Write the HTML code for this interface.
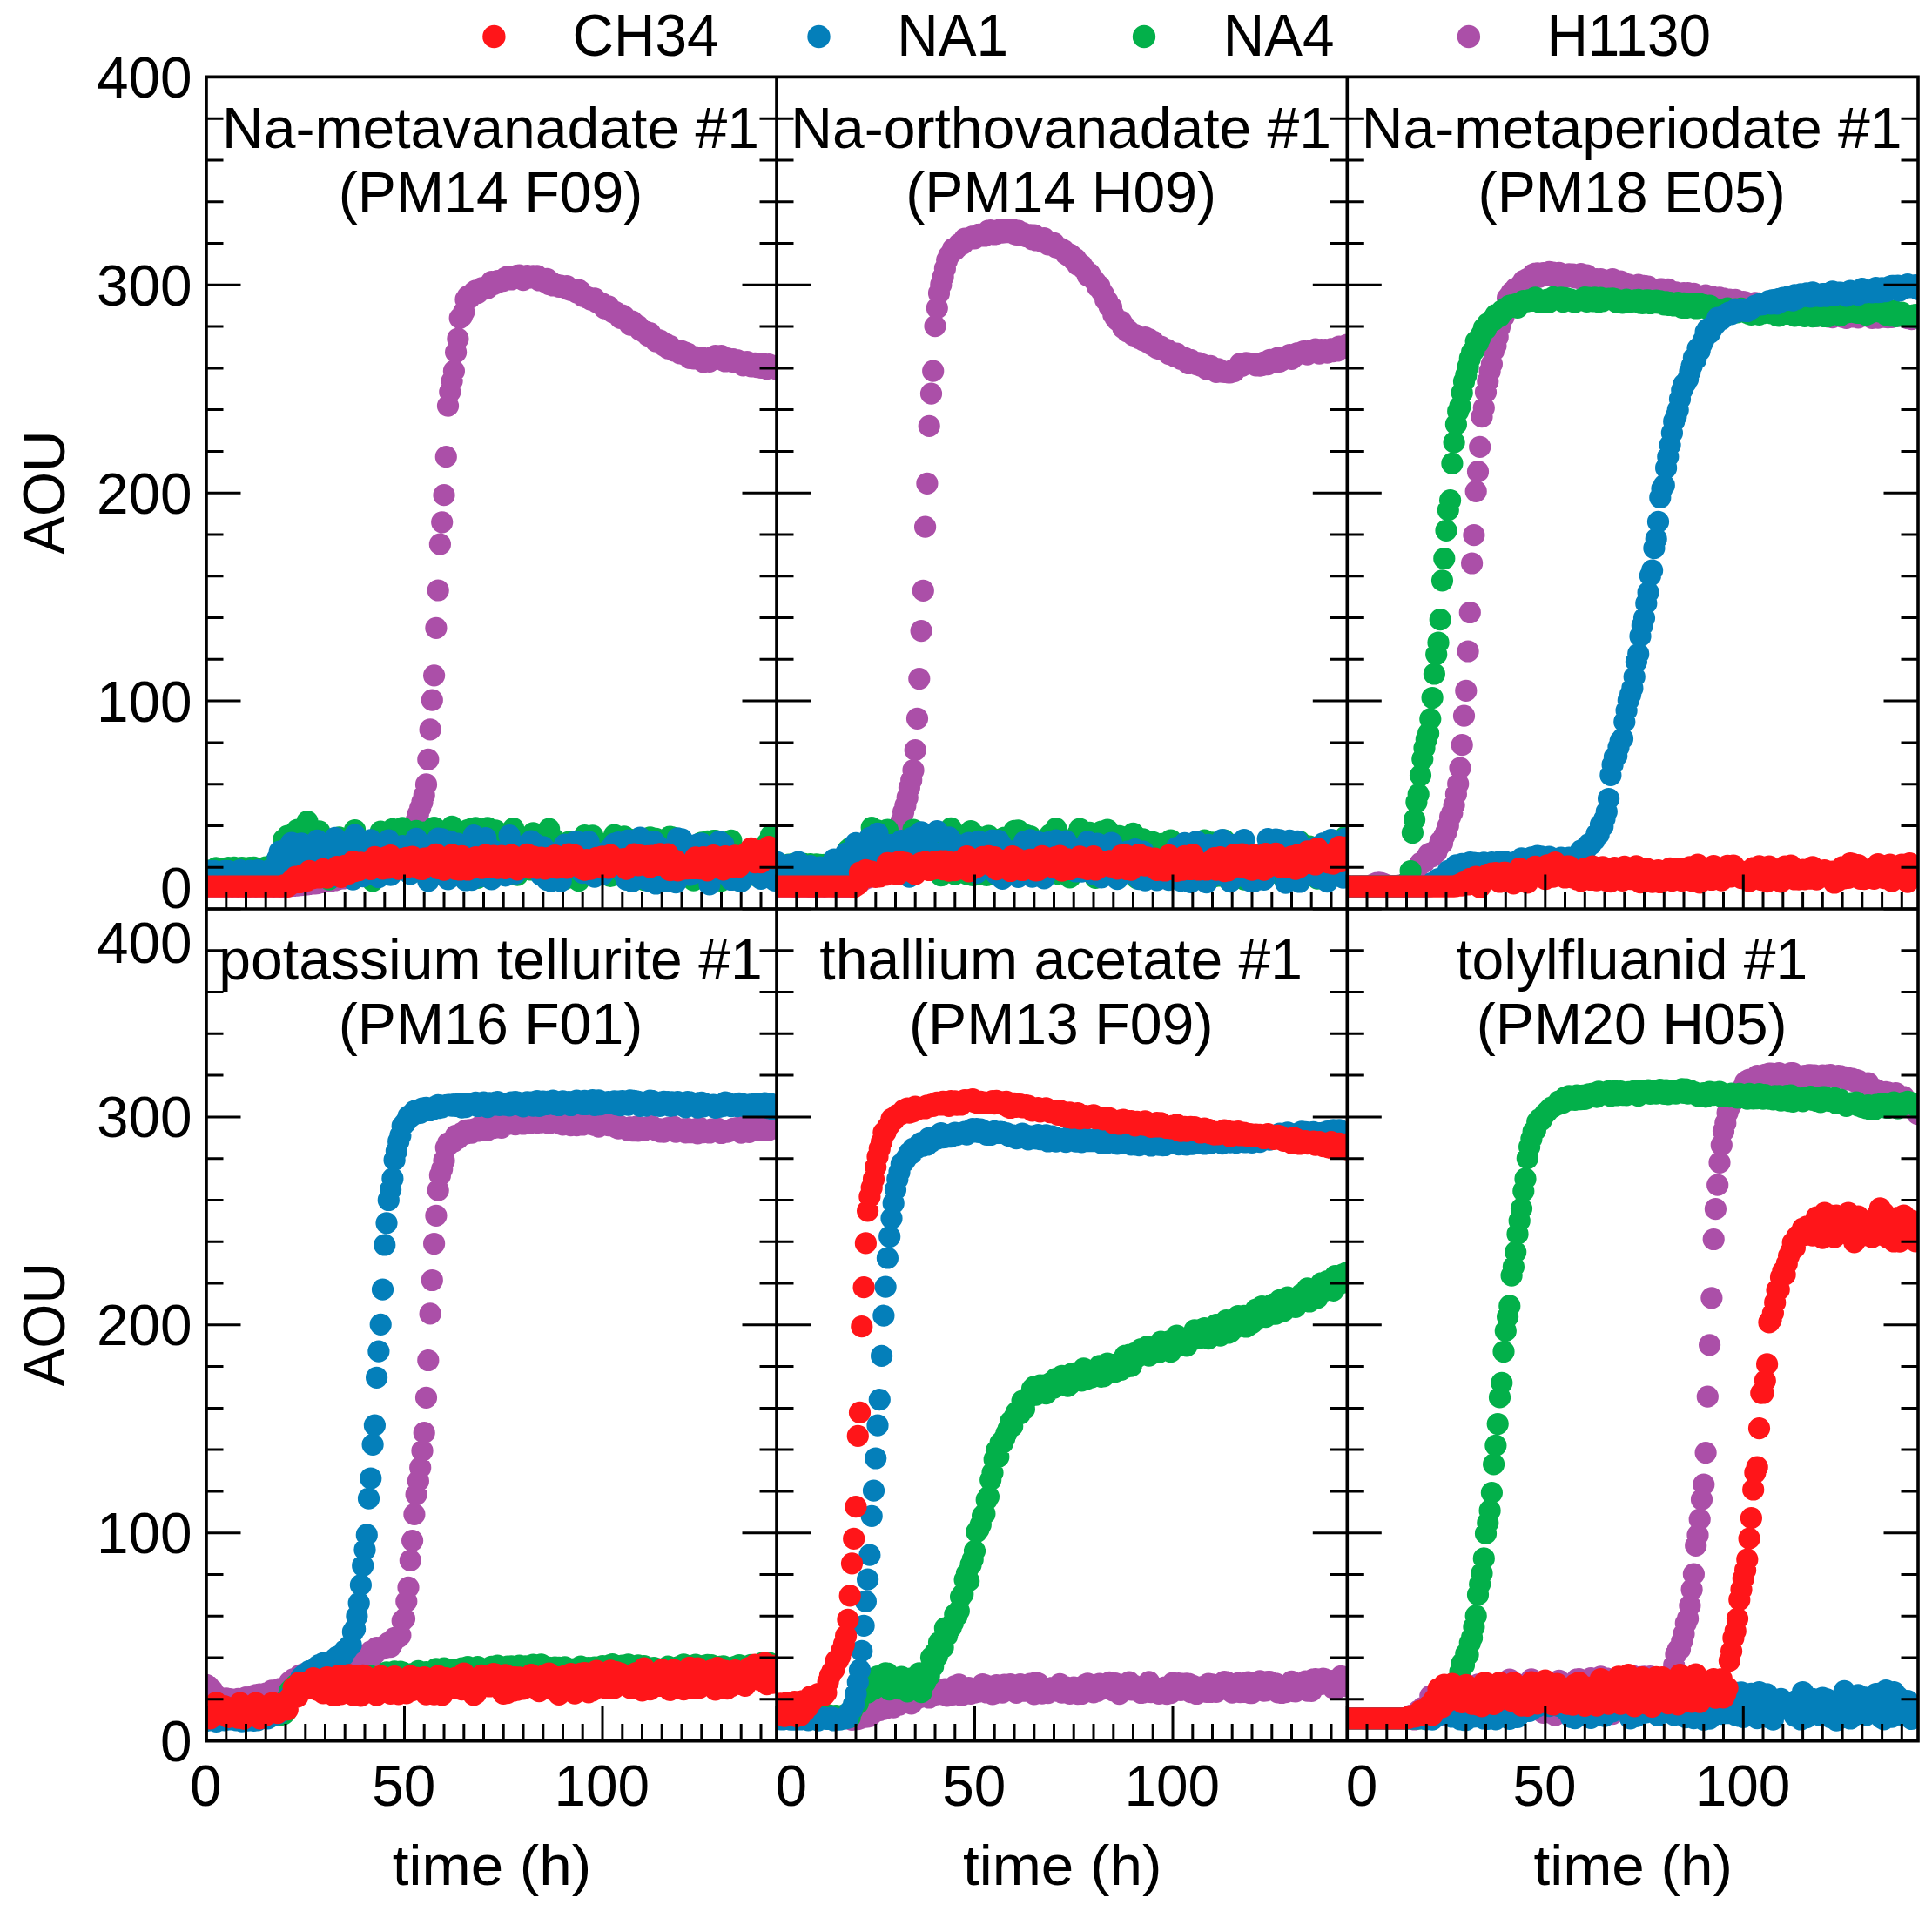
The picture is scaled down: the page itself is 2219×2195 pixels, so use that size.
<!DOCTYPE html>
<html lang="en"><head><meta charset="utf-8"><title>AOU curves</title>
<style>html,body{margin:0;padding:0;background:#fff}svg{display:block}text{font-family:"Liberation Sans",Arial,sans-serif;font-size:65.7px;fill:#000}.d{fill:none;stroke-linecap:round;stroke-width:25.2}.ax{stroke:#000;stroke-width:3.6;fill:none;stroke-linecap:square}.tk{stroke:#000;stroke-width:3;fill:none}</style></head><body>
<svg width="2219" height="2195" viewBox="0 0 2219 2195">
<rect width="2219" height="2195" fill="#fff"/>
<defs>
<clipPath id="c0"><rect x="237.0" y="88.4" width="655.0" height="955.6"/></clipPath>
<clipPath id="c1"><rect x="892.0" y="88.4" width="655.3" height="955.6"/></clipPath>
<clipPath id="c2"><rect x="1547.3" y="88.4" width="655.7" height="955.6"/></clipPath>
<clipPath id="c3"><rect x="237.0" y="1044.0" width="655.0" height="955.6"/></clipPath>
<clipPath id="c4"><rect x="892.0" y="1044.0" width="655.3" height="955.6"/></clipPath>
<clipPath id="c5"><rect x="1547.3" y="1044.0" width="655.7" height="955.6"/></clipPath>
</defs>
<g clip-path="url(#c0)">
<path class="d" stroke="#ab4fa8" d="M237.0 1018.2h0M239.3 1018.2h0M241.6 1018.2h0M243.8 1018.2h0M246.1 1018.2h0M248.4 1018.2h0M250.7 1018.2h0M252.9 1018.2h0M255.2 1018.2h0M257.5 1018.2h0M259.8 1018.2h0M262.0 1018.2h0M264.3 1018.2h0M266.6 1018.3h0M268.9 1018.2h0M271.1 1018.1h0M273.4 1018.3h0M275.7 1018.2h0M277.9 1018.1h0M280.2 1018.3h0M282.5 1018.2h0M284.8 1018.1h0M287.1 1018.3h0M289.3 1018.2h0M291.6 1018.1h0M293.9 1018.3h0M296.1 1018.2h0M298.4 1018.1h0M300.7 1018.1h0M303.0 1018.2h0M305.2 1018.3h0M307.5 1018.2h0M309.8 1018.2h0M312.1 1018.2h0M314.4 1018.3h0M316.6 1018.1h0M318.9 1018.1h0M321.2 1018.3h0M323.4 1018.2h0M325.7 1018.3h0M328.0 1018.1h0M330.3 1018.1h0M332.6 1017.8h0M334.8 1017.7h0M337.1 1017.5h0M339.4 1017.1h0M341.6 1017.1h0M343.9 1016.6h0M346.2 1016.7h0M348.5 1016.1h0M350.8 1016.1h0M353.0 1015.8h0M355.3 1015.5h0M357.6 1015.2h0M359.9 1015.0h0M362.1 1014.9h0M364.4 1014.6h0M366.7 1013.8h0M368.9 1013.5h0M371.2 1013.1h0M373.5 1012.5h0M375.8 1012.3h0M378.0 1012.3h0M380.3 1011.8h0M382.6 1011.1h0M384.9 1011.0h0M387.1 1010.0h0M389.4 1009.6h0M391.7 1009.2h0M394.0 1009.0h0M396.2 1008.2h0M398.5 1008.3h0M400.8 1007.7h0M403.1 1007.0h0M405.4 1006.2h0M407.6 1005.9h0M409.9 1005.7h0M412.2 1005.0h0M414.4 1004.5h0M416.7 1004.1h0M419.0 1003.7h0M421.3 1003.0h0M423.5 1002.6h0M425.8 1001.9h0M428.1 1001.4h0M430.4 1001.3h0M432.6 1001.0h0M434.9 1000.2h0M437.2 999.5h0M439.5 999.1h0M441.8 998.3h0M444.0 997.2h0M446.3 996.9h0M448.6 994.4h0M450.9 993.3h0M453.1 991.2h0M455.4 988.7h0M457.7 986.4h0M459.9 984.3h0M462.2 980.4h0M464.5 977.6h0M466.8 973.4h0M469.0 968.4h0M471.3 963.8h0M473.6 957.8h0M475.9 950.6h0M478.1 942.6h0M480.4 934.6h0M482.7 928.1h0M485.0 921.2h0M487.2 913.4h0M489.5 900.9h0M491.8 872.3h0M494.1 837.9h0M496.3 804.2h0M498.6 775.8h0M500.9 721.3h0M503.2 678.0h0M505.4 625.2h0M507.7 599.8h0M510.0 568.7h0M512.3 524.7h0M514.5 466.1h0M516.8 450.1h0M519.1 437.6h0M521.4 426.2h0M523.6 404.6h0M525.9 389.0h0M528.2 365.3h0M530.5 363.3h0M532.8 358.3h0M535.0 344.0h0M537.3 340.3h0M539.6 342.0h0M541.8 338.7h0M544.1 335.7h0M546.4 333.8h0M548.7 336.7h0M551.0 332.8h0M553.2 330.9h0M555.5 331.0h0M557.8 331.7h0M560.0 331.0h0M562.3 328.0h0M564.6 323.6h0M566.9 326.6h0M569.1 325.7h0M571.4 322.7h0M573.7 323.7h0M576.0 322.5h0M578.2 322.6h0M580.5 319.2h0M582.8 317.9h0M585.1 319.4h0M587.3 321.0h0M589.6 319.9h0M591.9 318.4h0M594.2 316.4h0M596.5 316.1h0M598.7 320.4h0M601.0 321.7h0M603.3 317.0h0M605.5 316.5h0M607.8 319.2h0M610.1 317.4h0M612.4 316.8h0M614.6 318.3h0M616.9 316.8h0M619.2 322.0h0M621.5 321.2h0M623.8 322.0h0M626.0 323.9h0M628.3 320.4h0M630.6 326.5h0M632.8 323.8h0M635.1 328.0h0M637.4 327.0h0M639.7 327.3h0M642.0 329.3h0M644.2 328.0h0M646.5 328.5h0M648.8 330.4h0M651.0 328.7h0M653.3 332.7h0M655.6 333.4h0M657.9 333.3h0M660.1 334.1h0M662.4 336.2h0M664.7 333.2h0M667.0 334.8h0M669.2 340.1h0M671.5 339.9h0M673.8 341.9h0M676.1 341.9h0M678.3 344.1h0M680.6 344.0h0M682.9 342.8h0M685.2 347.2h0M687.5 346.9h0M689.7 348.5h0M692.0 348.9h0M694.3 354.2h0M696.5 351.6h0M698.8 351.9h0M701.1 355.3h0M703.4 358.5h0M705.6 357.8h0M707.9 359.1h0M710.2 361.0h0M712.5 365.4h0M714.8 362.1h0M717.0 363.7h0M719.3 368.2h0M721.6 368.6h0M723.8 373.2h0M726.1 369.1h0M728.4 371.4h0M730.7 373.8h0M733.0 374.4h0M735.2 379.1h0M737.5 379.8h0M739.8 381.6h0M742.0 381.1h0M744.3 385.6h0M746.6 382.6h0M748.9 386.7h0M751.1 388.5h0M753.4 392.0h0M755.7 390.3h0M758.0 391.0h0M760.2 393.4h0M762.5 397.0h0M764.8 395.2h0M767.1 400.1h0M769.4 397.4h0M771.6 400.0h0M773.9 402.8h0M776.2 402.5h0M778.4 402.9h0M780.7 405.9h0M783.0 403.4h0M785.3 406.8h0M787.5 405.0h0M789.8 406.2h0M792.1 411.3h0M794.4 409.1h0M796.6 411.8h0M798.9 410.0h0M801.2 411.8h0M803.5 412.8h0M805.8 410.7h0M808.0 415.8h0M810.3 413.0h0M812.6 414.1h0M814.9 415.3h0M817.1 410.5h0M819.4 411.0h0M821.7 408.7h0M823.9 410.4h0M826.2 412.0h0M828.5 408.6h0M830.8 414.1h0M833.0 415.0h0M835.3 411.7h0M837.6 414.4h0M839.9 415.1h0M842.1 412.7h0M844.4 416.3h0M846.7 413.5h0M849.0 415.4h0M851.2 417.7h0M853.5 419.8h0M855.8 419.2h0M858.1 415.5h0M860.4 419.1h0M862.6 420.9h0M864.9 420.4h0M867.2 417.3h0M869.4 421.7h0M871.7 418.5h0M874.0 422.4h0M876.3 417.9h0M878.5 420.6h0M880.8 423.6h0M883.1 418.7h0M885.4 422.2h0M887.6 420.2h0M889.9 421.5h0M892.2 424.0h0"/>
<path class="d" stroke="#03b04a" d="M237.0 1000.1h0M239.3 1000.0h0M241.6 999.9h0M243.8 1000.4h0M246.1 1000.4h0M248.4 996.8h0M250.7 1000.2h0M252.9 998.5h0M255.2 1000.1h0M257.5 999.7h0M259.8 997.5h0M262.0 996.7h0M264.3 998.6h0M266.6 1000.6h0M268.9 996.4h0M271.1 1000.4h0M273.4 998.9h0M275.7 998.2h0M277.9 996.6h0M280.2 996.9h0M282.5 997.8h0M284.8 998.7h0M287.1 996.7h0M289.3 996.5h0M291.6 996.4h0M293.9 997.0h0M296.1 999.8h0M298.4 998.8h0M300.7 997.9h0M303.0 997.7h0M305.2 996.1h0M307.5 998.8h0M309.8 996.7h0M312.1 998.5h0M314.4 992.5h0M316.6 996.7h0M318.9 987.6h0M321.2 991.6h0M323.4 987.1h0M325.7 964.6h0M328.0 982.0h0M330.3 960.1h0M332.6 971.6h0M334.8 989.6h0M337.1 957.6h0M339.4 988.8h0M341.6 953.0h0M343.9 991.7h0M346.2 958.7h0M348.5 985.6h0M350.8 977.3h0M353.0 943.7h0M355.3 972.1h0M357.6 963.5h0M359.9 960.3h0M362.1 999.8h0M364.4 957.9h0M366.7 954.8h0M368.9 1001.5h0M371.2 978.8h0M373.5 994.9h0M375.8 967.4h0M378.0 1010.2h0M380.3 981.1h0M382.6 964.2h0M384.9 967.7h0M387.1 1005.5h0M389.4 961.8h0M391.7 997.7h0M394.0 963.2h0M396.2 982.0h0M398.5 1002.3h0M400.8 967.6h0M403.1 963.1h0M405.4 969.7h0M407.6 953.5h0M409.9 996.5h0M412.2 997.8h0M414.4 1003.1h0M416.7 979.3h0M419.0 987.8h0M421.3 990.3h0M423.5 984.0h0M425.8 995.3h0M428.1 1011.8h0M430.4 983.2h0M432.6 995.2h0M434.9 984.5h0M437.2 955.2h0M439.5 1001.1h0M441.8 972.9h0M444.0 972.5h0M446.3 994.7h0M448.6 983.1h0M450.9 952.4h0M453.1 990.9h0M455.4 968.1h0M457.7 960.2h0M459.9 989.7h0M462.2 950.9h0M464.5 973.3h0M466.8 980.9h0M469.0 967.7h0M471.3 985.6h0M473.6 967.8h0M475.9 994.8h0M478.1 954.4h0M480.4 978.2h0M482.7 996.8h0M485.0 984.6h0M487.2 956.2h0M489.5 961.6h0M491.8 981.6h0M494.1 989.8h0M496.3 988.3h0M498.6 950.5h0M500.9 1004.6h0M503.2 956.2h0M505.4 958.1h0M507.7 997.6h0M510.0 989.7h0M512.3 976.0h0M514.5 961.4h0M516.8 952.0h0M519.1 949.4h0M521.4 993.9h0M523.6 999.4h0M525.9 980.9h0M528.2 976.5h0M530.5 970.2h0M532.8 1004.7h0M535.0 970.8h0M537.3 953.4h0M539.6 953.8h0M541.8 951.9h0M544.1 953.2h0M546.4 950.8h0M548.7 1008.3h0M551.0 953.5h0M553.2 994.2h0M555.5 991.1h0M557.8 982.3h0M560.0 950.9h0M562.3 973.0h0M564.6 989.0h0M566.9 987.6h0M569.1 953.9h0M571.4 959.1h0M573.7 1002.6h0M576.0 995.6h0M578.2 987.7h0M580.5 997.6h0M582.8 975.5h0M585.1 997.2h0M587.3 974.7h0M589.6 951.7h0M591.9 957.2h0M594.2 1005.1h0M596.5 998.3h0M598.7 985.1h0M601.0 970.1h0M603.3 986.8h0M605.5 995.6h0M607.8 989.7h0M610.1 999.0h0M612.4 956.9h0M614.6 967.8h0M616.9 986.5h0M619.2 968.1h0M621.5 980.1h0M623.8 980.0h0M626.0 990.6h0M628.3 983.2h0M630.6 952.1h0M632.8 965.3h0M635.1 963.0h0M637.4 1006.8h0M639.7 983.6h0M642.0 992.1h0M644.2 1008.9h0M646.5 990.5h0M648.8 1009.6h0M651.0 1000.0h0M653.3 967.0h0M655.6 973.8h0M657.9 973.2h0M660.1 1008.6h0M662.4 1003.6h0M664.7 1011.5h0M667.0 1007.1h0M669.2 1006.8h0M671.5 959.7h0M673.8 963.4h0M676.1 1001.2h0M678.3 998.5h0M680.6 959.9h0M682.9 981.3h0M685.2 992.4h0M687.5 987.1h0M689.7 997.7h0M692.0 980.8h0M694.3 973.1h0M696.5 984.6h0M698.8 968.1h0M701.1 1006.5h0M703.4 980.0h0M705.6 959.1h0M707.9 1004.6h0M710.2 986.0h0M712.5 978.7h0M714.8 994.5h0M717.0 960.8h0M719.3 986.6h0M721.6 987.0h0M723.8 964.3h0M726.1 1012.0h0M728.4 966.2h0M730.7 1005.9h0M733.0 992.5h0M735.2 986.7h0M737.5 987.4h0M739.8 1010.7h0M742.0 995.9h0M744.3 993.8h0M746.6 961.9h0M748.9 964.0h0M751.1 981.8h0M753.4 963.3h0M755.7 967.0h0M758.0 992.9h0M760.2 1006.6h0M762.5 980.7h0M764.8 995.8h0M767.1 1012.3h0M769.4 961.0h0M771.6 961.7h0M773.9 984.5h0M776.2 980.3h0M778.4 977.6h0M780.7 964.1h0M783.0 988.2h0M785.3 982.2h0M787.5 1000.9h0M789.8 1000.1h0M792.1 985.4h0M794.4 1000.7h0M796.6 1011.1h0M798.9 993.5h0M801.2 973.6h0M803.5 998.2h0M805.8 967.8h0M808.0 976.1h0M810.3 978.7h0M812.6 966.3h0M814.9 1008.7h0M817.1 1003.3h0M819.4 965.5h0M821.7 965.6h0M823.9 1008.4h0M826.2 972.5h0M828.5 1011.6h0M830.8 1005.4h0M833.0 1006.7h0M835.3 997.2h0M837.6 992.2h0M839.9 965.4h0M842.1 989.6h0M844.4 1005.5h0M846.7 997.7h0M849.0 1011.2h0M851.2 1009.9h0M853.5 989.1h0M855.8 984.8h0M858.1 998.0h0M860.4 991.2h0M862.6 1005.0h0M864.9 976.6h0M867.2 989.9h0M869.4 1001.3h0M871.7 984.1h0M874.0 998.5h0M876.3 994.0h0M878.5 1002.2h0M880.8 968.9h0M883.1 993.9h0M885.4 959.6h0M887.6 987.1h0M889.9 999.4h0M892.2 971.6h0"/>
<path class="d" stroke="#047fba" d="M237.0 1001.1h0M239.3 1000.4h0M241.6 1004.0h0M243.8 1000.8h0M246.1 1000.4h0M248.4 1003.1h0M250.7 1002.4h0M252.9 1001.6h0M255.2 1003.4h0M257.5 1000.3h0M259.8 1001.1h0M262.0 1000.3h0M264.3 1002.4h0M266.6 1002.0h0M268.9 1003.6h0M271.1 1003.0h0M273.4 1000.8h0M275.7 999.5h0M277.9 1003.8h0M280.2 1004.3h0M282.5 1004.2h0M284.8 1002.2h0M287.1 1000.2h0M289.3 1003.2h0M291.6 1001.8h0M293.9 1001.5h0M296.1 999.7h0M298.4 1003.4h0M300.7 1004.1h0M303.0 1001.3h0M305.2 1002.1h0M307.5 1002.4h0M309.8 999.5h0M312.1 999.2h0M314.4 1005.1h0M316.6 995.3h0M318.9 985.7h0M321.2 978.2h0M323.4 1001.0h0M325.7 976.9h0M328.0 1000.6h0M330.3 979.4h0M332.6 981.8h0M334.8 968.0h0M337.1 979.6h0M339.4 1002.4h0M341.6 977.2h0M343.9 995.4h0M346.2 968.9h0M348.5 1007.0h0M350.8 993.1h0M353.0 975.4h0M355.3 1001.6h0M357.6 976.9h0M359.9 974.3h0M362.1 972.5h0M364.4 965.3h0M366.7 988.7h0M368.9 1002.4h0M371.2 996.5h0M373.5 989.9h0M375.8 1006.9h0M378.0 973.8h0M380.3 1006.6h0M382.6 1006.9h0M384.9 962.4h0M387.1 968.8h0M389.4 997.0h0M391.7 992.5h0M394.0 967.8h0M396.2 978.4h0M398.5 996.6h0M400.8 987.1h0M403.1 966.3h0M405.4 1010.2h0M407.6 959.2h0M409.9 981.2h0M412.2 1001.0h0M414.4 969.2h0M416.7 1006.6h0M419.0 989.4h0M421.3 980.9h0M423.5 997.9h0M425.8 964.8h0M428.1 974.6h0M430.4 1002.4h0M432.6 1003.0h0M434.9 1007.7h0M437.2 981.2h0M439.5 1001.3h0M441.8 982.7h0M444.0 968.3h0M446.3 965.2h0M448.6 1005.2h0M450.9 993.9h0M453.1 989.5h0M455.4 991.3h0M457.7 989.5h0M459.9 987.4h0M462.2 971.7h0M464.5 995.6h0M466.8 993.6h0M469.0 991.2h0M471.3 1003.9h0M473.6 978.5h0M475.9 990.8h0M478.1 963.4h0M480.4 968.5h0M482.7 1000.0h0M485.0 999.4h0M487.2 970.6h0M489.5 982.5h0M491.8 1011.9h0M494.1 978.8h0M496.3 991.4h0M498.6 970.6h0M500.9 972.6h0M503.2 963.2h0M505.4 975.2h0M507.7 963.8h0M510.0 997.6h0M512.3 994.8h0M514.5 1009.9h0M516.8 966.3h0M519.1 1004.9h0M521.4 983.4h0M523.6 985.7h0M525.9 969.2h0M528.2 992.4h0M530.5 1005.8h0M532.8 992.7h0M535.0 1011.0h0M537.3 997.2h0M539.6 979.4h0M541.8 1010.7h0M544.1 959.7h0M546.4 984.6h0M548.7 997.5h0M551.0 968.3h0M553.2 1006.5h0M555.5 996.4h0M557.8 962.7h0M560.0 1001.0h0M562.3 974.0h0M564.6 1009.8h0M566.9 985.0h0M569.1 978.2h0M571.4 1002.8h0M573.7 996.3h0M576.0 984.1h0M578.2 982.0h0M580.5 1005.9h0M582.8 991.8h0M585.1 959.7h0M587.3 996.7h0M589.6 971.4h0M591.9 1003.3h0M594.2 989.2h0M596.5 986.1h0M598.7 981.9h0M601.0 975.2h0M603.3 971.0h0M605.5 976.2h0M607.8 970.4h0M610.1 966.2h0M612.4 996.7h0M614.6 969.4h0M616.9 986.1h0M619.2 1000.3h0M621.5 1005.0h0M623.8 972.9h0M626.0 979.9h0M628.3 1010.6h0M630.6 982.6h0M632.8 1012.0h0M635.1 993.3h0M637.4 983.5h0M639.7 979.2h0M642.0 1005.9h0M644.2 1012.1h0M646.5 983.3h0M648.8 970.2h0M651.0 971.4h0M653.3 995.1h0M655.6 983.3h0M657.9 975.7h0M660.1 967.4h0M662.4 988.0h0M664.7 967.3h0M667.0 997.4h0M669.2 1002.7h0M671.5 998.7h0M673.8 975.2h0M676.1 966.9h0M678.3 989.2h0M680.6 977.1h0M682.9 1007.1h0M685.2 987.3h0M687.5 991.2h0M689.7 991.4h0M692.0 1004.5h0M694.3 981.2h0M696.5 978.6h0M698.8 980.5h0M701.1 974.8h0M703.4 990.1h0M705.6 969.0h0M707.9 984.1h0M710.2 967.5h0M712.5 992.8h0M714.8 977.3h0M717.0 1004.2h0M719.3 1010.3h0M721.6 965.0h0M723.8 995.0h0M726.1 1012.4h0M728.4 981.8h0M730.7 965.0h0M733.0 973.8h0M735.2 962.2h0M737.5 965.1h0M739.8 990.6h0M742.0 1002.5h0M744.3 1011.5h0M746.6 1000.5h0M748.9 981.4h0M751.1 966.6h0M753.4 1015.0h0M755.7 971.6h0M758.0 974.5h0M760.2 978.5h0M762.5 1008.4h0M764.8 1012.4h0M767.1 976.2h0M769.4 981.3h0M771.6 995.7h0M773.9 997.0h0M776.2 1013.6h0M778.4 962.8h0M780.7 971.2h0M783.0 963.9h0M785.3 972.3h0M787.5 991.3h0M789.8 970.9h0M792.1 1005.2h0M794.4 980.2h0M796.6 1003.2h0M798.9 995.1h0M801.2 969.9h0M803.5 993.5h0M805.8 968.8h0M808.0 984.4h0M810.3 1000.6h0M812.6 1002.4h0M814.9 1015.9h0M817.1 986.1h0M819.4 972.2h0M821.7 1004.2h0M823.9 991.1h0M826.2 966.5h0M828.5 995.3h0M830.8 970.0h0M833.0 975.9h0M835.3 991.4h0M837.6 985.9h0M839.9 1010.5h0M842.1 992.3h0M844.4 983.4h0M846.7 1004.6h0M849.0 1011.5h0M851.2 1012.3h0M853.5 1008.1h0M855.8 1005.6h0M858.1 985.5h0M860.4 998.1h0M862.6 995.6h0M864.9 1003.8h0M867.2 1004.5h0M869.4 995.6h0M871.7 988.9h0M874.0 1009.3h0M876.3 1000.4h0M878.5 993.0h0M880.8 981.8h0M883.1 1006.7h0M885.4 1002.3h0M887.6 996.1h0M889.9 1011.4h0M892.2 994.6h0"/>
<path class="d" stroke="#ff1519" d="M237.0 1018.2h0M239.3 1018.2h0M241.6 1018.2h0M243.8 1018.2h0M246.1 1018.2h0M248.4 1018.2h0M250.7 1018.2h0M252.9 1018.2h0M255.2 1018.2h0M257.5 1018.2h0M259.8 1018.2h0M262.0 1018.2h0M264.3 1018.2h0M266.6 1018.2h0M268.9 1018.2h0M271.1 1018.2h0M273.4 1018.2h0M275.7 1018.2h0M277.9 1018.2h0M280.2 1018.2h0M282.5 1018.2h0M284.8 1018.2h0M287.1 1018.2h0M289.3 1018.2h0M291.6 1018.2h0M293.9 1018.2h0M296.1 1018.2h0M298.4 1018.2h0M300.7 1018.2h0M303.0 1018.2h0M305.2 1018.2h0M307.5 1018.2h0M309.8 1018.2h0M312.1 1018.2h0M314.4 1018.2h0M316.6 1018.2h0M318.9 1018.2h0M321.2 1018.2h0M323.4 1018.2h0M325.7 1016.9h0M328.0 1016.6h0M330.3 1018.4h0M332.6 1016.7h0M334.8 1011.6h0M337.1 1011.1h0M339.4 1007.1h0M341.6 1007.5h0M343.9 1013.5h0M346.2 1010.4h0M348.5 1004.5h0M350.8 1008.5h0M353.0 1011.3h0M355.3 1000.3h0M357.6 1007.1h0M359.9 1008.7h0M362.1 1005.1h0M364.4 1008.0h0M366.7 1008.0h0M368.9 1001.1h0M371.2 998.3h0M373.5 1004.4h0M375.8 1008.2h0M378.0 1002.4h0M380.3 1003.2h0M382.6 1002.2h0M384.9 1005.2h0M387.1 995.6h0M389.4 1005.0h0M391.7 1007.4h0M394.0 995.5h0M396.2 994.4h0M398.5 1002.7h0M400.8 1003.4h0M403.1 995.9h0M405.4 989.6h0M407.6 1000.7h0M409.9 995.3h0M412.2 999.6h0M414.4 990.9h0M416.7 995.2h0M419.0 996.3h0M421.3 991.1h0M423.5 992.9h0M425.8 998.3h0M428.1 994.2h0M430.4 984.4h0M432.6 986.8h0M434.9 991.7h0M437.2 988.9h0M439.5 997.8h0M441.8 993.0h0M444.0 984.4h0M446.3 996.8h0M448.6 982.7h0M450.9 985.0h0M453.1 987.8h0M455.4 993.3h0M457.7 998.2h0M459.9 994.5h0M462.2 986.6h0M464.5 992.2h0M466.8 985.4h0M469.0 995.7h0M471.3 984.9h0M473.6 984.2h0M475.9 986.6h0M478.1 995.8h0M480.4 995.4h0M482.7 998.2h0M485.0 998.4h0M487.2 986.1h0M489.5 990.5h0M491.8 985.7h0M494.1 994.2h0M496.3 993.1h0M498.6 983.2h0M500.9 981.4h0M503.2 997.4h0M505.4 985.2h0M507.7 989.2h0M510.0 999.1h0M512.3 988.2h0M514.5 994.2h0M516.8 992.9h0M519.1 981.8h0M521.4 985.9h0M523.6 998.3h0M525.9 987.0h0M528.2 999.0h0M530.5 983.3h0M532.8 988.5h0M535.0 987.9h0M537.3 999.0h0M539.6 997.8h0M541.8 989.8h0M544.1 992.4h0M546.4 984.5h0M548.7 994.2h0M551.0 992.1h0M553.2 997.2h0M555.5 990.2h0M557.8 982.0h0M560.0 994.5h0M562.3 984.9h0M564.6 996.4h0M566.9 983.2h0M569.1 990.0h0M571.4 997.1h0M573.7 985.1h0M576.0 983.1h0M578.2 996.8h0M580.5 997.3h0M582.8 994.8h0M585.1 990.0h0M587.3 982.0h0M589.6 983.6h0M591.9 993.5h0M594.2 998.8h0M596.5 988.5h0M598.7 988.9h0M601.0 995.0h0M603.3 988.3h0M605.5 981.3h0M607.8 996.8h0M610.1 993.7h0M612.4 983.8h0M614.6 996.6h0M616.9 997.1h0M619.2 996.3h0M621.5 985.2h0M623.8 997.2h0M626.0 997.9h0M628.3 987.9h0M630.6 985.3h0M632.8 985.5h0M635.1 991.5h0M637.4 982.5h0M639.7 996.8h0M642.0 991.3h0M644.2 992.7h0M646.5 989.4h0M648.8 996.0h0M651.0 996.9h0M653.3 981.2h0M655.6 994.0h0M657.9 990.3h0M660.1 982.4h0M662.4 994.0h0M664.7 992.8h0M667.0 989.1h0M669.2 998.4h0M671.5 999.2h0M673.8 987.7h0M676.1 992.7h0M678.3 998.2h0M680.6 994.3h0M682.9 986.6h0M685.2 985.3h0M687.5 990.1h0M689.7 995.5h0M692.0 983.8h0M694.3 995.8h0M696.5 985.4h0M698.8 996.8h0M701.1 982.0h0M703.4 985.0h0M705.6 990.2h0M707.9 991.5h0M710.2 988.9h0M712.5 987.2h0M714.8 989.1h0M717.0 986.5h0M719.3 998.1h0M721.6 991.8h0M723.8 985.4h0M726.1 991.4h0M728.4 981.2h0M730.7 989.6h0M733.0 993.9h0M735.2 982.7h0M737.5 991.7h0M739.8 989.4h0M742.0 987.5h0M744.3 983.4h0M746.6 995.8h0M748.9 983.0h0M751.1 988.8h0M753.4 992.8h0M755.7 993.4h0M758.0 980.9h0M760.2 981.6h0M762.5 989.4h0M764.8 993.2h0M767.1 981.1h0M769.4 999.6h0M771.6 999.0h0M773.9 990.5h0M776.2 988.6h0M778.4 999.8h0M780.7 996.3h0M783.0 998.3h0M785.3 995.1h0M787.5 996.4h0M789.8 997.6h0M792.1 997.5h0M794.4 992.8h0M796.6 997.5h0M798.9 984.9h0M801.2 992.1h0M803.5 997.7h0M805.8 987.3h0M808.0 984.6h0M810.3 993.0h0M812.6 999.9h0M814.9 987.3h0M817.1 985.3h0M819.4 982.6h0M821.7 986.1h0M823.9 988.3h0M826.2 993.3h0M828.5 995.3h0M830.8 998.8h0M833.0 983.7h0M835.3 988.5h0M837.6 993.6h0M839.9 996.4h0M842.1 992.6h0M844.4 982.8h0M846.7 993.0h0M849.0 995.7h0M851.2 988.6h0M853.5 988.9h0M855.8 981.2h0M858.1 983.6h0M860.4 984.8h0M862.6 974.4h0M864.9 976.7h0M867.2 990.6h0M869.4 987.8h0M871.7 984.1h0M874.0 990.6h0M876.3 976.6h0M878.5 976.0h0M880.8 985.2h0M883.1 972.6h0M885.4 979.4h0M887.6 985.6h0M889.9 977.4h0M892.2 976.0h0"/>
</g>
<g clip-path="url(#c1)">
<path class="d" stroke="#ab4fa8" d="M892.0 1018.2h0M894.3 1018.2h0M896.5 1018.2h0M898.8 1018.2h0M901.1 1018.2h0M903.4 1018.2h0M905.6 1018.2h0M907.9 1018.2h0M910.2 1018.3h0M912.5 1018.1h0M914.8 1018.3h0M917.0 1018.3h0M919.3 1018.2h0M921.6 1018.2h0M923.9 1018.2h0M926.1 1018.1h0M928.4 1018.3h0M930.7 1018.3h0M933.0 1018.2h0M935.2 1018.3h0M937.5 1018.1h0M939.8 1018.0h0M942.0 1018.1h0M944.3 1018.0h0M946.6 1018.4h0M948.9 1018.2h0M951.1 1018.0h0M953.4 1018.0h0M955.7 1018.2h0M958.0 1018.1h0M960.2 1018.3h0M962.5 1018.3h0M964.8 1018.4h0M967.1 1018.0h0M969.4 1018.3h0M971.6 1017.9h0M973.9 1018.5h0M976.2 1018.0h0M978.5 1018.2h0M980.7 1018.1h0M983.0 1016.6h0M985.3 1015.2h0M987.5 1013.5h0M989.8 1011.8h0M992.1 1010.4h0M994.4 1009.2h0M996.6 1008.4h0M998.9 1006.8h0M1001.2 1006.1h0M1003.5 1005.0h0M1005.8 1002.9h0M1008.0 1001.9h0M1010.3 999.7h0M1012.6 997.2h0M1014.9 994.7h0M1017.1 992.7h0M1019.4 990.4h0M1021.7 987.0h0M1024.0 983.5h0M1026.2 979.3h0M1028.5 973.9h0M1030.8 965.4h0M1033.0 955.9h0M1035.3 942.9h0M1037.6 932.7h0M1039.9 925.1h0M1042.2 915.9h0M1044.4 904.7h0M1046.7 896.1h0M1049.0 884.7h0M1051.2 861.6h0M1053.5 825.3h0M1055.8 779.6h0M1058.1 724.6h0M1060.3 678.4h0M1062.6 605.2h0M1064.9 555.3h0M1067.2 489.3h0M1069.5 452.1h0M1071.7 426.2h0M1074.0 374.6h0M1076.3 353.8h0M1078.5 336.7h0M1080.8 327.0h0M1083.1 318.1h0M1085.4 308.4h0M1087.7 298.8h0M1089.9 293.8h0M1092.2 291.1h0M1094.5 285.8h0M1096.8 287.2h0M1099.0 284.8h0M1101.3 280.6h0M1103.6 279.4h0M1105.8 280.2h0M1108.1 274.2h0M1110.4 274.6h0M1112.7 273.5h0M1115.0 273.8h0M1117.2 271.6h0M1119.5 273.9h0M1121.8 271.9h0M1124.0 269.3h0M1126.3 269.0h0M1128.6 268.8h0M1130.9 271.0h0M1133.2 269.0h0M1135.4 264.8h0M1137.7 264.6h0M1140.0 265.0h0M1142.2 269.0h0M1144.5 268.7h0M1146.8 267.6h0M1149.1 263.7h0M1151.3 267.1h0M1153.6 266.8h0M1155.9 266.6h0M1158.2 263.9h0M1160.5 265.3h0M1162.7 263.7h0M1165.0 268.6h0M1167.3 269.3h0M1169.5 265.2h0M1171.8 270.1h0M1174.1 267.3h0M1176.4 268.6h0M1178.7 271.6h0M1180.9 272.0h0M1183.2 269.9h0M1185.5 274.8h0M1187.8 270.0h0M1190.0 276.0h0M1192.3 276.1h0M1194.6 274.0h0M1196.8 277.9h0M1199.1 273.6h0M1201.4 277.7h0M1203.7 280.8h0M1206.0 281.2h0M1208.2 280.1h0M1210.5 279.3h0M1212.8 284.1h0M1215.0 284.7h0M1217.3 285.2h0M1219.6 286.4h0M1221.9 287.7h0M1224.2 291.8h0M1226.4 293.3h0M1228.7 292.2h0M1231.0 293.9h0M1233.2 298.8h0M1235.5 297.4h0M1237.8 304.4h0M1240.1 302.8h0M1242.3 304.5h0M1244.6 308.8h0M1246.9 310.4h0M1249.2 316.5h0M1251.5 314.3h0M1253.7 317.8h0M1256.0 321.0h0M1258.3 323.8h0M1260.5 329.3h0M1262.8 328.6h0M1265.1 334.3h0M1267.4 337.8h0M1269.7 344.5h0M1271.9 345.8h0M1274.2 352.0h0M1276.5 352.9h0M1278.8 361.4h0M1281.0 364.8h0M1283.3 367.8h0M1285.6 369.7h0M1287.8 369.4h0M1290.1 376.9h0M1292.4 375.7h0M1294.7 380.8h0M1297.0 380.6h0M1299.2 382.7h0M1301.5 385.1h0M1303.8 384.7h0M1306.0 386.8h0M1308.3 388.5h0M1310.6 387.6h0M1312.9 390.8h0M1315.2 387.5h0M1317.4 392.9h0M1319.7 389.5h0M1322.0 395.5h0M1324.2 392.0h0M1326.5 398.4h0M1328.8 399.9h0M1331.1 400.5h0M1333.3 398.0h0M1335.6 402.0h0M1337.9 402.8h0M1340.2 401.6h0M1342.5 406.6h0M1344.7 404.7h0M1347.0 406.7h0M1349.3 409.4h0M1351.5 406.1h0M1353.8 410.6h0M1356.1 412.3h0M1358.4 411.0h0M1360.7 411.2h0M1362.9 415.9h0M1365.2 417.5h0M1367.5 413.3h0M1369.8 417.2h0M1372.0 417.3h0M1374.3 418.5h0M1376.6 416.9h0M1378.8 420.0h0M1381.1 418.6h0M1383.4 420.6h0M1385.7 423.8h0M1388.0 421.8h0M1390.2 420.4h0M1392.5 423.0h0M1394.8 424.5h0M1397.0 427.4h0M1399.3 423.9h0M1401.6 426.4h0M1403.9 427.2h0M1406.2 427.3h0M1408.4 427.3h0M1410.7 427.9h0M1413.0 427.9h0M1415.2 425.7h0M1417.5 426.6h0M1419.8 423.9h0M1422.1 421.3h0M1424.3 417.9h0M1426.6 420.3h0M1428.9 419.1h0M1431.2 416.8h0M1433.4 417.0h0M1435.7 417.3h0M1438.0 417.7h0M1440.3 417.6h0M1442.5 419.8h0M1444.8 419.9h0M1447.1 420.1h0M1449.4 419.5h0M1451.7 416.0h0M1453.9 415.6h0M1456.2 418.6h0M1458.5 413.3h0M1460.8 415.2h0M1463.0 414.1h0M1465.3 416.5h0M1467.6 411.1h0M1469.8 415.4h0M1472.1 414.1h0M1474.4 412.0h0M1476.7 411.2h0M1478.9 410.5h0M1481.2 407.5h0M1483.5 412.4h0M1485.8 407.8h0M1488.0 408.7h0M1490.3 405.7h0M1492.6 406.0h0M1494.9 404.5h0M1497.2 403.6h0M1499.4 403.6h0M1501.7 407.2h0M1504.0 404.3h0M1506.2 402.6h0M1508.5 402.3h0M1510.8 401.0h0M1513.1 404.0h0M1515.3 406.2h0M1517.6 401.6h0M1519.9 404.1h0M1522.2 401.5h0M1524.4 405.1h0M1526.7 402.9h0M1529.0 400.9h0M1531.3 403.7h0M1533.5 402.3h0M1535.8 403.0h0M1538.1 398.1h0M1540.4 398.5h0M1542.7 399.0h0M1544.9 399.4h0M1547.2 396.2h0"/>
<path class="d" stroke="#03b04a" d="M892.0 996.2h0M894.3 994.0h0M896.5 997.0h0M898.8 994.4h0M901.1 996.5h0M903.4 997.4h0M905.6 993.0h0M907.9 996.1h0M910.2 992.5h0M912.5 994.1h0M914.8 994.1h0M917.0 994.1h0M919.3 992.4h0M921.6 996.3h0M923.9 992.4h0M926.1 995.8h0M928.4 997.0h0M930.7 992.6h0M933.0 996.9h0M935.2 994.9h0M937.5 992.9h0M939.8 995.9h0M942.0 993.4h0M944.3 993.8h0M946.6 993.4h0M948.9 996.4h0M951.1 993.3h0M953.4 992.4h0M955.7 996.3h0M958.0 991.6h0M960.2 991.5h0M962.5 995.0h0M964.8 991.3h0M967.1 989.8h0M969.4 997.3h0M971.6 985.4h0M973.9 976.3h0M976.2 974.3h0M978.5 989.2h0M980.7 981.1h0M983.0 975.0h0M985.3 980.7h0M987.5 979.4h0M989.8 990.0h0M992.1 993.7h0M994.4 981.3h0M996.6 976.1h0M998.9 968.8h0M1001.2 950.6h0M1003.5 992.8h0M1005.8 980.7h0M1008.0 953.8h0M1010.3 956.3h0M1012.6 996.4h0M1014.9 966.2h0M1017.1 999.4h0M1019.4 953.1h0M1021.7 991.6h0M1024.0 973.1h0M1026.2 981.0h0M1028.5 978.8h0M1030.8 995.3h0M1033.0 987.3h0M1035.3 991.6h0M1037.6 973.1h0M1039.9 983.8h0M1042.2 974.4h0M1044.4 977.5h0M1046.7 970.3h0M1049.0 953.0h0M1051.2 977.6h0M1053.5 976.9h0M1055.8 973.1h0M1058.1 976.9h0M1060.3 984.5h0M1062.6 993.7h0M1064.9 977.5h0M1067.2 993.7h0M1069.5 970.6h0M1071.7 957.8h0M1074.0 962.7h0M1076.3 963.4h0M1078.5 995.6h0M1080.8 1005.7h0M1083.1 996.2h0M1085.4 975.5h0M1087.7 1000.6h0M1089.9 1002.0h0M1092.2 951.4h0M1094.5 987.7h0M1096.8 1004.1h0M1099.0 978.8h0M1101.3 968.3h0M1103.6 981.7h0M1105.8 1000.4h0M1108.1 978.7h0M1110.4 1003.9h0M1112.7 966.4h0M1115.0 954.6h0M1117.2 1005.5h0M1119.5 975.5h0M1121.8 960.7h0M1124.0 971.5h0M1126.3 999.5h0M1128.6 1004.1h0M1130.9 981.9h0M1133.2 1005.3h0M1135.4 960.2h0M1137.7 978.6h0M1140.0 990.0h0M1142.2 964.0h0M1144.5 995.9h0M1146.8 978.7h0M1149.1 979.1h0M1151.3 1002.2h0M1153.6 962.2h0M1155.9 968.1h0M1158.2 996.8h0M1160.5 983.5h0M1162.7 990.5h0M1165.0 954.3h0M1167.3 969.8h0M1169.5 953.8h0M1171.8 964.1h0M1174.1 962.6h0M1176.4 990.5h0M1178.7 959.3h0M1180.9 989.1h0M1183.2 960.5h0M1185.5 967.3h0M1187.8 978.9h0M1190.0 998.7h0M1192.3 973.6h0M1194.6 972.2h0M1196.8 968.7h0M1199.1 1004.8h0M1201.4 994.1h0M1203.7 975.9h0M1206.0 958.9h0M1208.2 995.1h0M1210.5 956.3h0M1212.8 951.7h0M1215.0 1003.6h0M1217.3 966.4h0M1219.6 985.5h0M1221.9 1000.8h0M1224.2 995.8h0M1226.4 987.6h0M1228.7 1007.9h0M1231.0 968.0h0M1233.2 982.2h0M1235.5 988.6h0M1237.8 957.8h0M1240.1 952.0h0M1242.3 982.0h0M1244.6 990.7h0M1246.9 973.4h0M1249.2 985.1h0M1251.5 956.3h0M1253.7 992.0h0M1256.0 1001.6h0M1258.3 1008.3h0M1260.5 999.1h0M1262.8 1003.6h0M1265.1 955.1h0M1267.4 968.8h0M1269.7 974.7h0M1271.9 953.0h0M1274.2 972.5h0M1276.5 967.2h0M1278.8 999.9h0M1281.0 992.1h0M1283.3 972.8h0M1285.6 960.4h0M1287.8 992.7h0M1290.1 983.2h0M1292.4 993.2h0M1294.7 993.1h0M1297.0 977.8h0M1299.2 959.6h0M1301.5 957.3h0M1303.8 979.9h0M1306.0 1008.9h0M1308.3 996.0h0M1310.6 976.9h0M1312.9 963.8h0M1315.2 1003.5h0M1317.4 969.8h0M1319.7 967.8h0M1322.0 1006.4h0M1324.2 967.3h0M1326.5 982.2h0M1328.8 970.3h0M1331.1 978.6h0M1333.3 978.4h0M1335.6 969.2h0M1337.9 974.6h0M1340.2 991.5h0M1342.5 992.8h0M1344.7 965.0h0M1347.0 998.6h0M1349.3 993.3h0M1351.5 1004.4h0M1353.8 995.2h0M1356.1 983.6h0M1358.4 1002.1h0M1360.7 991.2h0M1362.9 982.6h0M1365.2 993.2h0M1367.5 975.8h0M1369.8 987.2h0M1372.0 996.2h0M1374.3 977.4h0M1376.6 985.5h0M1378.8 990.4h0M1381.1 1004.1h0M1383.4 965.2h0M1385.7 1003.6h0M1388.0 993.7h0M1390.2 984.3h0M1392.5 967.9h0M1394.8 997.7h0M1397.0 1006.5h0M1399.3 978.7h0M1401.6 967.3h0M1403.9 990.8h0M1406.2 965.2h0M1408.4 996.9h0M1410.7 970.8h0M1413.0 1012.0h0M1415.2 980.2h0M1417.5 970.7h0M1419.8 999.0h0M1422.1 972.5h0M1424.3 984.1h0M1426.6 997.2h0M1428.9 1010.1h0M1431.2 981.3h0M1433.4 994.7h0M1435.7 986.8h0M1438.0 1002.9h0M1440.3 1011.3h0M1442.5 1007.7h0M1444.8 982.4h0M1447.1 1006.3h0M1449.4 998.4h0M1451.7 984.7h0M1453.9 999.5h0M1456.2 990.3h0M1458.5 993.1h0M1460.8 976.2h0M1463.0 993.5h0M1465.3 999.1h0M1467.6 966.6h0M1469.8 1004.2h0M1472.1 982.6h0M1474.4 983.3h0M1476.7 996.0h0M1478.9 977.8h0M1481.2 977.4h0M1483.5 990.1h0M1485.8 997.2h0M1488.0 1006.8h0M1490.3 971.9h0M1492.6 966.6h0M1494.9 998.8h0M1497.2 996.8h0M1499.4 981.7h0M1501.7 975.4h0M1504.0 972.1h0M1506.2 975.5h0M1508.5 979.2h0M1510.8 981.6h0M1513.1 1009.2h0M1515.3 987.1h0M1517.6 976.8h0M1519.9 995.0h0M1522.2 997.3h0M1524.4 989.4h0M1526.7 983.0h0M1529.0 1007.0h0M1531.3 972.9h0M1533.5 974.5h0M1535.8 996.2h0M1538.1 994.7h0M1540.4 997.7h0M1542.7 986.6h0M1544.9 961.3h0M1547.2 986.9h0"/>
<path class="d" stroke="#047fba" d="M892.0 990.1h0M894.3 1000.8h0M896.5 1000.0h0M898.8 996.1h0M901.1 1001.3h0M903.4 1001.9h0M905.6 993.7h0M907.9 998.5h0M910.2 993.2h0M912.5 1000.2h0M914.8 999.1h0M917.0 990.1h0M919.3 994.8h0M921.6 1001.7h0M923.9 997.1h0M926.1 1002.0h0M928.4 1002.5h0M930.7 994.7h0M933.0 1001.8h0M935.2 1000.1h0M937.5 1002.3h0M939.8 1001.6h0M942.0 996.2h0M944.3 1000.6h0M946.6 998.1h0M948.9 996.1h0M951.1 999.9h0M953.4 1000.7h0M955.7 1000.4h0M958.0 987.2h0M960.2 996.8h0M962.5 994.9h0M964.8 989.8h0M967.1 988.0h0M969.4 988.2h0M971.6 980.1h0M973.9 987.4h0M976.2 997.5h0M978.5 980.0h0M980.7 985.0h0M983.0 968.3h0M985.3 992.1h0M987.5 972.3h0M989.8 1002.5h0M992.1 985.1h0M994.4 987.2h0M996.6 1000.4h0M998.9 962.4h0M1001.2 961.5h0M1003.5 993.2h0M1005.8 967.8h0M1008.0 957.3h0M1010.3 975.1h0M1012.6 986.8h0M1014.9 969.4h0M1017.1 985.3h0M1019.4 975.5h0M1021.7 970.5h0M1024.0 991.0h0M1026.2 970.4h0M1028.5 979.1h0M1030.8 974.3h0M1033.0 991.3h0M1035.3 965.7h0M1037.6 999.2h0M1039.9 980.6h0M1042.2 977.7h0M1044.4 1007.2h0M1046.7 962.7h0M1049.0 976.4h0M1051.2 1003.3h0M1053.5 959.7h0M1055.8 967.6h0M1058.1 955.9h0M1060.3 969.1h0M1062.6 979.3h0M1064.9 962.9h0M1067.2 987.6h0M1069.5 983.2h0M1071.7 987.7h0M1074.0 989.5h0M1076.3 954.6h0M1078.5 979.9h0M1080.8 980.6h0M1083.1 988.6h0M1085.4 992.2h0M1087.7 998.2h0M1089.9 961.8h0M1092.2 974.0h0M1094.5 987.4h0M1096.8 981.8h0M1099.0 970.2h0M1101.3 992.9h0M1103.6 997.2h0M1105.8 987.9h0M1108.1 988.7h0M1110.4 971.0h0M1112.7 968.0h0M1115.0 969.7h0M1117.2 977.6h0M1119.5 985.6h0M1121.8 1002.6h0M1124.0 966.3h0M1126.3 970.1h0M1128.6 985.8h0M1130.9 974.9h0M1133.2 968.0h0M1135.4 996.6h0M1137.7 983.7h0M1140.0 965.1h0M1142.2 1000.6h0M1144.5 1004.2h0M1146.8 965.6h0M1149.1 969.2h0M1151.3 1009.4h0M1153.6 983.5h0M1155.9 980.4h0M1158.2 977.0h0M1160.5 981.9h0M1162.7 984.5h0M1165.0 982.3h0M1167.3 981.8h0M1169.5 1007.4h0M1171.8 1003.4h0M1174.1 998.0h0M1176.4 966.9h0M1178.7 989.3h0M1180.9 982.2h0M1183.2 964.9h0M1185.5 1007.2h0M1187.8 1002.7h0M1190.0 998.4h0M1192.3 967.4h0M1194.6 977.2h0M1196.8 1005.9h0M1199.1 1008.8h0M1201.4 1004.0h0M1203.7 967.6h0M1206.0 991.8h0M1208.2 969.9h0M1210.5 971.0h0M1212.8 965.2h0M1215.0 985.9h0M1217.3 999.1h0M1219.6 987.3h0M1221.9 968.8h0M1224.2 966.1h0M1226.4 993.1h0M1228.7 988.8h0M1231.0 973.5h0M1233.2 993.2h0M1235.5 1001.0h0M1237.8 999.1h0M1240.1 989.2h0M1242.3 1001.1h0M1244.6 975.2h0M1246.9 980.0h0M1249.2 966.9h0M1251.5 976.1h0M1253.7 990.6h0M1256.0 1004.0h0M1258.3 1001.4h0M1260.5 969.2h0M1262.8 981.7h0M1265.1 1007.9h0M1267.4 988.4h0M1269.7 975.2h0M1271.9 973.3h0M1274.2 971.6h0M1276.5 968.0h0M1278.8 989.3h0M1281.0 980.2h0M1283.3 1009.7h0M1285.6 980.5h0M1287.8 987.8h0M1290.1 1002.8h0M1292.4 1000.9h0M1294.7 978.2h0M1297.0 1002.2h0M1299.2 996.4h0M1301.5 994.7h0M1303.8 975.6h0M1306.0 1004.0h0M1308.3 1009.7h0M1310.6 1004.5h0M1312.9 978.0h0M1315.2 1011.2h0M1317.4 985.9h0M1319.7 988.5h0M1322.0 995.0h0M1324.2 996.4h0M1326.5 986.8h0M1328.8 1010.8h0M1331.1 997.6h0M1333.3 992.9h0M1335.6 1006.8h0M1337.9 987.5h0M1340.2 998.4h0M1342.5 1010.6h0M1344.7 1007.5h0M1347.0 997.5h0M1349.3 980.6h0M1351.5 973.6h0M1353.8 989.5h0M1356.1 1011.7h0M1358.4 983.4h0M1360.7 968.3h0M1362.9 1011.5h0M1365.2 996.6h0M1367.5 1013.3h0M1369.8 984.9h0M1372.0 1008.9h0M1374.3 966.5h0M1376.6 993.6h0M1378.8 982.7h0M1381.1 997.6h0M1383.4 997.2h0M1385.7 1013.7h0M1388.0 970.3h0M1390.2 1000.6h0M1392.5 1001.7h0M1394.8 996.1h0M1397.0 1005.0h0M1399.3 998.5h0M1401.6 1000.1h0M1403.9 964.7h0M1406.2 969.7h0M1408.4 1000.1h0M1410.7 971.6h0M1413.0 1012.6h0M1415.2 985.5h0M1417.5 970.4h0M1419.8 1003.5h0M1422.1 1006.3h0M1424.3 973.9h0M1426.6 981.1h0M1428.9 964.7h0M1431.2 1006.5h0M1433.4 1007.0h0M1435.7 1011.8h0M1438.0 998.0h0M1440.3 1012.3h0M1442.5 983.1h0M1444.8 1010.3h0M1447.1 991.4h0M1449.4 988.2h0M1451.7 1010.3h0M1453.9 979.1h0M1456.2 963.7h0M1458.5 994.7h0M1460.8 988.2h0M1463.0 995.5h0M1465.3 964.2h0M1467.6 970.9h0M1469.8 964.8h0M1472.1 994.9h0M1474.4 998.5h0M1476.7 1014.1h0M1478.9 1011.0h0M1481.2 965.4h0M1483.5 984.7h0M1485.8 991.8h0M1488.0 1006.8h0M1490.3 966.3h0M1492.6 1013.0h0M1494.9 981.3h0M1497.2 983.9h0M1499.4 977.0h0M1501.7 976.4h0M1504.0 980.0h0M1506.2 986.3h0M1508.5 992.5h0M1510.8 973.3h0M1513.1 1008.2h0M1515.3 1000.4h0M1517.6 974.3h0M1519.9 968.7h0M1522.2 980.6h0M1524.4 1012.6h0M1526.7 971.8h0M1529.0 964.5h0M1531.3 991.1h0M1533.5 994.8h0M1535.8 996.8h0M1538.1 983.5h0M1540.4 1006.4h0M1542.7 1008.2h0M1544.9 963.3h0M1547.2 989.0h0"/>
<path class="d" stroke="#ff1519" d="M892.0 1018.2h0M894.3 1018.2h0M896.5 1018.2h0M898.8 1018.2h0M901.1 1018.2h0M903.4 1018.2h0M905.6 1018.2h0M907.9 1018.2h0M910.2 1018.2h0M912.5 1018.2h0M914.8 1018.2h0M917.0 1018.2h0M919.3 1018.2h0M921.6 1018.2h0M923.9 1018.2h0M926.1 1018.2h0M928.4 1018.2h0M930.7 1018.2h0M933.0 1018.2h0M935.2 1018.2h0M937.5 1018.2h0M939.8 1018.2h0M942.0 1018.2h0M944.3 1018.2h0M946.6 1018.2h0M948.9 1018.2h0M951.1 1018.2h0M953.4 1018.2h0M955.7 1018.2h0M958.0 1018.2h0M960.2 1018.2h0M962.5 1018.2h0M964.8 1018.2h0M967.1 1018.2h0M969.4 1018.2h0M971.6 1018.2h0M973.9 1018.2h0M976.2 1018.2h0M978.5 1018.2h0M980.7 1019.0h0M983.0 1017.7h0M985.3 1016.2h0M987.5 1002.2h0M989.8 1008.0h0M992.1 1005.8h0M994.4 999.4h0M996.6 1007.3h0M998.9 1002.3h0M1001.2 1001.1h0M1003.5 1003.2h0M1005.8 1007.4h0M1008.0 1002.3h0M1010.3 1006.9h0M1012.6 1003.4h0M1014.9 1001.8h0M1017.1 1005.0h0M1019.4 991.3h0M1021.7 996.2h0M1024.0 991.8h0M1026.2 991.5h0M1028.5 1002.3h0M1030.8 1004.5h0M1033.0 989.6h0M1035.3 997.7h0M1037.6 994.5h0M1039.9 991.0h0M1042.2 999.8h0M1044.4 995.2h0M1046.7 1000.0h0M1049.0 1001.2h0M1051.2 1004.1h0M1053.5 1000.4h0M1055.8 999.9h0M1058.1 991.0h0M1060.3 994.8h0M1062.6 990.1h0M1064.9 998.4h0M1067.2 999.5h0M1069.5 992.9h0M1071.7 998.1h0M1074.0 989.5h0M1076.3 995.8h0M1078.5 997.4h0M1080.8 989.0h0M1083.1 998.7h0M1085.4 989.2h0M1087.7 994.9h0M1089.9 1000.2h0M1092.2 990.5h0M1094.5 990.8h0M1096.8 999.7h0M1099.0 993.3h0M1101.3 993.2h0M1103.6 988.6h0M1105.8 997.8h0M1108.1 991.3h0M1110.4 983.5h0M1112.7 1000.9h0M1115.0 988.3h0M1117.2 994.8h0M1119.5 992.3h0M1121.8 995.9h0M1124.0 992.7h0M1126.3 992.0h0M1128.6 984.4h0M1130.9 985.1h0M1133.2 984.1h0M1135.4 983.4h0M1137.7 993.6h0M1140.0 986.6h0M1142.2 984.6h0M1144.5 998.6h0M1146.8 987.5h0M1149.1 990.2h0M1151.3 997.0h0M1153.6 989.2h0M1155.9 988.1h0M1158.2 988.7h0M1160.5 1000.5h0M1162.7 983.7h0M1165.0 994.1h0M1167.3 985.9h0M1169.5 997.7h0M1171.8 989.5h0M1174.1 999.5h0M1176.4 990.3h0M1178.7 988.7h0M1180.9 993.4h0M1183.2 987.3h0M1185.5 991.8h0M1187.8 999.4h0M1190.0 999.8h0M1192.3 999.5h0M1194.6 994.2h0M1196.8 983.3h0M1199.1 994.4h0M1201.4 985.4h0M1203.7 988.5h0M1206.0 987.5h0M1208.2 988.3h0M1210.5 996.7h0M1212.8 984.3h0M1215.0 992.7h0M1217.3 983.1h0M1219.6 1000.2h0M1221.9 998.3h0M1224.2 998.0h0M1226.4 986.9h0M1228.7 998.5h0M1231.0 992.4h0M1233.2 990.9h0M1235.5 990.8h0M1237.8 994.9h0M1240.1 983.9h0M1242.3 992.0h0M1244.6 997.2h0M1246.9 990.0h0M1249.2 998.4h0M1251.5 987.9h0M1253.7 997.2h0M1256.0 983.7h0M1258.3 999.0h0M1260.5 994.6h0M1262.8 996.4h0M1265.1 989.7h0M1267.4 992.8h0M1269.7 991.9h0M1271.9 992.0h0M1274.2 988.9h0M1276.5 995.5h0M1278.8 994.4h0M1281.0 995.6h0M1283.3 997.8h0M1285.6 988.6h0M1287.8 982.7h0M1290.1 983.2h0M1292.4 982.1h0M1294.7 998.5h0M1297.0 986.8h0M1299.2 999.2h0M1301.5 984.9h0M1303.8 984.4h0M1306.0 991.4h0M1308.3 981.6h0M1310.6 991.7h0M1312.9 990.2h0M1315.2 994.1h0M1317.4 984.8h0M1319.7 989.7h0M1322.0 990.9h0M1324.2 992.4h0M1326.5 986.0h0M1328.8 999.3h0M1331.1 988.4h0M1333.3 999.2h0M1335.6 996.4h0M1337.9 1000.0h0M1340.2 990.6h0M1342.5 982.3h0M1344.7 996.5h0M1347.0 998.5h0M1349.3 990.4h0M1351.5 1000.3h0M1353.8 993.8h0M1356.1 992.0h0M1358.4 999.2h0M1360.7 983.3h0M1362.9 993.2h0M1365.2 989.2h0M1367.5 998.5h0M1369.8 981.6h0M1372.0 997.2h0M1374.3 991.5h0M1376.6 999.0h0M1378.8 997.6h0M1381.1 998.1h0M1383.4 993.1h0M1385.7 999.0h0M1388.0 991.5h0M1390.2 989.5h0M1392.5 997.0h0M1394.8 985.5h0M1397.0 999.2h0M1399.3 989.3h0M1401.6 984.6h0M1403.9 988.5h0M1406.2 1000.7h0M1408.4 999.3h0M1410.7 999.8h0M1413.0 998.2h0M1415.2 990.2h0M1417.5 981.5h0M1419.8 993.3h0M1422.1 984.9h0M1424.3 995.3h0M1426.6 981.2h0M1428.9 993.0h0M1431.2 996.8h0M1433.4 996.9h0M1435.7 998.4h0M1438.0 999.1h0M1440.3 982.0h0M1442.5 986.1h0M1444.8 997.7h0M1447.1 988.5h0M1449.4 991.3h0M1451.7 999.2h0M1453.9 980.6h0M1456.2 995.8h0M1458.5 989.0h0M1460.8 993.3h0M1463.0 990.7h0M1465.3 980.4h0M1467.6 985.0h0M1469.8 995.7h0M1472.1 986.2h0M1474.4 991.1h0M1476.7 995.7h0M1478.9 989.1h0M1481.2 995.7h0M1483.5 983.8h0M1485.8 994.4h0M1488.0 998.2h0M1490.3 982.2h0M1492.6 996.1h0M1494.9 984.5h0M1497.2 980.7h0M1499.4 983.1h0M1501.7 977.9h0M1504.0 991.4h0M1506.2 988.7h0M1508.5 982.8h0M1510.8 993.0h0M1513.1 974.5h0M1515.3 980.9h0M1517.6 980.2h0M1519.9 981.9h0M1522.2 983.2h0M1524.4 989.4h0M1526.7 991.0h0M1529.0 987.6h0M1531.3 992.1h0M1533.5 979.4h0M1535.8 988.4h0M1538.1 972.7h0M1540.4 989.5h0M1542.7 984.8h0M1544.9 973.3h0M1547.2 978.1h0"/>
</g>
<g clip-path="url(#c2)">
<path class="d" stroke="#ab4fa8" d="M1547.3 1018.2h0M1549.6 1018.2h0M1551.8 1018.2h0M1554.1 1018.2h0M1556.4 1018.2h0M1558.7 1018.2h0M1561.0 1018.2h0M1563.2 1018.2h0M1565.5 1018.2h0M1567.8 1018.2h0M1570.0 1018.2h0M1572.3 1017.9h0M1574.6 1017.1h0M1576.9 1016.0h0M1579.1 1015.0h0M1581.4 1014.2h0M1583.7 1013.9h0M1586.0 1014.2h0M1588.2 1014.9h0M1590.5 1015.8h0M1592.8 1016.7h0M1595.1 1017.4h0M1597.3 1017.7h0M1599.6 1017.7h0M1601.9 1017.6h0M1604.2 1017.4h0M1606.5 1017.2h0M1608.7 1016.9h0M1611.0 1016.5h0M1613.3 1015.7h0M1615.5 1014.2h0M1617.8 1012.1h0M1620.1 1009.5h0M1622.4 1006.9h0M1624.6 1003.7h0M1626.9 999.8h0M1629.2 995.4h0M1631.5 991.4h0M1633.8 990.7h0M1636.0 990.1h0M1638.3 984.9h0M1640.6 981.3h0M1642.8 980.2h0M1645.1 983.7h0M1647.4 979.5h0M1649.7 978.9h0M1652.0 973.4h0M1654.2 966.6h0M1656.5 968.4h0M1658.8 960.2h0M1661.0 955.7h0M1663.3 948.3h0M1665.6 938.3h0M1667.9 933.4h0M1670.1 924.8h0M1672.4 911.9h0M1674.7 900.3h0M1677.0 882.1h0M1679.2 855.7h0M1681.5 822.1h0M1683.8 793.4h0M1686.1 748.0h0M1688.3 703.5h0M1690.6 647.0h0M1692.9 614.6h0M1695.2 564.3h0M1697.5 541.7h0M1699.7 513.4h0M1702.0 478.7h0M1704.3 468.6h0M1706.5 450.3h0M1708.8 438.0h0M1711.1 426.4h0M1713.4 418.1h0M1715.6 402.7h0M1717.9 396.9h0M1720.2 387.1h0M1722.5 375.8h0M1724.8 366.9h0M1727.0 363.9h0M1729.3 354.8h0M1731.6 342.5h0M1733.8 339.6h0M1736.1 335.8h0M1738.4 335.1h0M1740.7 331.3h0M1743.0 330.4h0M1745.2 329.2h0M1747.5 326.2h0M1749.8 322.7h0M1752.0 321.6h0M1754.3 320.4h0M1756.6 320.6h0M1758.9 319.0h0M1761.1 315.0h0M1763.4 314.1h0M1765.7 313.8h0M1768.0 318.1h0M1770.2 314.9h0M1772.5 313.7h0M1774.8 316.5h0M1777.1 315.3h0M1779.3 312.4h0M1781.6 313.4h0M1783.9 313.1h0M1786.2 317.6h0M1788.4 317.8h0M1790.7 313.4h0M1793.0 314.3h0M1795.3 317.3h0M1797.5 318.6h0M1799.8 317.2h0M1802.1 314.8h0M1804.4 316.8h0M1806.6 315.1h0M1808.9 318.8h0M1811.2 315.7h0M1813.5 319.7h0M1815.8 314.6h0M1818.0 319.3h0M1820.3 321.3h0M1822.6 316.1h0M1824.8 319.8h0M1827.1 319.5h0M1829.4 321.7h0M1831.7 321.6h0M1833.9 320.7h0M1836.2 321.8h0M1838.5 320.7h0M1840.8 322.7h0M1843.0 322.0h0M1845.3 325.2h0M1847.6 322.4h0M1849.9 322.2h0M1852.1 320.6h0M1854.4 322.3h0M1856.7 327.0h0M1859.0 325.5h0M1861.2 323.2h0M1863.5 324.0h0M1865.8 328.9h0M1868.1 329.5h0M1870.3 326.8h0M1872.6 327.6h0M1874.9 330.1h0M1877.2 329.8h0M1879.4 329.7h0M1881.7 327.2h0M1884.0 331.2h0M1886.3 328.1h0M1888.5 328.3h0M1890.8 332.7h0M1893.1 329.1h0M1895.4 334.7h0M1897.6 333.1h0M1899.9 335.4h0M1902.2 334.4h0M1904.5 335.0h0M1906.8 332.2h0M1909.0 332.2h0M1911.3 335.8h0M1913.6 336.1h0M1915.8 332.4h0M1918.1 338.0h0M1920.4 336.3h0M1922.7 335.9h0M1924.9 335.8h0M1927.2 339.4h0M1929.5 338.7h0M1931.8 340.1h0M1934.0 336.5h0M1936.3 337.0h0M1938.6 336.7h0M1940.9 339.6h0M1943.1 342.6h0M1945.4 337.3h0M1947.7 342.8h0M1950.0 342.3h0M1952.2 343.9h0M1954.5 341.9h0M1956.8 340.3h0M1959.1 339.1h0M1961.3 341.9h0M1963.6 345.3h0M1965.9 340.5h0M1968.2 345.9h0M1970.4 345.5h0M1972.7 345.7h0M1975.0 341.8h0M1977.3 345.2h0M1979.5 342.8h0M1981.8 344.9h0M1984.1 345.7h0M1986.4 344.1h0M1988.6 348.1h0M1990.9 348.0h0M1993.2 344.3h0M1995.5 346.5h0M1997.8 348.3h0M2000.0 347.0h0M2002.3 346.6h0M2004.6 347.1h0M2006.8 348.8h0M2009.1 348.4h0M2011.4 351.2h0M2013.7 350.0h0M2015.9 347.9h0M2018.2 348.1h0M2020.5 354.2h0M2022.8 353.1h0M2025.0 353.5h0M2027.3 353.5h0M2029.6 354.1h0M2031.9 354.7h0M2034.1 353.9h0M2036.4 355.8h0M2038.7 353.1h0M2041.0 357.8h0M2043.2 352.4h0M2045.5 357.6h0M2047.8 353.5h0M2050.1 355.2h0M2052.3 354.2h0M2054.6 357.3h0M2056.9 358.3h0M2059.2 356.9h0M2061.4 359.8h0M2063.7 358.7h0M2066.0 358.3h0M2068.3 361.1h0M2070.6 357.3h0M2072.8 359.7h0M2075.1 359.5h0M2077.4 358.8h0M2079.7 357.7h0M2081.9 362.6h0M2084.2 362.5h0M2086.5 363.1h0M2088.8 358.2h0M2091.0 361.5h0M2093.3 359.9h0M2095.6 363.3h0M2097.8 358.8h0M2100.1 363.8h0M2102.4 360.6h0M2104.7 364.6h0M2106.9 359.6h0M2109.2 362.6h0M2111.5 361.3h0M2113.8 361.5h0M2116.1 364.0h0M2118.3 362.6h0M2120.6 365.4h0M2122.9 360.8h0M2125.2 362.8h0M2127.4 364.0h0M2129.7 363.4h0M2132.0 363.4h0M2134.2 364.9h0M2136.5 363.7h0M2138.8 362.0h0M2141.1 362.7h0M2143.3 360.3h0M2145.6 361.8h0M2147.9 361.4h0M2150.2 365.4h0M2152.4 363.3h0M2154.7 365.0h0M2157.0 365.1h0M2159.3 364.6h0M2161.6 363.2h0M2163.8 364.2h0M2166.1 364.3h0M2168.4 364.6h0M2170.7 361.0h0M2172.9 364.3h0M2175.2 361.4h0M2177.5 361.1h0M2179.8 363.2h0M2182.0 361.2h0M2184.3 361.1h0M2186.6 362.2h0M2188.8 362.8h0M2191.1 365.7h0M2193.4 365.9h0M2195.7 366.6h0M2197.9 365.7h0M2200.2 363.9h0M2202.5 364.5h0"/>
<path class="d" stroke="#03b04a" d="M1547.3 1018.2h0M1549.6 1018.2h0M1551.8 1018.2h0M1554.1 1018.2h0M1556.4 1018.2h0M1558.7 1018.2h0M1561.0 1018.2h0M1563.2 1018.2h0M1565.5 1018.2h0M1567.8 1018.2h0M1570.0 1018.2h0M1572.3 1018.2h0M1574.6 1018.2h0M1576.9 1018.2h0M1579.1 1018.2h0M1581.4 1018.2h0M1583.7 1018.2h0M1586.0 1018.2h0M1588.2 1018.2h0M1590.5 1018.2h0M1592.8 1018.2h0M1595.1 1018.2h0M1597.3 1018.2h0M1599.6 1018.2h0M1601.9 1018.2h0M1604.2 1018.2h0M1606.5 1018.2h0M1608.7 1018.2h0M1611.0 1018.2h0M1613.3 1018.2h0M1615.5 1015.9h0M1617.8 1011.5h0M1620.1 1000.5h0M1622.4 956.6h0M1624.6 941.4h0M1626.9 921.3h0M1629.2 912.3h0M1631.5 890.6h0M1633.8 871.8h0M1636.0 859.2h0M1638.3 849.4h0M1640.6 842.3h0M1642.8 825.8h0M1645.1 801.5h0M1647.4 774.0h0M1649.7 751.6h0M1652.0 738.0h0M1654.2 711.7h0M1656.5 666.8h0M1658.8 641.5h0M1661.0 609.3h0M1663.3 585.8h0M1665.6 574.7h0M1667.9 532.3h0M1670.1 508.2h0M1672.4 487.4h0M1674.7 472.5h0M1677.0 466.7h0M1679.2 450.9h0M1681.5 438.2h0M1683.8 430.9h0M1686.1 421.1h0M1688.3 411.7h0M1690.6 404.6h0M1692.9 402.6h0M1695.2 392.1h0M1697.5 393.8h0M1699.7 388.6h0M1702.0 383.4h0M1704.3 376.9h0M1706.5 378.2h0M1708.8 371.5h0M1711.1 370.7h0M1713.4 367.6h0M1715.6 367.9h0M1717.9 361.6h0M1720.2 361.6h0M1722.5 363.3h0M1724.8 357.1h0M1727.0 357.7h0M1729.3 354.1h0M1731.6 353.8h0M1733.8 351.1h0M1736.1 350.5h0M1738.4 351.1h0M1740.7 349.7h0M1743.0 353.3h0M1745.2 348.0h0M1747.5 347.6h0M1749.8 345.6h0M1752.0 346.0h0M1754.3 346.2h0M1756.6 344.5h0M1758.9 345.0h0M1761.1 345.3h0M1763.4 341.9h0M1765.7 344.8h0M1768.0 347.2h0M1770.2 347.5h0M1772.5 345.4h0M1774.8 344.8h0M1777.1 344.1h0M1779.3 347.1h0M1781.6 344.0h0M1783.9 341.4h0M1786.2 342.7h0M1788.4 343.0h0M1790.7 344.1h0M1793.0 341.8h0M1795.3 346.7h0M1797.5 342.4h0M1799.8 342.8h0M1802.1 344.9h0M1804.4 344.1h0M1806.6 346.3h0M1808.9 347.2h0M1811.2 345.1h0M1813.5 345.1h0M1815.8 343.9h0M1818.0 345.0h0M1820.3 341.6h0M1822.6 346.3h0M1824.8 342.0h0M1827.1 343.8h0M1829.4 345.9h0M1831.7 341.8h0M1833.9 343.9h0M1836.2 346.8h0M1838.5 342.0h0M1840.8 345.9h0M1843.0 344.1h0M1845.3 343.5h0M1847.6 343.2h0M1849.9 343.4h0M1852.1 342.8h0M1854.4 343.3h0M1856.7 347.1h0M1859.0 344.9h0M1861.2 345.4h0M1863.5 347.9h0M1865.8 346.1h0M1868.1 344.0h0M1870.3 346.3h0M1872.6 346.7h0M1874.9 346.3h0M1877.2 345.9h0M1879.4 344.7h0M1881.7 344.3h0M1884.0 348.0h0M1886.3 348.3h0M1888.5 348.2h0M1890.8 344.8h0M1893.1 344.8h0M1895.4 348.5h0M1897.6 345.5h0M1899.9 347.6h0M1902.2 345.1h0M1904.5 347.8h0M1906.8 345.9h0M1909.0 348.3h0M1911.3 349.8h0M1913.6 346.8h0M1915.8 350.3h0M1918.1 347.6h0M1920.4 349.5h0M1922.7 351.0h0M1924.9 350.2h0M1927.2 347.7h0M1929.5 351.8h0M1931.8 353.3h0M1934.0 348.3h0M1936.3 353.5h0M1938.6 353.0h0M1940.9 351.6h0M1943.1 349.8h0M1945.4 348.7h0M1947.7 354.0h0M1950.0 353.9h0M1952.2 349.2h0M1954.5 352.2h0M1956.8 350.4h0M1959.1 353.8h0M1961.3 354.5h0M1963.6 351.0h0M1965.9 355.5h0M1968.2 355.3h0M1970.4 354.9h0M1972.7 355.3h0M1975.0 356.6h0M1977.3 356.1h0M1979.5 357.1h0M1981.8 355.0h0M1984.1 354.2h0M1986.4 355.7h0M1988.6 358.8h0M1990.9 355.7h0M1993.2 355.2h0M1995.5 358.9h0M1997.8 357.2h0M2000.0 354.3h0M2002.3 355.5h0M2004.6 358.1h0M2006.8 359.6h0M2009.1 360.5h0M2011.4 361.4h0M2013.7 360.4h0M2015.9 358.9h0M2018.2 359.0h0M2020.5 361.3h0M2022.8 359.6h0M2025.0 359.8h0M2027.3 357.5h0M2029.6 356.8h0M2031.9 356.7h0M2034.1 359.8h0M2036.4 357.5h0M2038.7 359.1h0M2041.0 362.5h0M2043.2 362.8h0M2045.5 359.4h0M2047.8 358.9h0M2050.1 359.2h0M2052.3 360.3h0M2054.6 359.7h0M2056.9 359.3h0M2059.2 359.1h0M2061.4 362.8h0M2063.7 360.6h0M2066.0 361.6h0M2068.3 360.7h0M2070.6 361.3h0M2072.8 363.4h0M2075.1 358.7h0M2077.4 360.5h0M2079.7 358.2h0M2081.9 363.7h0M2084.2 363.4h0M2086.5 363.2h0M2088.8 358.3h0M2091.0 360.7h0M2093.3 359.1h0M2095.6 363.5h0M2097.8 359.1h0M2100.1 363.4h0M2102.4 357.9h0M2104.7 360.4h0M2106.9 357.4h0M2109.2 359.5h0M2111.5 359.6h0M2113.8 362.4h0M2116.1 359.2h0M2118.3 358.3h0M2120.6 359.1h0M2122.9 358.5h0M2125.2 357.1h0M2127.4 358.2h0M2129.7 358.5h0M2132.0 359.1h0M2134.2 359.5h0M2136.5 357.7h0M2138.8 356.9h0M2141.1 357.5h0M2143.3 361.6h0M2145.6 360.5h0M2147.9 358.1h0M2150.2 358.4h0M2152.4 356.1h0M2154.7 355.6h0M2157.0 356.3h0M2159.3 358.2h0M2161.6 357.6h0M2163.8 356.8h0M2166.1 361.6h0M2168.4 360.6h0M2170.7 362.7h0M2172.9 358.9h0M2175.2 357.1h0M2177.5 363.4h0M2179.8 362.8h0M2182.0 362.6h0M2184.3 359.0h0M2186.6 361.9h0M2188.8 363.4h0M2191.1 362.5h0M2193.4 363.5h0M2195.7 363.9h0M2197.9 362.1h0M2200.2 361.7h0M2202.5 364.8h0"/>
<path class="d" stroke="#047fba" d="M1547.3 1018.2h0M1549.6 1018.2h0M1551.8 1018.2h0M1554.1 1018.2h0M1556.4 1018.2h0M1558.7 1018.2h0M1561.0 1018.2h0M1563.2 1018.2h0M1565.5 1018.2h0M1567.8 1018.2h0M1570.0 1018.2h0M1572.3 1018.2h0M1574.6 1018.2h0M1576.9 1018.2h0M1579.1 1018.2h0M1581.4 1018.2h0M1583.7 1018.2h0M1586.0 1018.2h0M1588.2 1018.2h0M1590.5 1018.2h0M1592.8 1018.2h0M1595.1 1018.2h0M1597.3 1018.2h0M1599.6 1018.2h0M1601.9 1018.2h0M1604.2 1018.2h0M1606.5 1018.2h0M1608.7 1018.2h0M1611.0 1018.2h0M1613.3 1018.2h0M1615.5 1018.2h0M1617.8 1018.2h0M1620.1 1018.2h0M1622.4 1018.2h0M1624.6 1018.2h0M1626.9 1018.2h0M1629.2 1018.2h0M1631.5 1018.2h0M1633.8 1018.2h0M1636.0 1018.2h0M1638.3 1018.2h0M1640.6 1017.5h0M1642.8 1017.8h0M1645.1 1014.1h0M1647.4 1016.7h0M1649.7 1012.2h0M1652.0 1009.6h0M1654.2 1009.2h0M1656.5 1010.5h0M1658.8 1008.7h0M1661.0 1005.1h0M1663.3 1000.3h0M1665.6 1003.6h0M1667.9 1003.0h0M1670.1 1001.1h0M1672.4 993.9h0M1674.7 1000.3h0M1677.0 1000.4h0M1679.2 992.4h0M1681.5 1000.0h0M1683.8 992.3h0M1686.1 994.2h0M1688.3 990.5h0M1690.6 997.0h0M1692.9 991.1h0M1695.2 999.1h0M1697.5 991.5h0M1699.7 996.2h0M1702.0 994.6h0M1704.3 990.8h0M1706.5 992.5h0M1708.8 994.3h0M1711.1 996.0h0M1713.4 990.7h0M1715.6 993.9h0M1717.9 996.3h0M1720.2 994.5h0M1722.5 989.7h0M1724.8 998.1h0M1727.0 994.9h0M1729.3 990.0h0M1731.6 991.1h0M1733.8 993.0h0M1736.1 996.2h0M1738.4 997.3h0M1740.7 992.8h0M1743.0 989.1h0M1745.2 994.0h0M1747.5 985.9h0M1749.8 989.2h0M1752.0 991.0h0M1754.3 987.0h0M1756.6 992.5h0M1758.9 984.8h0M1761.1 991.3h0M1763.4 995.8h0M1765.7 983.1h0M1768.0 989.3h0M1770.2 983.8h0M1772.5 994.2h0M1774.8 993.0h0M1777.1 989.3h0M1779.3 984.0h0M1781.6 995.0h0M1783.9 989.4h0M1786.2 986.7h0M1788.4 992.1h0M1790.7 991.7h0M1793.0 985.2h0M1795.3 990.9h0M1797.5 988.8h0M1799.8 988.8h0M1802.1 985.2h0M1804.4 992.2h0M1806.6 988.3h0M1808.9 991.9h0M1811.2 989.1h0M1813.5 980.7h0M1815.8 976.8h0M1818.0 982.5h0M1820.3 974.4h0M1822.6 974.3h0M1824.8 969.7h0M1827.1 970.0h0M1829.4 966.6h0M1831.7 964.5h0M1833.9 957.9h0M1836.2 958.4h0M1838.5 947.2h0M1840.8 949.2h0M1843.0 940.3h0M1845.3 932.3h0M1847.6 917.5h0M1849.9 890.4h0M1852.1 878.4h0M1854.4 869.7h0M1856.7 868.0h0M1859.0 858.2h0M1861.2 851.1h0M1863.5 848.4h0M1865.8 828.9h0M1868.1 816.1h0M1870.3 804.6h0M1872.6 797.7h0M1874.9 790.4h0M1877.2 777.4h0M1879.4 759.9h0M1881.7 751.0h0M1884.0 730.7h0M1886.3 718.4h0M1888.5 709.8h0M1890.8 692.9h0M1893.1 680.5h0M1895.4 661.2h0M1897.6 655.2h0M1899.9 629.6h0M1902.2 619.0h0M1904.5 599.3h0M1906.8 571.5h0M1909.0 561.3h0M1911.3 557.4h0M1913.6 537.5h0M1915.8 524.6h0M1918.1 511.1h0M1920.4 497.2h0M1922.7 483.9h0M1924.9 478.2h0M1927.2 470.8h0M1929.5 458.3h0M1931.8 448.2h0M1934.0 441.4h0M1936.3 439.6h0M1938.6 435.6h0M1940.9 427.0h0M1943.1 420.2h0M1945.4 410.9h0M1947.7 412.7h0M1950.0 400.3h0M1952.2 402.8h0M1954.5 395.5h0M1956.8 390.3h0M1959.1 381.5h0M1961.3 377.9h0M1963.6 382.7h0M1965.9 378.3h0M1968.2 373.4h0M1970.4 372.4h0M1972.7 365.2h0M1975.0 366.3h0M1977.3 366.9h0M1979.5 363.8h0M1981.8 362.2h0M1984.1 360.1h0M1986.4 358.9h0M1988.6 360.9h0M1990.9 358.0h0M1993.2 355.9h0M1995.5 357.9h0M1997.8 356.0h0M2000.0 356.9h0M2002.3 356.9h0M2004.6 357.4h0M2006.8 357.5h0M2009.1 355.4h0M2011.4 354.6h0M2013.7 352.5h0M2015.9 351.2h0M2018.2 350.3h0M2020.5 349.3h0M2022.8 349.9h0M2025.0 349.6h0M2027.3 348.4h0M2029.6 347.2h0M2031.9 345.7h0M2034.1 348.9h0M2036.4 344.5h0M2038.7 348.2h0M2041.0 348.9h0M2043.2 343.4h0M2045.5 346.6h0M2047.8 342.2h0M2050.1 344.8h0M2052.3 344.4h0M2054.6 340.6h0M2056.9 340.9h0M2059.2 345.1h0M2061.4 338.9h0M2063.7 343.3h0M2066.0 339.9h0M2068.3 337.8h0M2070.6 338.1h0M2072.8 340.1h0M2075.1 336.8h0M2077.4 338.3h0M2079.7 340.9h0M2081.9 335.9h0M2084.2 338.4h0M2086.5 339.8h0M2088.8 338.9h0M2091.0 340.3h0M2093.3 337.6h0M2095.6 337.5h0M2097.8 340.1h0M2100.1 338.3h0M2102.4 339.1h0M2104.7 334.8h0M2106.9 339.4h0M2109.2 336.4h0M2111.5 336.1h0M2113.8 336.2h0M2116.1 337.7h0M2118.3 338.4h0M2120.6 339.9h0M2122.9 338.4h0M2125.2 334.1h0M2127.4 337.6h0M2129.7 335.7h0M2132.0 337.1h0M2134.2 338.5h0M2136.5 335.9h0M2138.8 331.7h0M2141.1 335.6h0M2143.3 335.8h0M2145.6 333.9h0M2147.9 335.2h0M2150.2 335.8h0M2152.4 334.5h0M2154.7 330.6h0M2157.0 335.6h0M2159.3 335.5h0M2161.6 330.9h0M2163.8 334.6h0M2166.1 334.7h0M2168.4 333.7h0M2170.7 329.0h0M2172.9 328.4h0M2175.2 328.3h0M2177.5 332.5h0M2179.8 328.1h0M2182.0 333.9h0M2184.3 330.8h0M2186.6 330.1h0M2188.8 330.7h0M2191.1 326.7h0M2193.4 328.2h0M2195.7 330.0h0M2197.9 328.0h0M2200.2 327.7h0M2202.5 332.2h0"/>
<path class="d" stroke="#ff1519" d="M1547.3 1018.2h0M1549.6 1018.2h0M1551.8 1018.2h0M1554.1 1018.2h0M1556.4 1018.2h0M1558.7 1018.2h0M1561.0 1018.2h0M1563.2 1018.2h0M1565.5 1018.2h0M1567.8 1018.2h0M1570.0 1018.2h0M1572.3 1018.2h0M1574.6 1018.2h0M1576.9 1018.2h0M1579.1 1018.2h0M1581.4 1018.2h0M1583.7 1018.2h0M1586.0 1018.2h0M1588.2 1018.2h0M1590.5 1018.2h0M1592.8 1018.2h0M1595.1 1018.2h0M1597.3 1018.2h0M1599.6 1018.2h0M1601.9 1018.2h0M1604.2 1018.2h0M1606.5 1018.2h0M1608.7 1018.2h0M1611.0 1018.2h0M1613.3 1018.2h0M1615.5 1018.2h0M1617.8 1018.2h0M1620.1 1018.2h0M1622.4 1018.2h0M1624.6 1018.2h0M1626.9 1018.2h0M1629.2 1018.2h0M1631.5 1018.2h0M1633.8 1018.2h0M1636.0 1018.2h0M1638.3 1018.2h0M1640.6 1018.2h0M1642.8 1018.2h0M1645.1 1018.2h0M1647.4 1018.2h0M1649.7 1018.2h0M1652.0 1018.2h0M1654.2 1018.2h0M1656.5 1018.2h0M1658.8 1018.2h0M1661.0 1018.2h0M1663.3 1018.2h0M1665.6 1018.2h0M1667.9 1018.2h0M1670.1 1018.2h0M1672.4 1017.8h0M1674.7 1016.7h0M1677.0 1015.7h0M1679.2 1017.1h0M1681.5 1013.4h0M1683.8 1015.6h0M1686.1 1016.0h0M1688.3 1009.3h0M1690.6 1012.2h0M1692.9 1011.6h0M1695.2 1007.1h0M1697.5 1011.2h0M1699.7 1019.2h0M1702.0 1009.7h0M1704.3 1010.0h0M1706.5 1008.2h0M1708.8 1004.3h0M1711.1 1007.3h0M1713.4 1003.2h0M1715.6 1005.8h0M1717.9 1002.5h0M1720.2 1010.4h0M1722.5 1013.0h0M1724.8 1008.0h0M1727.0 1002.3h0M1729.3 1002.4h0M1731.6 1005.1h0M1733.8 1009.1h0M1736.1 1011.0h0M1738.4 1014.9h0M1740.7 1008.1h0M1743.0 1006.3h0M1745.2 997.7h0M1747.5 1004.7h0M1749.8 1004.2h0M1752.0 1005.9h0M1754.3 1013.9h0M1756.6 1008.7h0M1758.9 1001.5h0M1761.1 1000.2h0M1763.4 995.3h0M1765.7 1003.9h0M1768.0 999.6h0M1770.2 997.1h0M1772.5 997.4h0M1774.8 1009.7h0M1777.1 993.9h0M1779.3 996.1h0M1781.6 997.2h0M1783.9 1007.2h0M1786.2 990.6h0M1788.4 995.4h0M1790.7 1005.0h0M1793.0 996.9h0M1795.3 1005.8h0M1797.5 1008.0h0M1799.8 995.1h0M1802.1 995.0h0M1804.4 1000.1h0M1806.6 1008.1h0M1808.9 1005.1h0M1811.2 1010.2h0M1813.5 1008.2h0M1815.8 1011.9h0M1818.0 1000.0h0M1820.3 997.7h0M1822.6 1003.0h0M1824.8 1000.1h0M1827.1 1010.5h0M1829.4 995.0h0M1831.7 1001.5h0M1833.9 1011.1h0M1836.2 1002.7h0M1838.5 1004.2h0M1840.8 995.8h0M1843.0 998.3h0M1845.3 1011.7h0M1847.6 1000.3h0M1849.9 1012.6h0M1852.1 1003.5h0M1854.4 996.5h0M1856.7 1009.8h0M1859.0 1000.3h0M1861.2 1005.3h0M1863.5 1011.3h0M1865.8 995.4h0M1868.1 998.8h0M1870.3 1008.2h0M1872.6 1009.6h0M1874.9 1006.3h0M1877.2 998.9h0M1879.4 994.8h0M1881.7 1003.1h0M1884.0 1013.7h0M1886.3 1013.5h0M1888.5 1008.7h0M1890.8 997.5h0M1893.1 1010.3h0M1895.4 1001.8h0M1897.6 1013.2h0M1899.9 1007.1h0M1902.2 1000.0h0M1904.5 999.6h0M1906.8 1013.5h0M1909.0 1010.2h0M1911.3 1009.0h0M1913.6 1008.5h0M1915.8 1006.3h0M1918.1 997.4h0M1920.4 1011.7h0M1922.7 1009.0h0M1924.9 1003.7h0M1927.2 997.5h0M1929.5 997.6h0M1931.8 1011.6h0M1934.0 1002.6h0M1936.3 1000.2h0M1938.6 1004.7h0M1940.9 995.9h0M1943.1 1011.6h0M1945.4 1002.1h0M1947.7 998.8h0M1950.0 993.1h0M1952.2 1013.8h0M1954.5 998.6h0M1956.8 1006.7h0M1959.1 998.1h0M1961.3 1002.8h0M1963.6 997.3h0M1965.9 1010.5h0M1968.2 994.5h0M1970.4 1005.7h0M1972.7 996.8h0M1975.0 1007.7h0M1977.3 1011.1h0M1979.5 1006.7h0M1981.8 999.5h0M1984.1 994.3h0M1986.4 1003.4h0M1988.6 1006.9h0M1990.9 994.0h0M1993.2 998.1h0M1995.5 1004.3h0M1997.8 1000.0h0M2000.0 1008.6h0M2002.3 1003.3h0M2004.6 1005.4h0M2006.8 1008.7h0M2009.1 1012.1h0M2011.4 1009.1h0M2013.7 996.8h0M2015.9 997.6h0M2018.2 1004.6h0M2020.5 994.9h0M2022.8 1010.6h0M2025.0 998.1h0M2027.3 997.5h0M2029.6 1012.6h0M2031.9 995.2h0M2034.1 997.2h0M2036.4 1003.9h0M2038.7 1003.3h0M2041.0 1001.3h0M2043.2 1003.6h0M2045.5 1012.9h0M2047.8 1004.6h0M2050.1 995.1h0M2052.3 1002.4h0M2054.6 1008.7h0M2056.9 994.1h0M2059.2 1004.7h0M2061.4 1010.0h0M2063.7 1001.0h0M2066.0 1010.2h0M2068.3 1000.3h0M2070.6 999.1h0M2072.8 1009.8h0M2075.1 1007.1h0M2077.4 1001.1h0M2079.7 1009.2h0M2081.9 995.9h0M2084.2 997.9h0M2086.5 1010.2h0M2088.8 1001.0h0M2091.0 1001.3h0M2093.3 1005.8h0M2095.6 999.5h0M2097.8 1004.5h0M2100.1 1004.2h0M2102.4 1005.3h0M2104.7 1001.2h0M2106.9 1014.0h0M2109.2 1000.6h0M2111.5 1011.3h0M2113.8 1008.9h0M2116.1 995.8h0M2118.3 1008.9h0M2120.6 1000.1h0M2122.9 1008.3h0M2125.2 991.7h0M2127.4 992.0h0M2129.7 1006.5h0M2132.0 993.5h0M2134.2 993.5h0M2136.5 1009.4h0M2138.8 1005.5h0M2141.1 1009.7h0M2143.3 1008.8h0M2145.6 1002.1h0M2147.9 1002.6h0M2150.2 1003.7h0M2152.4 1009.4h0M2154.7 1001.8h0M2157.0 992.5h0M2159.3 1005.7h0M2161.6 998.3h0M2163.8 1008.6h0M2166.1 996.8h0M2168.4 1000.8h0M2170.7 993.0h0M2172.9 1012.0h0M2175.2 998.9h0M2177.5 1004.2h0M2179.8 1005.4h0M2182.0 1006.2h0M2184.3 993.2h0M2186.6 1008.0h0M2188.8 999.3h0M2191.1 1013.1h0M2193.4 991.7h0M2195.7 995.3h0M2197.9 997.9h0M2200.2 1001.8h0M2202.5 1005.4h0"/>
</g>
<g clip-path="url(#c3)">
<path class="d" stroke="#ab4fa8" d="M237.0 1935.4h0M239.3 1936.6h0M241.6 1939.8h0M243.8 1941.4h0M246.1 1947.9h0M248.4 1947.6h0M250.7 1951.6h0M252.9 1953.4h0M255.2 1954.2h0M257.5 1954.0h0M259.8 1950.9h0M262.0 1951.5h0M264.3 1951.7h0M266.6 1953.8h0M268.9 1954.1h0M271.1 1953.1h0M273.4 1951.3h0M275.7 1953.7h0M277.9 1951.4h0M280.2 1951.9h0M282.5 1949.5h0M284.8 1949.8h0M287.1 1952.1h0M289.3 1950.8h0M291.6 1947.7h0M293.9 1946.9h0M296.1 1948.5h0M298.4 1946.1h0M300.7 1949.0h0M303.0 1947.2h0M305.2 1945.2h0M307.5 1948.0h0M309.8 1944.5h0M312.1 1941.9h0M314.4 1945.0h0M316.6 1945.4h0M318.9 1940.9h0M321.2 1939.9h0M323.4 1941.4h0M325.7 1939.7h0M328.0 1938.0h0M330.3 1937.8h0M332.6 1932.1h0M334.8 1933.6h0M337.1 1928.7h0M339.4 1928.0h0M341.6 1929.9h0M343.9 1924.6h0M346.2 1927.1h0M348.5 1922.9h0M350.8 1925.8h0M353.0 1922.1h0M355.3 1922.5h0M357.6 1921.7h0M359.9 1919.9h0M362.1 1919.7h0M364.4 1923.8h0M366.7 1922.8h0M368.9 1917.2h0M371.2 1920.4h0M373.5 1917.5h0M375.8 1918.8h0M378.0 1916.8h0M380.3 1921.0h0M382.6 1917.6h0M384.9 1915.3h0M387.1 1917.0h0M389.4 1914.3h0M391.7 1912.9h0M394.0 1912.3h0M396.2 1915.8h0M398.5 1910.3h0M400.8 1911.8h0M403.1 1913.9h0M405.4 1908.9h0M407.6 1911.8h0M409.9 1910.4h0M412.2 1908.9h0M414.4 1907.3h0M416.7 1908.5h0M419.0 1902.4h0M421.3 1901.1h0M423.5 1903.3h0M425.8 1896.8h0M428.1 1902.0h0M430.4 1899.7h0M432.6 1892.7h0M434.9 1894.9h0M437.2 1893.6h0M439.5 1893.8h0M441.8 1890.5h0M444.0 1892.1h0M446.3 1886.8h0M448.6 1891.6h0M450.9 1886.9h0M453.1 1881.3h0M455.4 1881.8h0M457.7 1880.7h0M459.9 1878.3h0M462.2 1861.7h0M464.5 1859.3h0M466.8 1839.3h0M469.0 1823.3h0M471.3 1792.3h0M473.6 1769.6h0M475.9 1739.4h0M478.1 1716.6h0M480.4 1700.9h0M482.7 1685.7h0M485.0 1666.5h0M487.2 1645.7h0M489.5 1605.3h0M491.8 1562.5h0M494.1 1508.9h0M496.3 1470.5h0M498.6 1428.5h0M500.9 1396.3h0M503.2 1367.0h0M505.4 1350.0h0M507.7 1342.8h0M510.0 1333.0h0M512.3 1318.2h0M514.5 1313.1h0M516.8 1313.9h0M519.1 1311.8h0M521.4 1311.0h0M523.6 1304.3h0M525.9 1307.8h0M528.2 1303.7h0M530.5 1301.4h0M532.8 1302.9h0M535.0 1298.3h0M537.3 1301.7h0M539.6 1297.9h0M541.8 1301.2h0M544.1 1298.6h0M546.4 1296.4h0M548.7 1299.0h0M551.0 1294.2h0M553.2 1292.9h0M555.5 1297.1h0M557.8 1295.1h0M560.0 1298.0h0M562.3 1294.8h0M564.6 1293.0h0M566.9 1295.7h0M569.1 1289.5h0M571.4 1294.9h0M573.7 1292.1h0M576.0 1295.3h0M578.2 1292.8h0M580.5 1288.8h0M582.8 1291.3h0M585.1 1287.7h0M587.3 1287.6h0M589.6 1289.9h0M591.9 1291.6h0M594.2 1286.6h0M596.5 1285.5h0M598.7 1290.0h0M601.0 1291.0h0M603.3 1285.2h0M605.5 1286.7h0M607.8 1289.1h0M610.1 1289.6h0M612.4 1287.2h0M614.6 1284.1h0M616.9 1289.6h0M619.2 1285.7h0M621.5 1289.1h0M623.8 1286.7h0M626.0 1287.9h0M628.3 1287.1h0M630.6 1290.3h0M632.8 1285.2h0M635.1 1284.5h0M637.4 1288.2h0M639.7 1289.0h0M642.0 1286.4h0M644.2 1291.0h0M646.5 1291.8h0M648.8 1287.4h0M651.0 1288.7h0M653.3 1288.3h0M655.6 1292.7h0M657.9 1286.9h0M660.1 1288.4h0M662.4 1292.6h0M664.7 1288.8h0M667.0 1286.7h0M669.2 1292.0h0M671.5 1287.2h0M673.8 1287.3h0M676.1 1288.3h0M678.3 1291.0h0M680.6 1291.5h0M682.9 1292.3h0M685.2 1289.4h0M687.5 1294.1h0M689.7 1291.6h0M692.0 1291.7h0M694.3 1289.1h0M696.5 1289.5h0M698.8 1292.7h0M701.1 1292.1h0M703.4 1291.5h0M705.6 1292.9h0M707.9 1295.1h0M710.2 1296.2h0M712.5 1293.6h0M714.8 1294.7h0M717.0 1296.2h0M719.3 1295.9h0M721.6 1298.3h0M723.8 1294.9h0M726.1 1298.6h0M728.4 1298.6h0M730.7 1294.0h0M733.0 1298.9h0M735.2 1294.9h0M737.5 1296.5h0M739.8 1298.4h0M742.0 1296.1h0M744.3 1296.6h0M746.6 1293.9h0M748.9 1293.5h0M751.1 1297.2h0M753.4 1298.0h0M755.7 1296.5h0M758.0 1299.9h0M760.2 1297.0h0M762.5 1300.1h0M764.8 1298.9h0M767.1 1295.5h0M769.4 1295.5h0M771.6 1297.6h0M773.9 1294.2h0M776.2 1300.1h0M778.4 1299.0h0M780.7 1297.0h0M783.0 1298.2h0M785.3 1296.8h0M787.5 1300.9h0M789.8 1296.5h0M792.1 1300.6h0M794.4 1299.9h0M796.6 1300.6h0M798.9 1296.9h0M801.2 1301.9h0M803.5 1295.2h0M805.8 1299.7h0M808.0 1300.7h0M810.3 1300.2h0M812.6 1299.0h0M814.9 1301.0h0M817.1 1297.2h0M819.4 1297.3h0M821.7 1298.2h0M823.9 1296.2h0M826.2 1297.5h0M828.5 1301.5h0M830.8 1300.7h0M833.0 1299.1h0M835.3 1300.2h0M837.6 1299.4h0M839.9 1298.7h0M842.1 1296.3h0M844.4 1297.9h0M846.7 1295.6h0M849.0 1297.1h0M851.2 1301.2h0M853.5 1294.0h0M855.8 1299.8h0M858.1 1297.8h0M860.4 1300.3h0M862.6 1296.5h0M864.9 1295.2h0M867.2 1297.8h0M869.4 1293.1h0M871.7 1298.4h0M874.0 1292.5h0M876.3 1293.4h0M878.5 1297.7h0M880.8 1297.8h0M883.1 1297.8h0M885.4 1293.9h0M887.6 1296.0h0M889.9 1290.5h0M892.2 1296.4h0"/>
<path class="d" stroke="#03b04a" d="M237.0 1965.1h0M239.3 1968.2h0M241.6 1970.9h0M243.8 1965.6h0M246.1 1966.7h0M248.4 1969.3h0M250.7 1968.4h0M252.9 1969.9h0M255.2 1970.0h0M257.5 1966.8h0M259.8 1967.1h0M262.0 1969.6h0M264.3 1968.9h0M266.6 1963.6h0M268.9 1968.5h0M271.1 1967.4h0M273.4 1969.9h0M275.7 1971.0h0M277.9 1966.5h0M280.2 1969.3h0M282.5 1965.5h0M284.8 1969.4h0M287.1 1968.4h0M289.3 1966.2h0M291.6 1965.9h0M293.9 1968.6h0M296.1 1965.6h0M298.4 1966.9h0M300.7 1964.9h0M303.0 1965.3h0M305.2 1964.8h0M307.5 1969.2h0M309.8 1970.7h0M312.1 1971.3h0M314.4 1968.7h0M316.6 1968.0h0M318.9 1969.2h0M321.2 1970.1h0M323.4 1967.9h0M325.7 1968.9h0M328.0 1966.6h0M330.3 1950.0h0M332.6 1942.4h0M334.8 1940.2h0M337.1 1938.3h0M339.4 1935.7h0M341.6 1939.2h0M343.9 1935.3h0M346.2 1933.1h0M348.5 1937.6h0M350.8 1934.5h0M353.0 1931.0h0M355.3 1932.4h0M357.6 1934.4h0M359.9 1937.8h0M362.1 1930.0h0M364.4 1929.4h0M366.7 1930.9h0M368.9 1935.5h0M371.2 1932.2h0M373.5 1930.1h0M375.8 1932.2h0M378.0 1928.1h0M380.3 1931.1h0M382.6 1936.0h0M384.9 1933.2h0M387.1 1926.8h0M389.4 1926.7h0M391.7 1926.9h0M394.0 1933.0h0M396.2 1932.3h0M398.5 1929.0h0M400.8 1933.8h0M403.1 1925.9h0M405.4 1929.2h0M407.6 1926.8h0M409.9 1927.6h0M412.2 1929.7h0M414.4 1924.5h0M416.7 1930.3h0M419.0 1927.6h0M421.3 1928.2h0M423.5 1925.3h0M425.8 1925.1h0M428.1 1927.3h0M430.4 1928.2h0M432.6 1929.1h0M434.9 1930.4h0M437.2 1926.5h0M439.5 1930.4h0M441.8 1926.9h0M444.0 1920.9h0M446.3 1923.7h0M448.6 1925.7h0M450.9 1920.5h0M453.1 1919.8h0M455.4 1921.7h0M457.7 1926.0h0M459.9 1920.2h0M462.2 1920.9h0M464.5 1922.1h0M466.8 1923.6h0M469.0 1925.4h0M471.3 1924.9h0M473.6 1922.6h0M475.9 1922.6h0M478.1 1922.9h0M480.4 1919.4h0M482.7 1924.7h0M485.0 1925.8h0M487.2 1925.2h0M489.5 1920.7h0M491.8 1926.4h0M494.1 1923.5h0M496.3 1924.8h0M498.6 1926.2h0M500.9 1916.9h0M503.2 1922.6h0M505.4 1917.1h0M507.7 1921.2h0M510.0 1916.1h0M512.3 1924.5h0M514.5 1922.0h0M516.8 1923.2h0M519.1 1917.9h0M521.4 1923.0h0M523.6 1919.7h0M525.9 1923.4h0M528.2 1924.6h0M530.5 1916.0h0M532.8 1917.1h0M535.0 1916.8h0M537.3 1914.5h0M539.6 1916.0h0M541.8 1924.1h0M544.1 1921.7h0M546.4 1920.3h0M548.7 1914.5h0M551.0 1924.3h0M553.2 1916.6h0M555.5 1923.6h0M557.8 1922.4h0M560.0 1921.6h0M562.3 1919.4h0M564.6 1914.4h0M566.9 1914.8h0M569.1 1920.5h0M571.4 1913.2h0M573.7 1923.2h0M576.0 1923.1h0M578.2 1918.5h0M580.5 1919.9h0M582.8 1914.1h0M585.1 1923.3h0M587.3 1913.8h0M589.6 1920.4h0M591.9 1914.7h0M594.2 1923.2h0M596.5 1913.2h0M598.7 1914.1h0M601.0 1916.8h0M603.3 1913.9h0M605.5 1914.2h0M607.8 1913.6h0M610.1 1915.4h0M612.4 1912.2h0M614.6 1916.6h0M616.9 1915.2h0M619.2 1917.6h0M621.5 1911.8h0M623.8 1922.8h0M626.0 1914.6h0M628.3 1920.2h0M630.6 1915.3h0M632.8 1920.9h0M635.1 1919.0h0M637.4 1915.0h0M639.7 1918.2h0M642.0 1915.3h0M644.2 1915.5h0M646.5 1921.7h0M648.8 1914.9h0M651.0 1919.8h0M653.3 1918.1h0M655.6 1917.0h0M657.9 1918.6h0M660.1 1920.0h0M662.4 1921.2h0M664.7 1915.7h0M667.0 1914.2h0M669.2 1920.9h0M671.5 1916.0h0M673.8 1921.7h0M676.1 1915.5h0M678.3 1919.7h0M680.6 1919.0h0M682.9 1915.2h0M685.2 1917.8h0M687.5 1917.9h0M689.7 1919.7h0M692.0 1913.6h0M694.3 1919.8h0M696.5 1915.6h0M698.8 1922.8h0M701.1 1912.4h0M703.4 1911.7h0M705.6 1921.4h0M707.9 1918.2h0M710.2 1922.4h0M712.5 1918.6h0M714.8 1913.0h0M717.0 1916.4h0M719.3 1922.1h0M721.6 1911.8h0M723.8 1916.9h0M726.1 1923.0h0M728.4 1919.4h0M730.7 1922.2h0M733.0 1912.9h0M735.2 1919.1h0M737.5 1917.8h0M739.8 1913.5h0M742.0 1917.0h0M744.3 1923.6h0M746.6 1923.3h0M748.9 1922.1h0M751.1 1915.7h0M753.4 1916.4h0M755.7 1919.8h0M758.0 1920.4h0M760.2 1923.4h0M762.5 1923.6h0M764.8 1916.3h0M767.1 1914.2h0M769.4 1918.0h0M771.6 1915.6h0M773.9 1918.8h0M776.2 1924.0h0M778.4 1924.7h0M780.7 1914.2h0M783.0 1913.4h0M785.3 1911.8h0M787.5 1920.8h0M789.8 1915.1h0M792.1 1915.1h0M794.4 1916.1h0M796.6 1914.0h0M798.9 1912.2h0M801.2 1922.3h0M803.5 1915.3h0M805.8 1919.5h0M808.0 1913.9h0M810.3 1912.8h0M812.6 1912.4h0M814.9 1914.9h0M817.1 1912.7h0M819.4 1923.5h0M821.7 1923.9h0M823.9 1919.5h0M826.2 1915.4h0M828.5 1914.2h0M830.8 1913.8h0M833.0 1923.4h0M835.3 1915.8h0M837.6 1917.6h0M839.9 1922.8h0M842.1 1918.6h0M844.4 1914.3h0M846.7 1922.7h0M849.0 1912.5h0M851.2 1922.6h0M853.5 1923.7h0M855.8 1919.7h0M858.1 1913.8h0M860.4 1913.7h0M862.6 1912.4h0M864.9 1921.9h0M867.2 1921.2h0M869.4 1921.3h0M871.7 1921.2h0M874.0 1918.0h0M876.3 1909.8h0M878.5 1914.2h0M880.8 1918.8h0M883.1 1909.9h0M885.4 1915.4h0M887.6 1922.8h0M889.9 1922.2h0M892.2 1915.2h0"/>
<path class="d" stroke="#047fba" d="M237.0 1976.7h0M239.3 1976.2h0M241.6 1975.4h0M243.8 1973.8h0M246.1 1971.4h0M248.4 1977.4h0M250.7 1971.4h0M252.9 1974.9h0M255.2 1975.7h0M257.5 1975.9h0M259.8 1975.3h0M262.0 1974.8h0M264.3 1975.0h0M266.6 1971.7h0M268.9 1975.3h0M271.1 1975.9h0M273.4 1970.9h0M275.7 1971.9h0M277.9 1977.2h0M280.2 1973.4h0M282.5 1972.8h0M284.8 1976.1h0M287.1 1974.7h0M289.3 1975.7h0M291.6 1976.3h0M293.9 1973.1h0M296.1 1975.9h0M298.4 1972.8h0M300.7 1972.2h0M303.0 1970.8h0M305.2 1968.4h0M307.5 1973.8h0M309.8 1972.0h0M312.1 1967.9h0M314.4 1968.8h0M316.6 1969.7h0M318.9 1968.6h0M321.2 1967.4h0M323.4 1960.7h0M325.7 1962.4h0M328.0 1957.6h0M330.3 1953.7h0M332.6 1948.1h0M334.8 1945.9h0M337.1 1943.1h0M339.4 1937.6h0M341.6 1937.2h0M343.9 1935.8h0M346.2 1926.4h0M348.5 1924.3h0M350.8 1925.4h0M353.0 1921.6h0M355.3 1919.3h0M357.6 1921.1h0M359.9 1921.3h0M362.1 1920.3h0M364.4 1914.1h0M366.7 1912.3h0M368.9 1915.2h0M371.2 1910.4h0M373.5 1913.0h0M375.8 1912.2h0M378.0 1912.6h0M380.3 1909.5h0M382.6 1909.6h0M384.9 1905.0h0M387.1 1903.1h0M389.4 1903.3h0M391.7 1903.4h0M394.0 1901.9h0M396.2 1895.5h0M398.5 1894.6h0M400.8 1891.2h0M403.1 1889.3h0M405.4 1874.5h0M407.6 1870.9h0M409.9 1856.5h0M412.2 1841.2h0M414.4 1820.6h0M416.7 1798.5h0M419.0 1780.0h0M421.3 1762.9h0M423.5 1721.2h0M425.8 1698.0h0M428.1 1659.3h0M430.4 1637.1h0M432.6 1582.3h0M434.9 1552.1h0M437.2 1521.3h0M439.5 1481.1h0M441.8 1430.0h0M444.0 1404.8h0M446.3 1378.5h0M448.6 1366.5h0M450.9 1353.7h0M453.1 1332.4h0M455.4 1322.2h0M457.7 1310.9h0M459.9 1304.2h0M462.2 1293.4h0M464.5 1290.7h0M466.8 1287.7h0M469.0 1282.2h0M471.3 1283.1h0M473.6 1281.4h0M475.9 1276.3h0M478.1 1275.4h0M480.4 1278.6h0M482.7 1278.3h0M485.0 1273.0h0M487.2 1274.9h0M489.5 1272.4h0M491.8 1274.3h0M494.1 1275.5h0M496.3 1274.8h0M498.6 1272.5h0M500.9 1270.6h0M503.2 1269.4h0M505.4 1272.6h0M507.7 1271.8h0M510.0 1269.8h0M512.3 1269.8h0M514.5 1269.0h0M516.8 1269.1h0M519.1 1270.2h0M521.4 1268.7h0M523.6 1270.4h0M525.9 1268.3h0M528.2 1270.1h0M530.5 1272.1h0M532.8 1267.8h0M535.0 1271.6h0M537.3 1269.2h0M539.6 1268.0h0M541.8 1268.5h0M544.1 1268.9h0M546.4 1266.3h0M548.7 1270.5h0M551.0 1269.0h0M553.2 1267.5h0M555.5 1266.0h0M557.8 1270.5h0M560.0 1271.7h0M562.3 1266.9h0M564.6 1267.8h0M566.9 1269.0h0M569.1 1266.1h0M571.4 1265.7h0M573.7 1269.3h0M576.0 1268.9h0M578.2 1268.1h0M580.5 1269.1h0M582.8 1268.7h0M585.1 1269.9h0M587.3 1266.2h0M589.6 1268.5h0M591.9 1265.6h0M594.2 1266.1h0M596.5 1268.0h0M598.7 1269.8h0M601.0 1270.9h0M603.3 1269.2h0M605.5 1265.9h0M607.8 1267.4h0M610.1 1266.0h0M612.4 1270.1h0M614.6 1266.0h0M616.9 1264.5h0M619.2 1270.4h0M621.5 1269.7h0M623.8 1265.1h0M626.0 1268.1h0M628.3 1268.4h0M630.6 1265.0h0M632.8 1264.8h0M635.1 1264.0h0M637.4 1268.7h0M639.7 1266.5h0M642.0 1269.5h0M644.2 1266.9h0M646.5 1264.8h0M648.8 1267.9h0M651.0 1266.8h0M653.3 1265.7h0M655.6 1269.5h0M657.9 1268.1h0M660.1 1267.5h0M662.4 1264.0h0M664.7 1265.4h0M667.0 1265.8h0M669.2 1268.3h0M671.5 1264.3h0M673.8 1268.3h0M676.1 1264.8h0M678.3 1268.0h0M680.6 1263.6h0M682.9 1269.3h0M685.2 1269.0h0M687.5 1263.9h0M689.7 1268.6h0M692.0 1265.9h0M694.3 1267.3h0M696.5 1265.9h0M698.8 1265.7h0M701.1 1266.6h0M703.4 1266.5h0M705.6 1264.9h0M707.9 1268.6h0M710.2 1265.2h0M712.5 1269.6h0M714.8 1264.7h0M717.0 1267.3h0M719.3 1265.5h0M721.6 1269.1h0M723.8 1263.8h0M726.1 1264.1h0M728.4 1264.4h0M730.7 1264.9h0M733.0 1265.4h0M735.2 1270.3h0M737.5 1267.4h0M739.8 1269.2h0M742.0 1270.2h0M744.3 1266.1h0M746.6 1264.2h0M748.9 1264.4h0M751.1 1268.4h0M753.4 1269.6h0M755.7 1267.1h0M758.0 1270.4h0M760.2 1265.8h0M762.5 1265.4h0M764.8 1267.4h0M767.1 1265.6h0M769.4 1270.3h0M771.6 1265.8h0M773.9 1269.6h0M776.2 1268.4h0M778.4 1265.6h0M780.7 1268.5h0M783.0 1266.6h0M785.3 1270.6h0M787.5 1271.8h0M789.8 1265.7h0M792.1 1265.9h0M794.4 1266.9h0M796.6 1268.9h0M798.9 1270.8h0M801.2 1272.1h0M803.5 1266.6h0M805.8 1266.3h0M808.0 1270.9h0M810.3 1268.1h0M812.6 1269.2h0M814.9 1269.3h0M817.1 1269.4h0M819.4 1269.2h0M821.7 1272.4h0M823.9 1271.3h0M826.2 1271.3h0M828.5 1270.2h0M830.8 1270.3h0M833.0 1266.2h0M835.3 1266.6h0M837.6 1268.3h0M839.9 1270.6h0M842.1 1269.3h0M844.4 1269.9h0M846.7 1270.7h0M849.0 1267.4h0M851.2 1268.0h0M853.5 1268.4h0M855.8 1270.9h0M858.1 1270.7h0M860.4 1271.0h0M862.6 1268.7h0M864.9 1268.4h0M867.2 1267.9h0M869.4 1269.7h0M871.7 1271.6h0M874.0 1268.1h0M876.3 1269.4h0M878.5 1267.0h0M880.8 1271.2h0M883.1 1272.8h0M885.4 1268.0h0M887.6 1274.0h0M889.9 1272.9h0M892.2 1269.7h0"/>
<path class="d" stroke="#ff1519" d="M237.0 1961.3h0M239.3 1969.7h0M241.6 1973.9h0M243.8 1963.9h0M246.1 1959.6h0M248.4 1955.6h0M250.7 1968.6h0M252.9 1968.7h0M255.2 1961.0h0M257.5 1959.5h0M259.8 1969.0h0M262.0 1972.4h0M264.3 1969.7h0M266.6 1969.7h0M268.9 1964.7h0M271.1 1970.8h0M273.4 1973.1h0M275.7 1956.1h0M277.9 1962.9h0M280.2 1974.2h0M282.5 1960.9h0M284.8 1971.0h0M287.1 1967.0h0M289.3 1964.0h0M291.6 1960.5h0M293.9 1956.1h0M296.1 1969.7h0M298.4 1973.8h0M300.7 1970.7h0M303.0 1968.2h0M305.2 1970.4h0M307.5 1966.4h0M309.8 1966.3h0M312.1 1956.4h0M314.4 1956.4h0M316.6 1966.2h0M318.9 1967.6h0M321.2 1957.6h0M323.4 1961.1h0M325.7 1957.6h0M328.0 1963.1h0M330.3 1963.6h0M332.6 1950.5h0M334.8 1948.5h0M337.1 1938.7h0M339.4 1938.6h0M341.6 1948.9h0M343.9 1932.5h0M346.2 1934.8h0M348.5 1941.0h0M350.8 1940.2h0M353.0 1939.3h0M355.3 1933.6h0M357.6 1938.4h0M359.9 1927.7h0M362.1 1934.4h0M364.4 1941.0h0M366.7 1930.3h0M368.9 1935.1h0M371.2 1944.9h0M373.5 1932.7h0M375.8 1926.6h0M378.0 1937.5h0M380.3 1934.4h0M382.6 1947.1h0M384.9 1947.4h0M387.1 1942.2h0M389.4 1924.5h0M391.7 1945.9h0M394.0 1940.4h0M396.2 1931.6h0M398.5 1925.6h0M400.8 1923.8h0M403.1 1931.8h0M405.4 1946.9h0M407.6 1936.8h0M409.9 1925.1h0M412.2 1940.1h0M414.4 1947.8h0M416.7 1924.3h0M419.0 1925.1h0M421.3 1929.2h0M423.5 1943.6h0M425.8 1929.5h0M428.1 1944.6h0M430.4 1941.4h0M432.6 1947.1h0M434.9 1942.2h0M437.2 1925.0h0M439.5 1928.6h0M441.8 1930.4h0M444.0 1932.3h0M446.3 1942.0h0M448.6 1945.4h0M450.9 1941.1h0M453.1 1925.6h0M455.4 1934.4h0M457.7 1945.8h0M459.9 1940.3h0M462.2 1936.0h0M464.5 1943.0h0M466.8 1944.8h0M469.0 1935.0h0M471.3 1925.1h0M473.6 1941.6h0M475.9 1936.4h0M478.1 1927.0h0M480.4 1933.0h0M482.7 1931.3h0M485.0 1929.1h0M487.2 1926.6h0M489.5 1946.1h0M491.8 1932.8h0M494.1 1945.2h0M496.3 1943.4h0M498.6 1946.1h0M500.9 1943.0h0M503.2 1925.0h0M505.4 1943.1h0M507.7 1946.9h0M510.0 1940.9h0M512.3 1927.6h0M514.5 1933.8h0M516.8 1933.4h0M519.1 1930.4h0M521.4 1939.4h0M523.6 1927.1h0M525.9 1934.7h0M528.2 1939.5h0M530.5 1940.7h0M532.8 1922.1h0M535.0 1927.1h0M537.3 1933.1h0M539.6 1934.2h0M541.8 1931.7h0M544.1 1946.8h0M546.4 1945.3h0M548.7 1930.7h0M551.0 1930.0h0M553.2 1924.4h0M555.5 1931.5h0M557.8 1928.2h0M560.0 1932.8h0M562.3 1937.0h0M564.6 1935.6h0M566.9 1922.7h0M569.1 1923.2h0M571.4 1924.5h0M573.7 1932.5h0M576.0 1941.8h0M578.2 1945.3h0M580.5 1923.8h0M582.8 1944.7h0M585.1 1938.1h0M587.3 1926.3h0M589.6 1942.0h0M591.9 1926.6h0M594.2 1941.2h0M596.5 1926.9h0M598.7 1928.8h0M601.0 1939.9h0M603.3 1938.5h0M605.5 1937.9h0M607.8 1932.2h0M610.1 1923.7h0M612.4 1933.0h0M614.6 1936.4h0M616.9 1937.0h0M619.2 1942.6h0M621.5 1929.7h0M623.8 1934.2h0M626.0 1923.8h0M628.3 1933.7h0M630.6 1922.2h0M632.8 1935.6h0M635.1 1933.6h0M637.4 1942.3h0M639.7 1926.4h0M642.0 1946.3h0M644.2 1942.3h0M646.5 1938.7h0M648.8 1925.0h0M651.0 1930.8h0M653.3 1938.6h0M655.6 1922.6h0M657.9 1924.5h0M660.1 1945.2h0M662.4 1939.4h0M664.7 1927.3h0M667.0 1922.4h0M669.2 1925.5h0M671.5 1921.5h0M673.8 1941.0h0M676.1 1943.8h0M678.3 1932.2h0M680.6 1941.8h0M682.9 1925.9h0M685.2 1919.1h0M687.5 1931.9h0M689.7 1927.6h0M692.0 1932.5h0M694.3 1938.4h0M696.5 1939.5h0M698.8 1923.8h0M701.1 1918.8h0M703.4 1932.9h0M705.6 1938.9h0M707.9 1920.6h0M710.2 1935.5h0M712.5 1922.2h0M714.8 1925.2h0M717.0 1934.1h0M719.3 1928.8h0M721.6 1932.5h0M723.8 1938.9h0M726.1 1936.3h0M728.4 1927.1h0M730.7 1921.6h0M733.0 1939.7h0M735.2 1936.9h0M737.5 1941.8h0M739.8 1916.1h0M742.0 1939.3h0M744.3 1932.0h0M746.6 1940.6h0M748.9 1928.8h0M751.1 1925.3h0M753.4 1928.2h0M755.7 1924.1h0M758.0 1936.3h0M760.2 1917.8h0M762.5 1921.7h0M764.8 1936.9h0M767.1 1930.0h0M769.4 1941.4h0M771.6 1920.0h0M773.9 1918.2h0M776.2 1928.0h0M778.4 1932.4h0M780.7 1920.7h0M783.0 1932.5h0M785.3 1940.6h0M787.5 1924.2h0M789.8 1931.0h0M792.1 1915.4h0M794.4 1928.2h0M796.6 1938.7h0M798.9 1920.9h0M801.2 1916.2h0M803.5 1938.5h0M805.8 1933.1h0M808.0 1928.7h0M810.3 1922.8h0M812.6 1922.9h0M814.9 1924.9h0M817.1 1918.5h0M819.4 1921.9h0M821.7 1940.8h0M823.9 1915.6h0M826.2 1919.3h0M828.5 1923.3h0M830.8 1920.3h0M833.0 1919.1h0M835.3 1939.6h0M837.6 1923.9h0M839.9 1936.9h0M842.1 1933.6h0M844.4 1918.5h0M846.7 1925.5h0M849.0 1931.9h0M851.2 1934.5h0M853.5 1926.6h0M855.8 1936.3h0M858.1 1928.6h0M860.4 1915.6h0M862.6 1928.3h0M864.9 1924.1h0M867.2 1912.2h0M869.4 1927.5h0M871.7 1929.4h0M874.0 1925.4h0M876.3 1925.7h0M878.5 1910.0h0M880.8 1934.7h0M883.1 1930.4h0M885.4 1912.9h0M887.6 1933.1h0M889.9 1920.8h0M892.2 1913.1h0"/>
</g>
<g clip-path="url(#c4)">
<path class="d" stroke="#ab4fa8" d="M892.0 1973.2h0M894.3 1972.6h0M896.5 1972.7h0M898.8 1972.1h0M901.1 1971.8h0M903.4 1971.5h0M905.6 1973.1h0M907.9 1972.7h0M910.2 1971.5h0M912.5 1971.2h0M914.8 1972.5h0M917.0 1973.2h0M919.3 1973.0h0M921.6 1971.4h0M923.9 1973.0h0M926.1 1972.8h0M928.4 1972.9h0M930.7 1972.3h0M933.0 1971.8h0M935.2 1973.0h0M937.5 1972.2h0M939.8 1971.1h0M942.0 1972.1h0M944.3 1972.2h0M946.6 1971.6h0M948.9 1972.0h0M951.1 1972.3h0M953.4 1971.3h0M955.7 1973.0h0M958.0 1972.8h0M960.2 1971.0h0M962.5 1972.7h0M964.8 1973.1h0M967.1 1972.9h0M969.4 1971.1h0M971.6 1973.1h0M973.9 1972.9h0M976.2 1973.1h0M978.5 1975.4h0M980.7 1975.0h0M983.0 1973.8h0M985.3 1974.6h0M987.5 1973.9h0M989.8 1972.6h0M992.1 1971.0h0M994.4 1972.1h0M996.6 1971.8h0M998.9 1971.4h0M1001.2 1969.0h0M1003.5 1965.4h0M1005.8 1962.5h0M1008.0 1963.5h0M1010.3 1964.6h0M1012.6 1960.3h0M1014.9 1963.2h0M1017.1 1962.3h0M1019.4 1961.6h0M1021.7 1954.3h0M1024.0 1956.2h0M1026.2 1961.1h0M1028.5 1951.9h0M1030.8 1956.4h0M1033.0 1958.1h0M1035.3 1952.5h0M1037.6 1953.6h0M1039.9 1951.9h0M1042.2 1953.3h0M1044.4 1955.1h0M1046.7 1956.9h0M1049.0 1949.4h0M1051.2 1950.8h0M1053.5 1950.9h0M1055.8 1948.2h0M1058.1 1949.0h0M1060.3 1943.7h0M1062.6 1945.3h0M1064.9 1942.4h0M1067.2 1950.0h0M1069.5 1944.8h0M1071.7 1940.9h0M1074.0 1942.0h0M1076.3 1946.1h0M1078.5 1941.3h0M1080.8 1942.8h0M1083.1 1946.0h0M1085.4 1940.0h0M1087.7 1947.8h0M1089.9 1947.5h0M1092.2 1946.0h0M1094.5 1946.4h0M1096.8 1936.6h0M1099.0 1945.0h0M1101.3 1934.8h0M1103.6 1947.1h0M1105.8 1946.5h0M1108.1 1941.7h0M1110.4 1938.8h0M1112.7 1938.6h0M1115.0 1945.4h0M1117.2 1939.7h0M1119.5 1944.2h0M1121.8 1943.3h0M1124.0 1943.1h0M1126.3 1942.7h0M1128.6 1934.5h0M1130.9 1935.3h0M1133.2 1944.0h0M1135.4 1936.8h0M1137.7 1942.9h0M1140.0 1945.8h0M1142.2 1945.1h0M1144.5 1935.7h0M1146.8 1936.7h0M1149.1 1938.7h0M1151.3 1944.1h0M1153.6 1935.0h0M1155.9 1938.9h0M1158.2 1938.0h0M1160.5 1934.7h0M1162.7 1941.7h0M1165.0 1941.6h0M1167.3 1944.4h0M1169.5 1941.2h0M1171.8 1934.6h0M1174.1 1937.2h0M1176.4 1942.2h0M1178.7 1942.0h0M1180.9 1936.8h0M1183.2 1934.1h0M1185.5 1940.1h0M1187.8 1945.8h0M1190.0 1932.6h0M1192.3 1933.5h0M1194.6 1937.0h0M1196.8 1945.2h0M1199.1 1939.5h0M1201.4 1941.7h0M1203.7 1944.6h0M1206.0 1940.1h0M1208.2 1938.7h0M1210.5 1938.6h0M1212.8 1941.8h0M1215.0 1942.3h0M1217.3 1934.3h0M1219.6 1944.2h0M1221.9 1938.3h0M1224.2 1937.9h0M1226.4 1943.2h0M1228.7 1945.4h0M1231.0 1938.7h0M1233.2 1938.1h0M1235.5 1943.5h0M1237.8 1945.7h0M1240.1 1938.4h0M1242.3 1945.5h0M1244.6 1939.8h0M1246.9 1934.8h0M1249.2 1933.8h0M1251.5 1937.5h0M1253.7 1937.2h0M1256.0 1943.8h0M1258.3 1938.6h0M1260.5 1942.3h0M1262.8 1934.0h0M1265.1 1940.3h0M1267.4 1936.8h0M1269.7 1934.9h0M1271.9 1939.5h0M1274.2 1932.4h0M1276.5 1938.2h0M1278.8 1941.9h0M1281.0 1933.5h0M1283.3 1936.2h0M1285.6 1945.6h0M1287.8 1942.1h0M1290.1 1934.9h0M1292.4 1936.3h0M1294.7 1938.9h0M1297.0 1932.1h0M1299.2 1940.9h0M1301.5 1935.7h0M1303.8 1940.7h0M1306.0 1941.9h0M1308.3 1942.8h0M1310.6 1944.5h0M1312.9 1944.0h0M1315.2 1943.3h0M1317.4 1941.5h0M1319.7 1931.9h0M1322.0 1943.6h0M1324.2 1939.4h0M1326.5 1943.0h0M1328.8 1939.7h0M1331.1 1945.4h0M1333.3 1941.9h0M1335.6 1942.2h0M1337.9 1938.1h0M1340.2 1945.7h0M1342.5 1938.7h0M1344.7 1944.6h0M1347.0 1933.1h0M1349.3 1939.6h0M1351.5 1934.6h0M1353.8 1933.6h0M1356.1 1941.3h0M1358.4 1934.0h0M1360.7 1937.8h0M1362.9 1933.9h0M1365.2 1934.1h0M1367.5 1943.6h0M1369.8 1936.2h0M1372.0 1939.9h0M1374.3 1945.5h0M1376.6 1942.5h0M1378.8 1942.8h0M1381.1 1937.7h0M1383.4 1940.6h0M1385.7 1943.3h0M1388.0 1934.2h0M1390.2 1943.5h0M1392.5 1934.8h0M1394.8 1935.3h0M1397.0 1943.3h0M1399.3 1935.5h0M1401.6 1935.6h0M1403.9 1935.8h0M1406.2 1931.5h0M1408.4 1931.9h0M1410.7 1939.2h0M1413.0 1941.2h0M1415.2 1944.2h0M1417.5 1941.0h0M1419.8 1936.1h0M1422.1 1933.3h0M1424.3 1943.7h0M1426.6 1938.0h0M1428.9 1943.5h0M1431.2 1932.6h0M1433.4 1932.0h0M1435.7 1944.6h0M1438.0 1944.7h0M1440.3 1933.2h0M1442.5 1939.2h0M1444.8 1940.4h0M1447.1 1930.9h0M1449.4 1932.0h0M1451.7 1942.2h0M1453.9 1941.8h0M1456.2 1931.7h0M1458.5 1931.6h0M1460.8 1939.0h0M1463.0 1939.4h0M1465.3 1933.8h0M1467.6 1943.8h0M1469.8 1941.0h0M1472.1 1944.5h0M1474.4 1943.3h0M1476.7 1943.6h0M1478.9 1940.7h0M1481.2 1934.1h0M1483.5 1931.3h0M1485.8 1942.6h0M1488.0 1942.9h0M1490.3 1937.0h0M1492.6 1935.1h0M1494.9 1933.3h0M1497.2 1936.7h0M1499.4 1931.1h0M1501.7 1942.2h0M1504.0 1937.3h0M1506.2 1942.3h0M1508.5 1928.8h0M1510.8 1928.5h0M1513.1 1933.9h0M1515.3 1930.8h0M1517.6 1934.3h0M1519.9 1928.0h0M1522.2 1930.6h0M1524.4 1934.2h0M1526.7 1934.7h0M1529.0 1930.7h0M1531.3 1939.0h0M1533.5 1934.3h0M1535.8 1939.2h0M1538.1 1933.7h0M1540.4 1925.3h0M1542.7 1931.2h0M1544.9 1927.2h0M1547.2 1936.8h0"/>
<path class="d" stroke="#03b04a" d="M892.0 1973.2h0M894.3 1972.8h0M896.5 1971.4h0M898.8 1972.9h0M901.1 1973.1h0M903.4 1971.5h0M905.6 1971.9h0M907.9 1973.1h0M910.2 1972.1h0M912.5 1972.9h0M914.8 1972.5h0M917.0 1972.1h0M919.3 1970.7h0M921.6 1972.5h0M923.9 1973.3h0M926.1 1971.6h0M928.4 1971.0h0M930.7 1971.0h0M933.0 1973.0h0M935.2 1970.7h0M937.5 1973.4h0M939.8 1973.5h0M942.0 1971.2h0M944.3 1971.3h0M946.6 1972.0h0M948.9 1971.4h0M951.1 1973.0h0M953.4 1970.4h0M955.7 1972.5h0M958.0 1971.0h0M960.2 1970.5h0M962.5 1972.1h0M964.8 1974.3h0M967.1 1970.9h0M969.4 1970.1h0M971.6 1973.4h0M973.9 1969.9h0M976.2 1972.4h0M978.5 1965.1h0M980.7 1959.0h0M983.0 1954.4h0M985.3 1956.6h0M987.5 1944.2h0M989.8 1941.7h0M992.1 1935.6h0M994.4 1937.4h0M996.6 1944.0h0M998.9 1932.8h0M1001.2 1930.1h0M1003.5 1940.0h0M1005.8 1933.2h0M1008.0 1925.7h0M1010.3 1925.9h0M1012.6 1935.1h0M1014.9 1926.6h0M1017.1 1921.9h0M1019.4 1922.2h0M1021.7 1940.6h0M1024.0 1934.8h0M1026.2 1936.0h0M1028.5 1931.4h0M1030.8 1938.3h0M1033.0 1939.6h0M1035.3 1926.2h0M1037.6 1934.6h0M1039.9 1939.9h0M1042.2 1942.9h0M1044.4 1938.7h0M1046.7 1927.8h0M1049.0 1932.2h0M1051.2 1927.1h0M1053.5 1927.1h0M1055.8 1921.8h0M1058.1 1943.7h0M1060.3 1925.4h0M1062.6 1932.6h0M1064.9 1926.8h0M1067.2 1924.8h0M1069.5 1903.8h0M1071.7 1914.0h0M1074.0 1898.3h0M1076.3 1902.6h0M1078.5 1886.7h0M1080.8 1891.8h0M1083.1 1892.3h0M1085.4 1870.2h0M1087.7 1878.7h0M1089.9 1870.2h0M1092.2 1869.6h0M1094.5 1864.1h0M1096.8 1854.5h0M1099.0 1855.8h0M1101.3 1850.2h0M1103.6 1834.1h0M1105.8 1831.1h0M1108.1 1814.6h0M1110.4 1807.7h0M1112.7 1815.9h0M1115.0 1797.4h0M1117.2 1791.3h0M1119.5 1781.3h0M1121.8 1759.6h0M1124.0 1756.5h0M1126.3 1751.2h0M1128.6 1741.2h0M1130.9 1738.7h0M1133.2 1722.7h0M1135.4 1719.1h0M1137.7 1699.8h0M1140.0 1691.6h0M1142.2 1676.2h0M1144.5 1666.4h0M1146.8 1673.3h0M1149.1 1657.4h0M1151.3 1657.7h0M1153.6 1652.2h0M1155.9 1646.4h0M1158.2 1641.3h0M1160.5 1633.2h0M1162.7 1638.0h0M1165.0 1627.6h0M1167.3 1622.3h0M1169.5 1623.6h0M1171.8 1623.6h0M1174.1 1609.1h0M1176.4 1618.5h0M1178.7 1607.5h0M1180.9 1605.4h0M1183.2 1602.3h0M1185.5 1595.4h0M1187.8 1592.8h0M1190.0 1602.2h0M1192.3 1593.4h0M1194.6 1591.0h0M1196.8 1594.7h0M1199.1 1591.0h0M1201.4 1600.7h0M1203.7 1593.8h0M1206.0 1593.5h0M1208.2 1587.5h0M1210.5 1594.2h0M1212.8 1583.5h0M1215.0 1585.9h0M1217.3 1584.4h0M1219.6 1580.3h0M1221.9 1586.0h0M1224.2 1585.2h0M1226.4 1592.1h0M1228.7 1590.0h0M1231.0 1577.9h0M1233.2 1580.2h0M1235.5 1577.2h0M1237.8 1581.6h0M1240.1 1585.5h0M1242.3 1585.8h0M1244.6 1571.8h0M1246.9 1574.4h0M1249.2 1583.7h0M1251.5 1580.9h0M1253.7 1582.2h0M1256.0 1579.3h0M1258.3 1573.7h0M1260.5 1576.5h0M1262.8 1568.9h0M1265.1 1581.3h0M1267.4 1581.0h0M1269.7 1567.6h0M1271.9 1566.0h0M1274.2 1568.3h0M1276.5 1574.7h0M1278.8 1567.7h0M1281.0 1575.6h0M1283.3 1567.3h0M1285.6 1567.8h0M1287.8 1573.3h0M1290.1 1560.9h0M1292.4 1557.0h0M1294.7 1569.8h0M1297.0 1556.2h0M1299.2 1569.2h0M1301.5 1557.0h0M1303.8 1554.1h0M1306.0 1558.8h0M1308.3 1552.7h0M1310.6 1549.5h0M1312.9 1555.3h0M1315.2 1553.5h0M1317.4 1546.9h0M1319.7 1557.1h0M1322.0 1548.5h0M1324.2 1547.8h0M1326.5 1547.7h0M1328.8 1546.9h0M1331.1 1553.4h0M1333.3 1541.1h0M1335.6 1545.1h0M1337.9 1549.4h0M1340.2 1551.0h0M1342.5 1540.8h0M1344.7 1552.5h0M1347.0 1542.6h0M1349.3 1547.6h0M1351.5 1534.2h0M1353.8 1537.0h0M1356.1 1541.1h0M1358.4 1537.5h0M1360.7 1539.1h0M1362.9 1545.9h0M1365.2 1539.0h0M1367.5 1534.9h0M1369.8 1536.3h0M1372.0 1527.8h0M1374.3 1537.7h0M1376.6 1534.2h0M1378.8 1536.5h0M1381.1 1526.7h0M1383.4 1525.6h0M1385.7 1533.0h0M1388.0 1537.6h0M1390.2 1532.3h0M1392.5 1525.0h0M1394.8 1532.2h0M1397.0 1521.5h0M1399.3 1522.7h0M1401.6 1534.2h0M1403.9 1526.0h0M1406.2 1518.9h0M1408.4 1516.7h0M1410.7 1531.0h0M1413.0 1530.2h0M1415.2 1522.1h0M1417.5 1520.6h0M1419.8 1524.5h0M1422.1 1511.5h0M1424.3 1523.2h0M1426.6 1513.3h0M1428.9 1511.3h0M1431.2 1524.0h0M1433.4 1522.8h0M1435.7 1511.3h0M1438.0 1519.9h0M1440.3 1517.9h0M1442.5 1504.2h0M1444.8 1511.0h0M1447.1 1511.6h0M1449.4 1500.5h0M1451.7 1509.0h0M1453.9 1512.7h0M1456.2 1507.7h0M1458.5 1505.9h0M1460.8 1498.8h0M1463.0 1497.9h0M1465.3 1509.1h0M1467.6 1503.8h0M1469.8 1493.3h0M1472.1 1506.6h0M1474.4 1505.9h0M1476.7 1500.9h0M1478.9 1490.2h0M1481.2 1500.9h0M1483.5 1495.6h0M1485.8 1500.8h0M1488.0 1501.3h0M1490.3 1496.8h0M1492.6 1493.2h0M1494.9 1486.5h0M1497.2 1491.7h0M1499.4 1483.5h0M1501.7 1479.9h0M1504.0 1495.0h0M1506.2 1482.0h0M1508.5 1489.6h0M1510.8 1486.4h0M1513.1 1490.8h0M1515.3 1479.8h0M1517.6 1473.8h0M1519.9 1483.3h0M1522.2 1474.8h0M1524.4 1471.6h0M1526.7 1478.4h0M1529.0 1480.1h0M1531.3 1482.3h0M1533.5 1465.6h0M1535.8 1476.7h0M1538.1 1468.8h0M1540.4 1471.6h0M1542.7 1463.5h0M1544.9 1472.9h0M1547.2 1461.6h0"/>
<path class="d" stroke="#047fba" d="M892.0 1973.5h0M894.3 1973.7h0M896.5 1974.9h0M898.8 1975.0h0M901.1 1974.7h0M903.4 1973.8h0M905.6 1974.1h0M907.9 1975.2h0M910.2 1974.6h0M912.5 1975.2h0M914.8 1973.6h0M917.0 1973.5h0M919.3 1975.0h0M921.6 1973.2h0M923.9 1974.5h0M926.1 1974.8h0M928.4 1975.9h0M930.7 1975.0h0M933.0 1973.4h0M935.2 1973.8h0M937.5 1973.1h0M939.8 1976.1h0M942.0 1973.5h0M944.3 1974.4h0M946.6 1973.0h0M948.9 1973.6h0M951.1 1974.5h0M953.4 1974.0h0M955.7 1972.9h0M958.0 1976.0h0M960.2 1975.6h0M962.5 1974.8h0M964.8 1975.2h0M967.1 1974.3h0M969.4 1974.1h0M971.6 1972.9h0M973.9 1973.0h0M976.2 1965.6h0M978.5 1963.1h0M980.7 1957.4h0M983.0 1945.3h0M985.3 1932.1h0M987.5 1918.2h0M989.8 1896.4h0M992.1 1867.4h0M994.4 1839.4h0M996.6 1814.2h0M998.9 1786.1h0M1001.2 1741.3h0M1003.5 1712.1h0M1005.8 1675.0h0M1008.0 1637.2h0M1010.3 1607.6h0M1012.6 1557.4h0M1014.9 1511.2h0M1017.1 1478.1h0M1019.4 1445.0h0M1021.7 1420.5h0M1024.0 1399.3h0M1026.2 1382.0h0M1028.5 1366.4h0M1030.8 1354.5h0M1033.0 1346.2h0M1035.3 1337.0h0M1037.6 1335.2h0M1039.9 1331.9h0M1042.2 1328.7h0M1044.4 1324.0h0M1046.7 1325.2h0M1049.0 1319.0h0M1051.2 1319.8h0M1053.5 1318.5h0M1055.8 1314.5h0M1058.1 1312.5h0M1060.3 1316.1h0M1062.6 1311.4h0M1064.9 1315.0h0M1067.2 1307.0h0M1069.5 1311.7h0M1071.7 1309.3h0M1074.0 1308.1h0M1076.3 1308.2h0M1078.5 1303.4h0M1080.8 1301.5h0M1083.1 1306.6h0M1085.4 1306.3h0M1087.7 1304.8h0M1089.9 1303.4h0M1092.2 1305.6h0M1094.5 1302.8h0M1096.8 1301.0h0M1099.0 1303.6h0M1101.3 1302.7h0M1103.6 1301.4h0M1105.8 1301.1h0M1108.1 1300.1h0M1110.4 1303.1h0M1112.7 1299.9h0M1115.0 1298.8h0M1117.2 1296.5h0M1119.5 1300.0h0M1121.8 1296.6h0M1124.0 1300.3h0M1126.3 1297.0h0M1128.6 1298.3h0M1130.9 1301.0h0M1133.2 1303.3h0M1135.4 1301.8h0M1137.7 1303.5h0M1140.0 1301.7h0M1142.2 1299.4h0M1144.5 1301.2h0M1146.8 1301.5h0M1149.1 1300.1h0M1151.3 1300.3h0M1153.6 1301.0h0M1155.9 1301.5h0M1158.2 1304.4h0M1160.5 1305.3h0M1162.7 1303.9h0M1165.0 1306.6h0M1167.3 1307.6h0M1169.5 1307.0h0M1171.8 1303.7h0M1174.1 1302.1h0M1176.4 1304.2h0M1178.7 1304.0h0M1180.9 1308.8h0M1183.2 1307.0h0M1185.5 1305.2h0M1187.8 1306.4h0M1190.0 1307.8h0M1192.3 1303.6h0M1194.6 1308.7h0M1196.8 1305.7h0M1199.1 1307.3h0M1201.4 1303.9h0M1203.7 1311.0h0M1206.0 1306.3h0M1208.2 1305.2h0M1210.5 1305.8h0M1212.8 1311.2h0M1215.0 1309.2h0M1217.3 1308.2h0M1219.6 1308.7h0M1221.9 1310.2h0M1224.2 1311.6h0M1226.4 1307.7h0M1228.7 1305.2h0M1231.0 1308.4h0M1233.2 1310.2h0M1235.5 1311.1h0M1237.8 1305.6h0M1240.1 1306.1h0M1242.3 1311.9h0M1244.6 1306.7h0M1246.9 1307.7h0M1249.2 1310.6h0M1251.5 1309.1h0M1253.7 1310.6h0M1256.0 1310.6h0M1258.3 1309.5h0M1260.5 1307.7h0M1262.8 1311.4h0M1265.1 1313.0h0M1267.4 1307.5h0M1269.7 1312.0h0M1271.9 1312.8h0M1274.2 1308.4h0M1276.5 1311.3h0M1278.8 1308.8h0M1281.0 1307.9h0M1283.3 1313.9h0M1285.6 1310.1h0M1287.8 1312.6h0M1290.1 1312.6h0M1292.4 1313.0h0M1294.7 1312.0h0M1297.0 1310.5h0M1299.2 1314.8h0M1301.5 1313.1h0M1303.8 1314.6h0M1306.0 1315.1h0M1308.3 1315.6h0M1310.6 1309.5h0M1312.9 1313.6h0M1315.2 1312.6h0M1317.4 1314.6h0M1319.7 1312.7h0M1322.0 1316.0h0M1324.2 1312.1h0M1326.5 1314.1h0M1328.8 1313.1h0M1331.1 1315.1h0M1333.3 1310.8h0M1335.6 1315.6h0M1337.9 1315.5h0M1340.2 1309.6h0M1342.5 1311.1h0M1344.7 1312.7h0M1347.0 1310.8h0M1349.3 1312.1h0M1351.5 1313.4h0M1353.8 1314.6h0M1356.1 1312.6h0M1358.4 1309.9h0M1360.7 1314.6h0M1362.9 1314.9h0M1365.2 1309.2h0M1367.5 1310.9h0M1369.8 1314.1h0M1372.0 1313.1h0M1374.3 1308.9h0M1376.6 1312.5h0M1378.8 1309.1h0M1381.1 1310.7h0M1383.4 1314.0h0M1385.7 1313.0h0M1388.0 1311.9h0M1390.2 1313.4h0M1392.5 1308.2h0M1394.8 1308.5h0M1397.0 1308.8h0M1399.3 1307.7h0M1401.6 1311.7h0M1403.9 1313.7h0M1406.2 1307.9h0M1408.4 1308.2h0M1410.7 1311.8h0M1413.0 1312.1h0M1415.2 1307.7h0M1417.5 1311.4h0M1419.8 1312.6h0M1422.1 1311.6h0M1424.3 1308.2h0M1426.6 1308.5h0M1428.9 1311.8h0M1431.2 1311.9h0M1433.4 1309.8h0M1435.7 1309.7h0M1438.0 1312.3h0M1440.3 1311.7h0M1442.5 1306.3h0M1444.8 1308.6h0M1447.1 1311.6h0M1449.4 1305.8h0M1451.7 1306.9h0M1453.9 1305.8h0M1456.2 1305.0h0M1458.5 1309.1h0M1460.8 1306.4h0M1463.0 1307.7h0M1465.3 1305.7h0M1467.6 1307.6h0M1469.8 1302.1h0M1472.1 1302.3h0M1474.4 1303.8h0M1476.7 1303.8h0M1478.9 1300.8h0M1481.2 1302.7h0M1483.5 1304.3h0M1485.8 1305.0h0M1488.0 1302.6h0M1490.3 1302.1h0M1492.6 1301.0h0M1494.9 1299.9h0M1497.2 1301.8h0M1499.4 1300.3h0M1501.7 1303.3h0M1504.0 1301.0h0M1506.2 1305.6h0M1508.5 1300.4h0M1510.8 1305.3h0M1513.1 1304.9h0M1515.3 1301.7h0M1517.6 1302.2h0M1519.9 1301.0h0M1522.2 1304.4h0M1524.4 1299.7h0M1526.7 1302.1h0M1529.0 1299.3h0M1531.3 1297.9h0M1533.5 1303.5h0M1535.8 1302.8h0M1538.1 1297.9h0M1540.4 1301.8h0M1542.7 1301.2h0M1544.9 1300.7h0M1547.2 1302.7h0"/>
<path class="d" stroke="#ff1519" d="M892.0 1966.9h0M894.3 1969.2h0M896.5 1956.9h0M898.8 1960.8h0M901.1 1971.1h0M903.4 1955.9h0M905.6 1960.3h0M907.9 1966.6h0M910.2 1962.8h0M912.5 1954.5h0M914.8 1971.3h0M917.0 1967.3h0M919.3 1970.3h0M921.6 1953.8h0M923.9 1965.5h0M926.1 1953.9h0M928.4 1960.3h0M930.7 1948.8h0M933.0 1953.5h0M935.2 1951.2h0M937.5 1948.8h0M939.8 1945.5h0M942.0 1945.2h0M944.3 1946.9h0M946.6 1947.2h0M948.9 1944.3h0M951.1 1931.8h0M953.4 1924.6h0M955.7 1920.2h0M958.0 1917.5h0M960.2 1907.7h0M962.5 1906.9h0M964.8 1902.4h0M967.1 1895.3h0M969.4 1888.7h0M971.6 1879.0h0M973.9 1860.3h0M976.2 1832.9h0M978.5 1795.8h0M980.7 1767.4h0M983.0 1730.7h0M985.3 1649.3h0M987.5 1622.4h0M989.8 1523.7h0M992.1 1478.7h0M994.4 1427.9h0M996.6 1390.8h0M998.9 1374.6h0M1001.2 1364.1h0M1003.5 1354.4h0M1005.8 1340.3h0M1008.0 1328.6h0M1010.3 1319.5h0M1012.6 1311.6h0M1014.9 1300.8h0M1017.1 1300.6h0M1019.4 1294.8h0M1021.7 1292.0h0M1024.0 1285.1h0M1026.2 1286.9h0M1028.5 1282.4h0M1030.8 1280.5h0M1033.0 1280.7h0M1035.3 1279.6h0M1037.6 1275.4h0M1039.9 1275.6h0M1042.2 1273.2h0M1044.4 1278.2h0M1046.7 1277.3h0M1049.0 1276.7h0M1051.2 1271.0h0M1053.5 1271.8h0M1055.8 1273.6h0M1058.1 1272.1h0M1060.3 1272.7h0M1062.6 1273.0h0M1064.9 1269.9h0M1067.2 1271.2h0M1069.5 1268.8h0M1071.7 1270.3h0M1074.0 1267.4h0M1076.3 1266.3h0M1078.5 1266.5h0M1080.8 1269.0h0M1083.1 1265.4h0M1085.4 1267.8h0M1087.7 1266.9h0M1089.9 1270.3h0M1092.2 1264.6h0M1094.5 1265.7h0M1096.8 1264.9h0M1099.0 1269.2h0M1101.3 1268.7h0M1103.6 1269.0h0M1105.8 1264.6h0M1108.1 1263.6h0M1110.4 1264.8h0M1112.7 1264.3h0M1115.0 1263.3h0M1117.2 1262.5h0M1119.5 1265.8h0M1121.8 1265.2h0M1124.0 1267.5h0M1126.3 1265.3h0M1128.6 1265.9h0M1130.9 1267.5h0M1133.2 1267.5h0M1135.4 1267.3h0M1137.7 1265.8h0M1140.0 1264.6h0M1142.2 1267.6h0M1144.5 1264.4h0M1146.8 1265.9h0M1149.1 1266.2h0M1151.3 1265.8h0M1153.6 1269.2h0M1155.9 1265.4h0M1158.2 1271.7h0M1160.5 1272.5h0M1162.7 1268.7h0M1165.0 1267.4h0M1167.3 1271.3h0M1169.5 1269.9h0M1171.8 1268.6h0M1174.1 1271.8h0M1176.4 1271.6h0M1178.7 1269.5h0M1180.9 1270.1h0M1183.2 1274.0h0M1185.5 1275.9h0M1187.8 1274.2h0M1190.0 1274.9h0M1192.3 1272.5h0M1194.6 1276.8h0M1196.8 1275.3h0M1199.1 1274.1h0M1201.4 1272.9h0M1203.7 1276.5h0M1206.0 1277.6h0M1208.2 1277.7h0M1210.5 1277.4h0M1212.8 1275.9h0M1215.0 1280.3h0M1217.3 1275.6h0M1219.6 1276.7h0M1221.9 1281.6h0M1224.2 1282.9h0M1226.4 1283.4h0M1228.7 1277.8h0M1231.0 1284.2h0M1233.2 1283.0h0M1235.5 1280.3h0M1237.8 1278.7h0M1240.1 1284.9h0M1242.3 1282.5h0M1244.6 1281.5h0M1246.9 1281.6h0M1249.2 1284.3h0M1251.5 1283.5h0M1253.7 1281.4h0M1256.0 1280.8h0M1258.3 1284.6h0M1260.5 1283.2h0M1262.8 1283.9h0M1265.1 1285.0h0M1267.4 1285.8h0M1269.7 1283.7h0M1271.9 1285.0h0M1274.2 1284.4h0M1276.5 1285.9h0M1278.8 1290.0h0M1281.0 1287.8h0M1283.3 1288.2h0M1285.6 1291.0h0M1287.8 1286.7h0M1290.1 1286.2h0M1292.4 1288.2h0M1294.7 1287.3h0M1297.0 1290.1h0M1299.2 1287.7h0M1301.5 1289.3h0M1303.8 1292.8h0M1306.0 1288.4h0M1308.3 1289.8h0M1310.6 1290.4h0M1312.9 1291.9h0M1315.2 1287.8h0M1317.4 1292.5h0M1319.7 1291.0h0M1322.0 1294.3h0M1324.2 1294.2h0M1326.5 1294.0h0M1328.8 1289.6h0M1331.1 1294.0h0M1333.3 1289.9h0M1335.6 1293.1h0M1337.9 1293.3h0M1340.2 1295.5h0M1342.5 1294.8h0M1344.7 1295.8h0M1347.0 1293.0h0M1349.3 1295.8h0M1351.5 1291.8h0M1353.8 1298.6h0M1356.1 1299.1h0M1358.4 1295.8h0M1360.7 1294.3h0M1362.9 1299.2h0M1365.2 1296.2h0M1367.5 1294.4h0M1369.8 1295.8h0M1372.0 1294.5h0M1374.3 1298.3h0M1376.6 1298.7h0M1378.8 1301.0h0M1381.1 1300.6h0M1383.4 1296.2h0M1385.7 1298.1h0M1388.0 1297.4h0M1390.2 1301.8h0M1392.5 1301.3h0M1394.8 1303.2h0M1397.0 1300.3h0M1399.3 1302.9h0M1401.6 1301.5h0M1403.9 1300.2h0M1406.2 1298.1h0M1408.4 1298.6h0M1410.7 1300.6h0M1413.0 1305.3h0M1415.2 1300.1h0M1417.5 1302.3h0M1419.8 1303.5h0M1422.1 1299.7h0M1424.3 1304.0h0M1426.6 1300.8h0M1428.9 1301.1h0M1431.2 1304.4h0M1433.4 1303.2h0M1435.7 1302.5h0M1438.0 1305.4h0M1440.3 1305.3h0M1442.5 1303.0h0M1444.8 1303.5h0M1447.1 1303.3h0M1449.4 1306.1h0M1451.7 1307.5h0M1453.9 1306.4h0M1456.2 1302.5h0M1458.5 1305.8h0M1460.8 1305.1h0M1463.0 1308.4h0M1465.3 1304.9h0M1467.6 1304.4h0M1469.8 1304.9h0M1472.1 1309.1h0M1474.4 1310.4h0M1476.7 1307.9h0M1478.9 1308.4h0M1481.2 1311.7h0M1483.5 1313.2h0M1485.8 1306.9h0M1488.0 1307.8h0M1490.3 1311.0h0M1492.6 1314.0h0M1494.9 1310.9h0M1497.2 1311.9h0M1499.4 1310.5h0M1501.7 1313.6h0M1504.0 1313.4h0M1506.2 1311.4h0M1508.5 1311.0h0M1510.8 1315.1h0M1513.1 1314.0h0M1515.3 1311.5h0M1517.6 1312.9h0M1519.9 1316.7h0M1522.2 1315.5h0M1524.4 1313.1h0M1526.7 1318.2h0M1529.0 1311.7h0M1531.3 1313.3h0M1533.5 1316.8h0M1535.8 1318.8h0M1538.1 1313.4h0M1540.4 1319.3h0M1542.7 1315.6h0M1544.9 1314.3h0M1547.2 1320.2h0"/>
</g>
<g clip-path="url(#c5)">
<path class="d" stroke="#ab4fa8" d="M1547.3 1973.8h0M1549.6 1973.8h0M1551.8 1973.8h0M1554.1 1973.8h0M1556.4 1973.8h0M1558.7 1973.8h0M1561.0 1973.8h0M1563.2 1973.8h0M1565.5 1973.8h0M1567.8 1973.8h0M1570.0 1973.8h0M1572.3 1973.8h0M1574.6 1973.8h0M1576.9 1973.8h0M1579.1 1973.8h0M1581.4 1973.8h0M1583.7 1973.8h0M1586.0 1973.8h0M1588.2 1973.8h0M1590.5 1973.8h0M1592.8 1973.8h0M1595.1 1973.8h0M1597.3 1973.8h0M1599.6 1973.8h0M1601.9 1973.8h0M1604.2 1973.8h0M1606.5 1973.8h0M1608.7 1973.8h0M1611.0 1973.8h0M1613.3 1973.8h0M1615.5 1973.8h0M1617.8 1972.7h0M1620.1 1970.6h0M1622.4 1973.3h0M1624.6 1975.0h0M1626.9 1972.6h0M1629.2 1965.2h0M1631.5 1968.7h0M1633.8 1961.6h0M1636.0 1965.8h0M1638.3 1964.4h0M1640.6 1966.2h0M1642.8 1948.1h0M1645.1 1962.7h0M1647.4 1971.1h0M1649.7 1950.1h0M1652.0 1950.1h0M1654.2 1962.3h0M1656.5 1941.7h0M1658.8 1970.3h0M1661.0 1937.4h0M1663.3 1952.7h0M1665.6 1968.8h0M1667.9 1959.1h0M1670.1 1946.6h0M1672.4 1938.1h0M1674.7 1950.3h0M1677.0 1939.2h0M1679.2 1947.5h0M1681.5 1960.5h0M1683.8 1970.0h0M1686.1 1948.2h0M1688.3 1952.0h0M1690.6 1952.8h0M1692.9 1968.2h0M1695.2 1947.0h0M1697.5 1934.9h0M1699.7 1944.2h0M1702.0 1966.8h0M1704.3 1951.2h0M1706.5 1938.8h0M1708.8 1936.4h0M1711.1 1958.6h0M1713.4 1951.5h0M1715.6 1944.0h0M1717.9 1960.4h0M1720.2 1968.8h0M1722.5 1935.9h0M1724.8 1959.1h0M1727.0 1951.3h0M1729.3 1946.3h0M1731.6 1970.7h0M1733.8 1929.0h0M1736.1 1962.8h0M1738.4 1939.0h0M1740.7 1933.7h0M1743.0 1966.1h0M1745.2 1941.6h0M1747.5 1952.8h0M1749.8 1958.5h0M1752.0 1955.1h0M1754.3 1943.8h0M1756.6 1937.7h0M1758.9 1928.9h0M1761.1 1958.2h0M1763.4 1943.5h0M1765.7 1947.9h0M1768.0 1963.9h0M1770.2 1954.7h0M1772.5 1967.3h0M1774.8 1947.2h0M1777.1 1965.3h0M1779.3 1958.7h0M1781.6 1943.0h0M1783.9 1968.5h0M1786.2 1970.1h0M1788.4 1936.4h0M1790.7 1930.4h0M1793.0 1953.6h0M1795.3 1946.7h0M1797.5 1959.6h0M1799.8 1940.2h0M1802.1 1967.3h0M1804.4 1959.6h0M1806.6 1957.9h0M1808.9 1959.5h0M1811.2 1928.9h0M1813.5 1928.5h0M1815.8 1944.8h0M1818.0 1968.5h0M1820.3 1957.3h0M1822.6 1929.7h0M1824.8 1945.2h0M1827.1 1927.7h0M1829.4 1956.8h0M1831.7 1941.3h0M1833.9 1963.7h0M1836.2 1930.1h0M1838.5 1925.9h0M1840.8 1941.6h0M1843.0 1945.6h0M1845.3 1927.8h0M1847.6 1960.8h0M1849.9 1930.2h0M1852.1 1968.6h0M1854.4 1954.0h0M1856.7 1938.9h0M1859.0 1935.2h0M1861.2 1954.1h0M1863.5 1934.1h0M1865.8 1942.8h0M1868.1 1948.7h0M1870.3 1956.9h0M1872.6 1942.3h0M1874.9 1924.8h0M1877.2 1936.3h0M1879.4 1968.3h0M1881.7 1964.7h0M1884.0 1926.3h0M1886.3 1958.7h0M1888.5 1925.9h0M1890.8 1961.8h0M1893.1 1961.7h0M1895.4 1925.7h0M1897.6 1940.0h0M1899.9 1929.2h0M1902.2 1926.9h0M1904.5 1968.9h0M1906.8 1962.6h0M1909.0 1963.1h0M1911.3 1955.4h0M1913.6 1955.4h0M1915.8 1946.8h0M1918.1 1937.7h0M1920.4 1927.7h0M1922.7 1912.7h0M1924.9 1900.0h0M1927.2 1894.8h0M1929.5 1894.2h0M1931.8 1885.2h0M1934.0 1876.7h0M1936.3 1864.4h0M1938.6 1859.0h0M1940.9 1844.2h0M1943.1 1825.7h0M1945.4 1808.1h0M1947.7 1775.3h0M1950.0 1763.2h0M1952.2 1745.1h0M1954.5 1722.3h0M1956.8 1705.1h0M1959.1 1668.6h0M1961.3 1604.2h0M1963.6 1544.8h0M1965.9 1490.8h0M1968.2 1423.5h0M1970.4 1388.7h0M1972.7 1361.1h0M1975.0 1335.3h0M1977.3 1315.2h0M1979.5 1299.2h0M1981.8 1290.0h0M1984.1 1278.0h0M1986.4 1271.8h0M1988.6 1266.5h0M1990.9 1264.9h0M1993.2 1256.7h0M1995.5 1258.1h0M1997.8 1253.8h0M2000.0 1252.3h0M2002.3 1248.7h0M2004.6 1243.0h0M2006.8 1241.3h0M2009.1 1240.2h0M2011.4 1243.2h0M2013.7 1239.9h0M2015.9 1238.2h0M2018.2 1235.6h0M2020.5 1238.0h0M2022.8 1236.6h0M2025.0 1237.7h0M2027.3 1234.4h0M2029.6 1233.8h0M2031.9 1233.2h0M2034.1 1233.0h0M2036.4 1238.1h0M2038.7 1233.9h0M2041.0 1235.5h0M2043.2 1232.5h0M2045.5 1235.6h0M2047.8 1237.7h0M2050.1 1234.9h0M2052.3 1237.9h0M2054.6 1236.8h0M2056.9 1232.6h0M2059.2 1232.7h0M2061.4 1234.5h0M2063.7 1236.1h0M2066.0 1239.1h0M2068.3 1237.1h0M2070.6 1237.4h0M2072.8 1235.7h0M2075.1 1235.8h0M2077.4 1234.9h0M2079.7 1234.9h0M2081.9 1235.4h0M2084.2 1235.1h0M2086.5 1238.4h0M2088.8 1238.8h0M2091.0 1237.2h0M2093.3 1235.2h0M2095.6 1239.1h0M2097.8 1235.3h0M2100.1 1234.9h0M2102.4 1234.6h0M2104.7 1236.4h0M2106.9 1237.1h0M2109.2 1238.2h0M2111.5 1235.7h0M2113.8 1235.8h0M2116.1 1238.2h0M2118.3 1237.1h0M2120.6 1239.8h0M2122.9 1238.4h0M2125.2 1239.1h0M2127.4 1239.2h0M2129.7 1241.9h0M2132.0 1240.3h0M2134.2 1241.0h0M2136.5 1245.3h0M2138.8 1246.7h0M2141.1 1244.0h0M2143.3 1246.4h0M2145.6 1244.0h0M2147.9 1250.0h0M2150.2 1249.6h0M2152.4 1250.5h0M2154.7 1251.7h0M2157.0 1252.8h0M2159.3 1253.9h0M2161.6 1254.4h0M2163.8 1255.8h0M2166.1 1254.4h0M2168.4 1254.8h0M2170.7 1257.1h0M2172.9 1256.7h0M2175.2 1260.1h0M2177.5 1255.5h0M2179.8 1260.9h0M2182.0 1258.8h0M2184.3 1262.8h0M2186.6 1259.8h0M2188.8 1265.9h0M2191.1 1268.7h0M2193.4 1269.0h0M2195.7 1273.2h0M2197.9 1270.1h0M2200.2 1272.7h0M2202.5 1279.7h0"/>
<path class="d" stroke="#03b04a" d="M1547.3 1973.8h0M1549.6 1973.8h0M1551.8 1973.8h0M1554.1 1973.8h0M1556.4 1973.8h0M1558.7 1973.8h0M1561.0 1973.8h0M1563.2 1973.8h0M1565.5 1973.8h0M1567.8 1973.8h0M1570.0 1973.8h0M1572.3 1973.8h0M1574.6 1973.8h0M1576.9 1973.8h0M1579.1 1973.8h0M1581.4 1973.8h0M1583.7 1973.8h0M1586.0 1973.8h0M1588.2 1973.8h0M1590.5 1973.8h0M1592.8 1973.8h0M1595.1 1973.8h0M1597.3 1973.8h0M1599.6 1973.8h0M1601.9 1973.8h0M1604.2 1973.8h0M1606.5 1973.8h0M1608.7 1973.8h0M1611.0 1973.8h0M1613.3 1973.8h0M1615.5 1973.8h0M1617.8 1973.8h0M1620.1 1973.8h0M1622.4 1973.8h0M1624.6 1973.8h0M1626.9 1973.8h0M1629.2 1973.8h0M1631.5 1973.8h0M1633.8 1973.8h0M1636.0 1973.8h0M1638.3 1973.8h0M1640.6 1973.5h0M1642.8 1972.7h0M1645.1 1971.7h0M1647.4 1970.2h0M1649.7 1968.4h0M1652.0 1965.1h0M1654.2 1961.5h0M1656.5 1959.0h0M1658.8 1954.9h0M1661.0 1950.1h0M1663.3 1949.4h0M1665.6 1947.7h0M1667.9 1937.4h0M1670.1 1940.4h0M1672.4 1931.4h0M1674.7 1930.3h0M1677.0 1920.5h0M1679.2 1910.3h0M1681.5 1912.4h0M1683.8 1899.7h0M1686.1 1900.6h0M1688.3 1887.1h0M1690.6 1881.0h0M1692.9 1868.7h0M1695.2 1855.9h0M1697.5 1831.7h0M1699.7 1819.6h0M1702.0 1806.9h0M1704.3 1789.9h0M1706.5 1761.4h0M1708.8 1748.9h0M1711.1 1734.9h0M1713.4 1714.6h0M1715.6 1681.8h0M1717.9 1660.3h0M1720.2 1635.6h0M1722.5 1604.9h0M1724.8 1588.3h0M1727.0 1552.5h0M1729.3 1528.7h0M1731.6 1512.6h0M1733.8 1499.9h0M1736.1 1465.1h0M1738.4 1454.9h0M1740.7 1438.1h0M1743.0 1417.4h0M1745.2 1402.2h0M1747.5 1388.1h0M1749.8 1368.0h0M1752.0 1353.9h0M1754.3 1330.6h0M1756.6 1317.3h0M1758.9 1308.1h0M1761.1 1300.0h0M1763.4 1298.0h0M1765.7 1288.7h0M1768.0 1285.6h0M1770.2 1286.8h0M1772.5 1282.1h0M1774.8 1279.2h0M1777.1 1276.8h0M1779.3 1274.7h0M1781.6 1272.1h0M1783.9 1271.3h0M1786.2 1269.8h0M1788.4 1268.8h0M1790.7 1264.9h0M1793.0 1266.4h0M1795.3 1266.6h0M1797.5 1260.6h0M1799.8 1263.4h0M1802.1 1258.9h0M1804.4 1260.5h0M1806.6 1263.1h0M1808.9 1263.3h0M1811.2 1258.0h0M1813.5 1261.5h0M1815.8 1262.7h0M1818.0 1258.3h0M1820.3 1262.4h0M1822.6 1261.7h0M1824.8 1256.8h0M1827.1 1259.6h0M1829.4 1256.1h0M1831.7 1256.9h0M1833.9 1260.1h0M1836.2 1253.9h0M1838.5 1257.7h0M1840.8 1254.8h0M1843.0 1255.1h0M1845.3 1256.7h0M1847.6 1253.4h0M1849.9 1258.9h0M1852.1 1257.3h0M1854.4 1253.0h0M1856.7 1258.0h0M1859.0 1256.4h0M1861.2 1253.5h0M1863.5 1257.6h0M1865.8 1257.3h0M1868.1 1257.8h0M1870.3 1254.3h0M1872.6 1255.8h0M1874.9 1256.4h0M1877.2 1253.2h0M1879.4 1254.8h0M1881.7 1258.5h0M1884.0 1252.6h0M1886.3 1254.7h0M1888.5 1253.5h0M1890.8 1255.2h0M1893.1 1252.2h0M1895.4 1256.3h0M1897.6 1255.5h0M1899.9 1254.8h0M1902.2 1256.1h0M1904.5 1254.6h0M1906.8 1251.6h0M1909.0 1252.6h0M1911.3 1256.3h0M1913.6 1252.1h0M1915.8 1256.9h0M1918.1 1256.2h0M1920.4 1254.5h0M1922.7 1252.8h0M1924.9 1256.2h0M1927.2 1253.2h0M1929.5 1253.3h0M1931.8 1250.9h0M1934.0 1255.3h0M1936.3 1251.2h0M1938.6 1256.1h0M1940.9 1252.3h0M1943.1 1253.9h0M1945.4 1254.3h0M1947.7 1256.1h0M1950.0 1258.5h0M1952.2 1256.3h0M1954.5 1256.5h0M1956.8 1255.7h0M1959.1 1259.8h0M1961.3 1256.9h0M1963.6 1254.2h0M1965.9 1254.6h0M1968.2 1257.6h0M1970.4 1257.2h0M1972.7 1254.7h0M1975.0 1254.0h0M1977.3 1259.4h0M1979.5 1257.3h0M1981.8 1257.3h0M1984.1 1257.5h0M1986.4 1259.6h0M1988.6 1256.1h0M1990.9 1257.5h0M1993.2 1257.8h0M1995.5 1261.0h0M1997.8 1256.3h0M2000.0 1259.3h0M2002.3 1257.5h0M2004.6 1259.1h0M2006.8 1262.2h0M2009.1 1256.3h0M2011.4 1258.7h0M2013.7 1261.8h0M2015.9 1259.6h0M2018.2 1261.6h0M2020.5 1256.6h0M2022.8 1259.9h0M2025.0 1262.1h0M2027.3 1257.6h0M2029.6 1259.0h0M2031.9 1262.2h0M2034.1 1259.6h0M2036.4 1262.9h0M2038.7 1258.8h0M2041.0 1261.4h0M2043.2 1258.8h0M2045.5 1264.2h0M2047.8 1262.8h0M2050.1 1261.7h0M2052.3 1258.7h0M2054.6 1264.6h0M2056.9 1258.1h0M2059.2 1265.3h0M2061.4 1264.1h0M2063.7 1261.8h0M2066.0 1261.7h0M2068.3 1262.2h0M2070.6 1264.8h0M2072.8 1260.8h0M2075.1 1260.5h0M2077.4 1261.1h0M2079.7 1259.5h0M2081.9 1263.4h0M2084.2 1263.6h0M2086.5 1264.5h0M2088.8 1260.7h0M2091.0 1265.9h0M2093.3 1260.1h0M2095.6 1260.1h0M2097.8 1263.4h0M2100.1 1264.3h0M2102.4 1264.6h0M2104.7 1262.0h0M2106.9 1261.3h0M2109.2 1267.3h0M2111.5 1263.1h0M2113.8 1263.2h0M2116.1 1266.8h0M2118.3 1267.0h0M2120.6 1270.4h0M2122.9 1268.8h0M2125.2 1267.1h0M2127.4 1267.4h0M2129.7 1266.5h0M2132.0 1266.2h0M2134.2 1269.8h0M2136.5 1270.7h0M2138.8 1271.7h0M2141.1 1270.4h0M2143.3 1272.9h0M2145.6 1269.6h0M2147.9 1274.1h0M2150.2 1270.0h0M2152.4 1274.5h0M2154.7 1269.1h0M2157.0 1268.8h0M2159.3 1270.4h0M2161.6 1267.5h0M2163.8 1271.9h0M2166.1 1271.0h0M2168.4 1272.5h0M2170.7 1269.5h0M2172.9 1270.4h0M2175.2 1266.1h0M2177.5 1269.0h0M2179.8 1273.2h0M2182.0 1271.7h0M2184.3 1267.8h0M2186.6 1266.5h0M2188.8 1268.3h0M2191.1 1265.4h0M2193.4 1266.2h0M2195.7 1266.8h0M2197.9 1267.3h0M2200.2 1269.7h0M2202.5 1272.2h0"/>
<path class="d" stroke="#047fba" d="M1547.3 1973.8h0M1549.6 1973.8h0M1551.8 1973.8h0M1554.1 1973.8h0M1556.4 1973.8h0M1558.7 1973.8h0M1561.0 1973.8h0M1563.2 1973.8h0M1565.5 1973.8h0M1567.8 1973.8h0M1570.0 1973.8h0M1572.3 1973.8h0M1574.6 1973.8h0M1576.9 1973.8h0M1579.1 1973.8h0M1581.4 1973.8h0M1583.7 1973.8h0M1586.0 1973.8h0M1588.2 1973.8h0M1590.5 1973.8h0M1592.8 1973.8h0M1595.1 1973.8h0M1597.3 1973.8h0M1599.6 1973.8h0M1601.9 1973.8h0M1604.2 1973.8h0M1606.5 1973.8h0M1608.7 1973.8h0M1611.0 1973.8h0M1613.3 1973.8h0M1615.5 1973.8h0M1617.8 1973.8h0M1620.1 1973.8h0M1622.4 1973.8h0M1624.6 1973.8h0M1626.9 1973.8h0M1629.2 1973.8h0M1631.5 1972.6h0M1633.8 1973.2h0M1636.0 1970.9h0M1638.3 1974.9h0M1640.6 1972.5h0M1642.8 1963.7h0M1645.1 1975.2h0M1647.4 1969.2h0M1649.7 1971.5h0M1652.0 1968.4h0M1654.2 1961.1h0M1656.5 1954.3h0M1658.8 1962.7h0M1661.0 1952.7h0M1663.3 1957.9h0M1665.6 1951.6h0M1667.9 1972.0h0M1670.1 1953.0h0M1672.4 1956.2h0M1674.7 1950.9h0M1677.0 1974.8h0M1679.2 1973.3h0M1681.5 1975.6h0M1683.8 1975.6h0M1686.1 1969.1h0M1688.3 1960.2h0M1690.6 1964.5h0M1692.9 1971.9h0M1695.2 1954.9h0M1697.5 1971.6h0M1699.7 1948.7h0M1702.0 1967.0h0M1704.3 1974.0h0M1706.5 1970.5h0M1708.8 1974.4h0M1711.1 1969.0h0M1713.4 1957.1h0M1715.6 1965.3h0M1717.9 1974.9h0M1720.2 1966.0h0M1722.5 1965.8h0M1724.8 1967.8h0M1727.0 1954.8h0M1729.3 1971.4h0M1731.6 1960.0h0M1733.8 1974.4h0M1736.1 1962.3h0M1738.4 1953.8h0M1740.7 1965.8h0M1743.0 1972.3h0M1745.2 1959.6h0M1747.5 1947.8h0M1749.8 1955.0h0M1752.0 1962.1h0M1754.3 1958.6h0M1756.6 1965.4h0M1758.9 1964.0h0M1761.1 1951.9h0M1763.4 1950.3h0M1765.7 1960.0h0M1768.0 1953.9h0M1770.2 1951.5h0M1772.5 1957.9h0M1774.8 1949.0h0M1777.1 1958.3h0M1779.3 1959.7h0M1781.6 1954.2h0M1783.9 1957.5h0M1786.2 1949.6h0M1788.4 1952.6h0M1790.7 1959.7h0M1793.0 1954.9h0M1795.3 1949.5h0M1797.5 1962.9h0M1799.8 1965.4h0M1802.1 1950.9h0M1804.4 1972.4h0M1806.6 1960.0h0M1808.9 1973.7h0M1811.2 1954.5h0M1813.5 1948.3h0M1815.8 1947.1h0M1818.0 1964.2h0M1820.3 1950.2h0M1822.6 1956.1h0M1824.8 1968.5h0M1827.1 1973.4h0M1829.4 1957.6h0M1831.7 1964.9h0M1833.9 1949.4h0M1836.2 1947.6h0M1838.5 1958.4h0M1840.8 1957.0h0M1843.0 1971.2h0M1845.3 1965.2h0M1847.6 1951.1h0M1849.9 1960.3h0M1852.1 1965.8h0M1854.4 1959.3h0M1856.7 1960.1h0M1859.0 1961.3h0M1861.2 1961.2h0M1863.5 1958.5h0M1865.8 1946.8h0M1868.1 1948.9h0M1870.3 1958.9h0M1872.6 1973.8h0M1874.9 1948.9h0M1877.2 1955.9h0M1879.4 1971.4h0M1881.7 1948.6h0M1884.0 1959.4h0M1886.3 1968.2h0M1888.5 1950.9h0M1890.8 1966.9h0M1893.1 1949.9h0M1895.4 1956.4h0M1897.6 1965.2h0M1899.9 1965.7h0M1902.2 1967.0h0M1904.5 1970.5h0M1906.8 1967.8h0M1909.0 1964.4h0M1911.3 1966.7h0M1913.6 1962.3h0M1915.8 1965.0h0M1918.1 1949.6h0M1920.4 1958.5h0M1922.7 1969.9h0M1924.9 1958.1h0M1927.2 1967.4h0M1929.5 1952.7h0M1931.8 1961.3h0M1934.0 1945.9h0M1936.3 1972.6h0M1938.6 1970.1h0M1940.9 1952.9h0M1943.1 1968.1h0M1945.4 1973.7h0M1947.7 1958.1h0M1950.0 1946.8h0M1952.2 1960.9h0M1954.5 1959.3h0M1956.8 1975.3h0M1959.1 1950.3h0M1961.3 1943.9h0M1963.6 1974.1h0M1965.9 1969.5h0M1968.2 1969.6h0M1970.4 1949.0h0M1972.7 1944.3h0M1975.0 1945.5h0M1977.3 1968.6h0M1979.5 1964.7h0M1981.8 1953.5h0M1984.1 1967.6h0M1986.4 1946.3h0M1988.6 1962.9h0M1990.9 1967.7h0M1993.2 1969.8h0M1995.5 1944.4h0M1997.8 1971.0h0M2000.0 1943.9h0M2002.3 1972.4h0M2004.6 1949.3h0M2006.8 1965.5h0M2009.1 1945.7h0M2011.4 1945.4h0M2013.7 1945.5h0M2015.9 1966.8h0M2018.2 1973.6h0M2020.5 1943.6h0M2022.8 1956.1h0M2025.0 1968.6h0M2027.3 1960.0h0M2029.6 1945.8h0M2031.9 1972.9h0M2034.1 1955.9h0M2036.4 1975.1h0M2038.7 1962.9h0M2041.0 1953.7h0M2043.2 1962.3h0M2045.5 1951.3h0M2047.8 1961.7h0M2050.1 1957.4h0M2052.3 1963.1h0M2054.6 1959.7h0M2056.9 1962.0h0M2059.2 1967.7h0M2061.4 1971.1h0M2063.7 1953.0h0M2066.0 1969.5h0M2068.3 1975.0h0M2070.6 1943.5h0M2072.8 1970.5h0M2075.1 1972.6h0M2077.4 1956.2h0M2079.7 1962.3h0M2081.9 1951.4h0M2084.2 1957.0h0M2086.5 1956.8h0M2088.8 1953.5h0M2091.0 1970.5h0M2093.3 1950.0h0M2095.6 1962.4h0M2097.8 1951.5h0M2100.1 1957.9h0M2102.4 1972.6h0M2104.7 1968.2h0M2106.9 1962.5h0M2109.2 1976.2h0M2111.5 1957.7h0M2113.8 1973.4h0M2116.1 1958.4h0M2118.3 1942.4h0M2120.6 1944.9h0M2122.9 1954.1h0M2125.2 1974.0h0M2127.4 1961.8h0M2129.7 1965.0h0M2132.0 1969.4h0M2134.2 1946.8h0M2136.5 1963.9h0M2138.8 1967.3h0M2141.1 1949.7h0M2143.3 1970.2h0M2145.6 1952.5h0M2147.9 1965.8h0M2150.2 1955.8h0M2152.4 1962.2h0M2154.7 1945.5h0M2157.0 1969.0h0M2159.3 1945.0h0M2161.6 1973.7h0M2163.8 1974.9h0M2166.1 1941.7h0M2168.4 1962.6h0M2170.7 1957.9h0M2172.9 1972.1h0M2175.2 1943.5h0M2177.5 1959.5h0M2179.8 1948.8h0M2182.0 1954.0h0M2184.3 1969.7h0M2186.6 1954.2h0M2188.8 1968.1h0M2191.1 1953.5h0M2193.4 1958.2h0M2195.7 1974.5h0M2197.9 1965.2h0M2200.2 1971.8h0M2202.5 1965.9h0"/>
<path class="d" stroke="#ff1519" d="M1547.3 1973.8h0M1549.6 1973.8h0M1551.8 1973.8h0M1554.1 1973.8h0M1556.4 1973.8h0M1558.7 1973.8h0M1561.0 1973.8h0M1563.2 1973.8h0M1565.5 1973.8h0M1567.8 1973.8h0M1570.0 1973.8h0M1572.3 1973.8h0M1574.6 1973.8h0M1576.9 1973.8h0M1579.1 1973.8h0M1581.4 1973.8h0M1583.7 1973.8h0M1586.0 1973.8h0M1588.2 1973.8h0M1590.5 1973.8h0M1592.8 1973.8h0M1595.1 1973.8h0M1597.3 1973.8h0M1599.6 1973.8h0M1601.9 1973.8h0M1604.2 1973.8h0M1606.5 1973.8h0M1608.7 1973.8h0M1611.0 1973.8h0M1613.3 1973.8h0M1615.5 1973.1h0M1617.8 1973.3h0M1620.1 1971.2h0M1622.4 1970.7h0M1624.6 1971.8h0M1626.9 1971.3h0M1629.2 1968.3h0M1631.5 1965.1h0M1633.8 1970.5h0M1636.0 1964.2h0M1638.3 1965.5h0M1640.6 1959.7h0M1642.8 1960.5h0M1645.1 1969.8h0M1647.4 1952.0h0M1649.7 1955.3h0M1652.0 1939.8h0M1654.2 1950.3h0M1656.5 1960.9h0M1658.8 1935.0h0M1661.0 1954.8h0M1663.3 1953.8h0M1665.6 1935.6h0M1667.9 1934.2h0M1670.1 1939.5h0M1672.4 1937.3h0M1674.7 1942.7h0M1677.0 1946.4h0M1679.2 1955.4h0M1681.5 1953.9h0M1683.8 1935.4h0M1686.1 1940.1h0M1688.3 1949.9h0M1690.6 1957.1h0M1692.9 1957.0h0M1695.2 1953.2h0M1697.5 1958.1h0M1699.7 1951.5h0M1702.0 1959.8h0M1704.3 1933.1h0M1706.5 1933.0h0M1708.8 1949.3h0M1711.1 1949.0h0M1713.4 1952.3h0M1715.6 1957.3h0M1717.9 1936.7h0M1720.2 1953.7h0M1722.5 1932.6h0M1724.8 1946.7h0M1727.0 1949.7h0M1729.3 1945.1h0M1731.6 1937.2h0M1733.8 1942.7h0M1736.1 1953.6h0M1738.4 1932.8h0M1740.7 1943.2h0M1743.0 1955.4h0M1745.2 1937.5h0M1747.5 1959.2h0M1749.8 1949.3h0M1752.0 1947.4h0M1754.3 1959.4h0M1756.6 1950.5h0M1758.9 1932.1h0M1761.1 1941.4h0M1763.4 1952.3h0M1765.7 1956.8h0M1768.0 1937.5h0M1770.2 1947.2h0M1772.5 1955.2h0M1774.8 1930.2h0M1777.1 1954.3h0M1779.3 1933.9h0M1781.6 1939.1h0M1783.9 1958.0h0M1786.2 1948.8h0M1788.4 1934.2h0M1790.7 1940.0h0M1793.0 1955.4h0M1795.3 1952.3h0M1797.5 1944.4h0M1799.8 1957.2h0M1802.1 1949.7h0M1804.4 1939.4h0M1806.6 1958.2h0M1808.9 1934.9h0M1811.2 1942.1h0M1813.5 1932.6h0M1815.8 1935.2h0M1818.0 1944.0h0M1820.3 1959.3h0M1822.6 1952.7h0M1824.8 1952.4h0M1827.1 1938.2h0M1829.4 1941.1h0M1831.7 1953.5h0M1833.9 1959.1h0M1836.2 1934.8h0M1838.5 1928.5h0M1840.8 1929.8h0M1843.0 1934.1h0M1845.3 1954.8h0M1847.6 1957.2h0M1849.9 1933.6h0M1852.1 1939.2h0M1854.4 1952.0h0M1856.7 1942.2h0M1859.0 1925.8h0M1861.2 1957.2h0M1863.5 1938.7h0M1865.8 1926.3h0M1868.1 1948.6h0M1870.3 1923.6h0M1872.6 1952.1h0M1874.9 1951.6h0M1877.2 1959.8h0M1879.4 1951.5h0M1881.7 1942.6h0M1884.0 1943.5h0M1886.3 1926.5h0M1888.5 1950.5h0M1890.8 1956.9h0M1893.1 1943.4h0M1895.4 1941.6h0M1897.6 1960.3h0M1899.9 1934.8h0M1902.2 1926.3h0M1904.5 1947.9h0M1906.8 1939.6h0M1909.0 1926.5h0M1911.3 1931.6h0M1913.6 1939.3h0M1915.8 1956.7h0M1918.1 1953.0h0M1920.4 1946.7h0M1922.7 1937.6h0M1924.9 1952.7h0M1927.2 1957.8h0M1929.5 1923.7h0M1931.8 1929.8h0M1934.0 1935.4h0M1936.3 1933.0h0M1938.6 1928.1h0M1940.9 1926.8h0M1943.1 1954.9h0M1945.4 1951.1h0M1947.7 1923.2h0M1950.0 1944.0h0M1952.2 1955.1h0M1954.5 1934.2h0M1956.8 1942.1h0M1959.1 1949.3h0M1961.3 1946.3h0M1963.6 1933.7h0M1965.9 1947.7h0M1968.2 1928.5h0M1970.4 1950.1h0M1972.7 1932.2h0M1975.0 1946.7h0M1977.3 1928.5h0M1979.5 1949.9h0M1981.8 1945.1h0M1984.1 1938.7h0M1986.4 1907.6h0M1988.6 1896.6h0M1990.9 1881.4h0M1993.2 1873.4h0M1995.5 1859.2h0M1997.8 1837.5h0M2000.0 1825.7h0M2002.3 1813.2h0M2004.6 1803.5h0M2006.8 1791.2h0M2009.1 1767.2h0M2011.4 1743.7h0M2013.7 1711.0h0M2015.9 1691.5h0M2018.2 1685.2h0M2020.5 1640.6h0M2022.8 1600.1h0M2025.0 1600.0h0M2027.3 1585.8h0M2029.6 1566.9h0M2031.9 1518.9h0M2034.1 1515.7h0M2036.4 1508.1h0M2038.7 1496.0h0M2041.0 1481.8h0M2043.2 1481.2h0M2045.5 1467.0h0M2047.8 1460.4h0M2050.1 1464.1h0M2052.3 1451.5h0M2054.6 1442.6h0M2056.9 1437.6h0M2059.2 1427.5h0M2061.4 1433.0h0M2063.7 1420.9h0M2066.0 1418.5h0M2068.3 1418.5h0M2070.6 1411.2h0M2072.8 1418.6h0M2075.1 1408.9h0M2077.4 1413.0h0M2079.7 1415.6h0M2081.9 1419.1h0M2084.2 1408.6h0M2086.5 1398.1h0M2088.8 1419.5h0M2091.0 1397.6h0M2093.3 1422.2h0M2095.6 1393.1h0M2097.8 1409.2h0M2100.1 1410.4h0M2102.4 1396.2h0M2104.7 1419.6h0M2106.9 1421.2h0M2109.2 1396.2h0M2111.5 1416.6h0M2113.8 1412.1h0M2116.1 1397.0h0M2118.3 1404.2h0M2120.6 1400.9h0M2122.9 1393.2h0M2125.2 1419.4h0M2127.4 1411.6h0M2129.7 1426.8h0M2132.0 1397.4h0M2134.2 1397.2h0M2136.5 1401.6h0M2138.8 1419.4h0M2141.1 1402.1h0M2143.3 1407.2h0M2145.6 1407.4h0M2147.9 1407.5h0M2150.2 1421.2h0M2152.4 1415.3h0M2154.7 1418.7h0M2157.0 1394.2h0M2159.3 1387.9h0M2161.6 1416.1h0M2163.8 1393.4h0M2166.1 1417.4h0M2168.4 1421.8h0M2170.7 1416.5h0M2172.9 1399.5h0M2175.2 1426.0h0M2177.5 1422.6h0M2179.8 1398.7h0M2182.0 1426.2h0M2184.3 1397.5h0M2186.6 1396.0h0M2188.8 1406.6h0M2191.1 1417.5h0M2193.4 1405.9h0M2195.7 1402.0h0M2197.9 1423.6h0M2200.2 1425.8h0M2202.5 1413.2h0"/>
</g>
<path class="tk" d="M237.0 1044.0h39.5M892.0 1044.0h-39.5M237.0 996.2h19.5M892.0 996.2h-19.5M237.0 948.4h19.5M892.0 948.4h-19.5M237.0 900.7h19.5M892.0 900.7h-19.5M237.0 852.9h19.5M892.0 852.9h-19.5M237.0 805.1h39.5M892.0 805.1h-39.5M237.0 757.3h19.5M892.0 757.3h-19.5M237.0 709.5h19.5M892.0 709.5h-19.5M237.0 661.8h19.5M892.0 661.8h-19.5M237.0 614.0h19.5M892.0 614.0h-19.5M237.0 566.2h39.5M892.0 566.2h-39.5M237.0 518.4h19.5M892.0 518.4h-19.5M237.0 470.6h19.5M892.0 470.6h-19.5M237.0 422.9h19.5M892.0 422.9h-19.5M237.0 375.1h19.5M892.0 375.1h-19.5M237.0 327.3h39.5M892.0 327.3h-39.5M237.0 279.5h19.5M892.0 279.5h-19.5M237.0 231.7h19.5M892.0 231.7h-19.5M237.0 184.0h19.5M892.0 184.0h-19.5M237.0 136.2h19.5M892.0 136.2h-19.5M237.0 88.4h39.5M892.0 88.4h-39.5M237.0 1044.0v-39.5M259.8 1044.0v-19.5M282.5 1044.0v-19.5M305.2 1044.0v-19.5M328.0 1044.0v-19.5M350.8 1044.0v-19.5M373.5 1044.0v-19.5M396.2 1044.0v-19.5M419.0 1044.0v-19.5M441.8 1044.0v-19.5M464.5 1044.0v-39.5M487.2 1044.0v-19.5M510.0 1044.0v-19.5M532.8 1044.0v-19.5M555.5 1044.0v-19.5M578.2 1044.0v-19.5M601.0 1044.0v-19.5M623.8 1044.0v-19.5M646.5 1044.0v-19.5M669.2 1044.0v-19.5M692.0 1044.0v-39.5M714.8 1044.0v-19.5M737.5 1044.0v-19.5M760.2 1044.0v-19.5M783.0 1044.0v-19.5M805.8 1044.0v-19.5M828.5 1044.0v-19.5M851.2 1044.0v-19.5M874.0 1044.0v-19.5M892.0 1044.0h39.5M1547.3 1044.0h-39.5M892.0 996.2h19.5M1547.3 996.2h-19.5M892.0 948.4h19.5M1547.3 948.4h-19.5M892.0 900.7h19.5M1547.3 900.7h-19.5M892.0 852.9h19.5M1547.3 852.9h-19.5M892.0 805.1h39.5M1547.3 805.1h-39.5M892.0 757.3h19.5M1547.3 757.3h-19.5M892.0 709.5h19.5M1547.3 709.5h-19.5M892.0 661.8h19.5M1547.3 661.8h-19.5M892.0 614.0h19.5M1547.3 614.0h-19.5M892.0 566.2h39.5M1547.3 566.2h-39.5M892.0 518.4h19.5M1547.3 518.4h-19.5M892.0 470.6h19.5M1547.3 470.6h-19.5M892.0 422.9h19.5M1547.3 422.9h-19.5M892.0 375.1h19.5M1547.3 375.1h-19.5M892.0 327.3h39.5M1547.3 327.3h-39.5M892.0 279.5h19.5M1547.3 279.5h-19.5M892.0 231.7h19.5M1547.3 231.7h-19.5M892.0 184.0h19.5M1547.3 184.0h-19.5M892.0 136.2h19.5M1547.3 136.2h-19.5M892.0 88.4h39.5M1547.3 88.4h-39.5M892.0 1044.0v-39.5M914.8 1044.0v-19.5M937.5 1044.0v-19.5M960.2 1044.0v-19.5M983.0 1044.0v-19.5M1005.8 1044.0v-19.5M1028.5 1044.0v-19.5M1051.2 1044.0v-19.5M1074.0 1044.0v-19.5M1096.8 1044.0v-19.5M1119.5 1044.0v-39.5M1142.2 1044.0v-19.5M1165.0 1044.0v-19.5M1187.8 1044.0v-19.5M1210.5 1044.0v-19.5M1233.2 1044.0v-19.5M1256.0 1044.0v-19.5M1278.8 1044.0v-19.5M1301.5 1044.0v-19.5M1324.2 1044.0v-19.5M1347.0 1044.0v-39.5M1369.8 1044.0v-19.5M1392.5 1044.0v-19.5M1415.2 1044.0v-19.5M1438.0 1044.0v-19.5M1460.8 1044.0v-19.5M1483.5 1044.0v-19.5M1506.2 1044.0v-19.5M1529.0 1044.0v-19.5M1547.3 1044.0h39.5M2203.0 1044.0h-39.5M1547.3 996.2h19.5M2203.0 996.2h-19.5M1547.3 948.4h19.5M2203.0 948.4h-19.5M1547.3 900.7h19.5M2203.0 900.7h-19.5M1547.3 852.9h19.5M2203.0 852.9h-19.5M1547.3 805.1h39.5M2203.0 805.1h-39.5M1547.3 757.3h19.5M2203.0 757.3h-19.5M1547.3 709.5h19.5M2203.0 709.5h-19.5M1547.3 661.8h19.5M2203.0 661.8h-19.5M1547.3 614.0h19.5M2203.0 614.0h-19.5M1547.3 566.2h39.5M2203.0 566.2h-39.5M1547.3 518.4h19.5M2203.0 518.4h-19.5M1547.3 470.6h19.5M2203.0 470.6h-19.5M1547.3 422.9h19.5M2203.0 422.9h-19.5M1547.3 375.1h19.5M2203.0 375.1h-19.5M1547.3 327.3h39.5M2203.0 327.3h-39.5M1547.3 279.5h19.5M2203.0 279.5h-19.5M1547.3 231.7h19.5M2203.0 231.7h-19.5M1547.3 184.0h19.5M2203.0 184.0h-19.5M1547.3 136.2h19.5M2203.0 136.2h-19.5M1547.3 88.4h39.5M2203.0 88.4h-39.5M1547.3 1044.0v-39.5M1570.0 1044.0v-19.5M1592.8 1044.0v-19.5M1615.5 1044.0v-19.5M1638.3 1044.0v-19.5M1661.0 1044.0v-19.5M1683.8 1044.0v-19.5M1706.5 1044.0v-19.5M1729.3 1044.0v-19.5M1752.0 1044.0v-19.5M1774.8 1044.0v-39.5M1797.5 1044.0v-19.5M1820.3 1044.0v-19.5M1843.0 1044.0v-19.5M1865.8 1044.0v-19.5M1888.5 1044.0v-19.5M1911.3 1044.0v-19.5M1934.0 1044.0v-19.5M1956.8 1044.0v-19.5M1979.5 1044.0v-19.5M2002.3 1044.0v-39.5M2025.0 1044.0v-19.5M2047.8 1044.0v-19.5M2070.6 1044.0v-19.5M2093.3 1044.0v-19.5M2116.1 1044.0v-19.5M2138.8 1044.0v-19.5M2161.6 1044.0v-19.5M2184.3 1044.0v-19.5M237.0 1999.6h39.5M892.0 1999.6h-39.5M237.0 1951.8h19.5M892.0 1951.8h-19.5M237.0 1904.0h19.5M892.0 1904.0h-19.5M237.0 1856.3h19.5M892.0 1856.3h-19.5M237.0 1808.5h19.5M892.0 1808.5h-19.5M237.0 1760.7h39.5M892.0 1760.7h-39.5M237.0 1712.9h19.5M892.0 1712.9h-19.5M237.0 1665.1h19.5M892.0 1665.1h-19.5M237.0 1617.4h19.5M892.0 1617.4h-19.5M237.0 1569.6h19.5M892.0 1569.6h-19.5M237.0 1521.8h39.5M892.0 1521.8h-39.5M237.0 1474.0h19.5M892.0 1474.0h-19.5M237.0 1426.2h19.5M892.0 1426.2h-19.5M237.0 1378.5h19.5M892.0 1378.5h-19.5M237.0 1330.7h19.5M892.0 1330.7h-19.5M237.0 1282.9h39.5M892.0 1282.9h-39.5M237.0 1235.1h19.5M892.0 1235.1h-19.5M237.0 1187.3h19.5M892.0 1187.3h-19.5M237.0 1139.6h19.5M892.0 1139.6h-19.5M237.0 1091.8h19.5M892.0 1091.8h-19.5M237.0 1044.0h39.5M892.0 1044.0h-39.5M237.0 1999.6v-39.5M259.8 1999.6v-19.5M282.5 1999.6v-19.5M305.2 1999.6v-19.5M328.0 1999.6v-19.5M350.8 1999.6v-19.5M373.5 1999.6v-19.5M396.2 1999.6v-19.5M419.0 1999.6v-19.5M441.8 1999.6v-19.5M464.5 1999.6v-39.5M487.2 1999.6v-19.5M510.0 1999.6v-19.5M532.8 1999.6v-19.5M555.5 1999.6v-19.5M578.2 1999.6v-19.5M601.0 1999.6v-19.5M623.8 1999.6v-19.5M646.5 1999.6v-19.5M669.2 1999.6v-19.5M692.0 1999.6v-39.5M714.8 1999.6v-19.5M737.5 1999.6v-19.5M760.2 1999.6v-19.5M783.0 1999.6v-19.5M805.8 1999.6v-19.5M828.5 1999.6v-19.5M851.2 1999.6v-19.5M874.0 1999.6v-19.5M892.0 1999.6h39.5M1547.3 1999.6h-39.5M892.0 1951.8h19.5M1547.3 1951.8h-19.5M892.0 1904.0h19.5M1547.3 1904.0h-19.5M892.0 1856.3h19.5M1547.3 1856.3h-19.5M892.0 1808.5h19.5M1547.3 1808.5h-19.5M892.0 1760.7h39.5M1547.3 1760.7h-39.5M892.0 1712.9h19.5M1547.3 1712.9h-19.5M892.0 1665.1h19.5M1547.3 1665.1h-19.5M892.0 1617.4h19.5M1547.3 1617.4h-19.5M892.0 1569.6h19.5M1547.3 1569.6h-19.5M892.0 1521.8h39.5M1547.3 1521.8h-39.5M892.0 1474.0h19.5M1547.3 1474.0h-19.5M892.0 1426.2h19.5M1547.3 1426.2h-19.5M892.0 1378.5h19.5M1547.3 1378.5h-19.5M892.0 1330.7h19.5M1547.3 1330.7h-19.5M892.0 1282.9h39.5M1547.3 1282.9h-39.5M892.0 1235.1h19.5M1547.3 1235.1h-19.5M892.0 1187.3h19.5M1547.3 1187.3h-19.5M892.0 1139.6h19.5M1547.3 1139.6h-19.5M892.0 1091.8h19.5M1547.3 1091.8h-19.5M892.0 1044.0h39.5M1547.3 1044.0h-39.5M892.0 1999.6v-39.5M914.8 1999.6v-19.5M937.5 1999.6v-19.5M960.2 1999.6v-19.5M983.0 1999.6v-19.5M1005.8 1999.6v-19.5M1028.5 1999.6v-19.5M1051.2 1999.6v-19.5M1074.0 1999.6v-19.5M1096.8 1999.6v-19.5M1119.5 1999.6v-39.5M1142.2 1999.6v-19.5M1165.0 1999.6v-19.5M1187.8 1999.6v-19.5M1210.5 1999.6v-19.5M1233.2 1999.6v-19.5M1256.0 1999.6v-19.5M1278.8 1999.6v-19.5M1301.5 1999.6v-19.5M1324.2 1999.6v-19.5M1347.0 1999.6v-39.5M1369.8 1999.6v-19.5M1392.5 1999.6v-19.5M1415.2 1999.6v-19.5M1438.0 1999.6v-19.5M1460.8 1999.6v-19.5M1483.5 1999.6v-19.5M1506.2 1999.6v-19.5M1529.0 1999.6v-19.5M1547.3 1999.6h39.5M2203.0 1999.6h-39.5M1547.3 1951.8h19.5M2203.0 1951.8h-19.5M1547.3 1904.0h19.5M2203.0 1904.0h-19.5M1547.3 1856.3h19.5M2203.0 1856.3h-19.5M1547.3 1808.5h19.5M2203.0 1808.5h-19.5M1547.3 1760.7h39.5M2203.0 1760.7h-39.5M1547.3 1712.9h19.5M2203.0 1712.9h-19.5M1547.3 1665.1h19.5M2203.0 1665.1h-19.5M1547.3 1617.4h19.5M2203.0 1617.4h-19.5M1547.3 1569.6h19.5M2203.0 1569.6h-19.5M1547.3 1521.8h39.5M2203.0 1521.8h-39.5M1547.3 1474.0h19.5M2203.0 1474.0h-19.5M1547.3 1426.2h19.5M2203.0 1426.2h-19.5M1547.3 1378.5h19.5M2203.0 1378.5h-19.5M1547.3 1330.7h19.5M2203.0 1330.7h-19.5M1547.3 1282.9h39.5M2203.0 1282.9h-39.5M1547.3 1235.1h19.5M2203.0 1235.1h-19.5M1547.3 1187.3h19.5M2203.0 1187.3h-19.5M1547.3 1139.6h19.5M2203.0 1139.6h-19.5M1547.3 1091.8h19.5M2203.0 1091.8h-19.5M1547.3 1044.0h39.5M2203.0 1044.0h-39.5M1547.3 1999.6v-39.5M1570.0 1999.6v-19.5M1592.8 1999.6v-19.5M1615.5 1999.6v-19.5M1638.3 1999.6v-19.5M1661.0 1999.6v-19.5M1683.8 1999.6v-19.5M1706.5 1999.6v-19.5M1729.3 1999.6v-19.5M1752.0 1999.6v-19.5M1774.8 1999.6v-39.5M1797.5 1999.6v-19.5M1820.3 1999.6v-19.5M1843.0 1999.6v-19.5M1865.8 1999.6v-19.5M1888.5 1999.6v-19.5M1911.3 1999.6v-19.5M1934.0 1999.6v-19.5M1956.8 1999.6v-19.5M1979.5 1999.6v-19.5M2002.3 1999.6v-39.5M2025.0 1999.6v-19.5M2047.8 1999.6v-19.5M2070.6 1999.6v-19.5M2093.3 1999.6v-19.5M2116.1 1999.6v-19.5M2138.8 1999.6v-19.5M2161.6 1999.6v-19.5M2184.3 1999.6v-19.5"/>
<path class="ax" d="M237.0 88.4H892.0V1044.0H237.0ZM892.0 88.4H1547.3V1044.0H892.0ZM1547.3 88.4H2203.0V1044.0H1547.3ZM237.0 1044.0H892.0V1999.6H237.0ZM892.0 1044.0H1547.3V1999.6H892.0ZM1547.3 1044.0H2203.0V1999.6H1547.3Z"/>
<circle cx="567.4" cy="42" r="13.2" fill="#ff1519"/>
<circle cx="940.5" cy="42" r="13.2" fill="#047fba"/>
<circle cx="1314.0" cy="42" r="13.2" fill="#03b04a"/>
<circle cx="1686.9" cy="42" r="13.2" fill="#ab4fa8"/>
<text transform="translate(657.6 64.2) scale(1.000 1.030)" text-anchor="start">CH34</text>
<text transform="translate(1030.2 64.2) scale(1.000 1.030)" text-anchor="start">NA1</text>
<text transform="translate(1404.8 64.2) scale(1.000 1.030)" text-anchor="start">NA4</text>
<text transform="translate(1776.4 64.2) scale(1.000 1.030)" text-anchor="start">H1130</text>
<text transform="translate(563.5 170.0) scale(1.006 1.015)" text-anchor="middle">Na-metavanadate #1</text>
<text transform="translate(563.5 243.8) scale(1.008 1.015)" text-anchor="middle">(PM14 F09)</text>
<text transform="translate(1218.7 170.0) scale(1.006 1.015)" text-anchor="middle">Na-orthovanadate #1</text>
<text transform="translate(1218.7 243.8) scale(1.008 1.015)" text-anchor="middle">(PM14 H09)</text>
<text transform="translate(1874.2 170.0) scale(1.006 1.015)" text-anchor="middle">Na-metaperiodate #1</text>
<text transform="translate(1874.2 243.8) scale(1.008 1.015)" text-anchor="middle">(PM18 E05)</text>
<text transform="translate(563.5 1125.0) scale(1.006 1.015)" text-anchor="middle">potassium tellurite #1</text>
<text transform="translate(563.5 1198.8) scale(1.008 1.015)" text-anchor="middle">(PM16 F01)</text>
<text transform="translate(1218.7 1125.0) scale(1.006 1.015)" text-anchor="middle">thallium acetate #1</text>
<text transform="translate(1218.7 1198.8) scale(1.008 1.015)" text-anchor="middle">(PM13 F09)</text>
<text transform="translate(1874.2 1125.0) scale(1.006 1.015)" text-anchor="middle">tolylfluanid #1</text>
<text transform="translate(1874.2 1198.8) scale(1.008 1.015)" text-anchor="middle">(PM20 H05)</text>
<text transform="translate(220.5 1042.7) scale(1.000 1.020)" text-anchor="end">0</text>
<text transform="translate(220.5 828.5) scale(1.000 1.020)" text-anchor="end">100</text>
<text transform="translate(220.5 589.6) scale(1.000 1.020)" text-anchor="end">200</text>
<text transform="translate(220.5 350.7) scale(1.000 1.020)" text-anchor="end">300</text>
<text transform="translate(220.5 111.8) scale(1.000 1.020)" text-anchor="end">400</text>
<text transform="translate(74.2 565.7) rotate(-90) scale(1.000 1.030)" text-anchor="middle">AOU</text>
<text transform="translate(220.5 2023.0) scale(1.000 1.020)" text-anchor="end">0</text>
<text transform="translate(220.5 1784.1) scale(1.000 1.020)" text-anchor="end">100</text>
<text transform="translate(220.5 1545.2) scale(1.000 1.020)" text-anchor="end">200</text>
<text transform="translate(220.5 1306.3) scale(1.000 1.020)" text-anchor="end">300</text>
<text transform="translate(220.5 1106.3) scale(1.000 1.020)" text-anchor="end">400</text>
<text transform="translate(74.2 1521.3) rotate(-90) scale(1.000 1.030)" text-anchor="middle">AOU</text>
<text transform="translate(236.2 2073.8) scale(1.000 1.020)" text-anchor="middle">0</text>
<text transform="translate(463.7 2073.8) scale(1.000 1.020)" text-anchor="middle">50</text>
<text transform="translate(691.2 2073.8) scale(1.000 1.020)" text-anchor="middle">100</text>
<text transform="translate(565.0 2165.0) scale(1.026 1.000)" text-anchor="middle">time (h)</text>
<text transform="translate(890.5 2073.8) scale(1.000 1.020)" text-anchor="start">0</text>
<text transform="translate(1118.7 2073.8) scale(1.000 1.020)" text-anchor="middle">50</text>
<text transform="translate(1346.2 2073.8) scale(1.000 1.020)" text-anchor="middle">100</text>
<text transform="translate(1220.2 2165.0) scale(1.026 1.000)" text-anchor="middle">time (h)</text>
<text transform="translate(1545.8 2073.8) scale(1.000 1.020)" text-anchor="start">0</text>
<text transform="translate(1774.0 2073.8) scale(1.000 1.020)" text-anchor="middle">50</text>
<text transform="translate(2001.5 2073.8) scale(1.000 1.020)" text-anchor="middle">100</text>
<text transform="translate(1875.7 2165.0) scale(1.026 1.000)" text-anchor="middle">time (h)</text>
</svg></body></html>
